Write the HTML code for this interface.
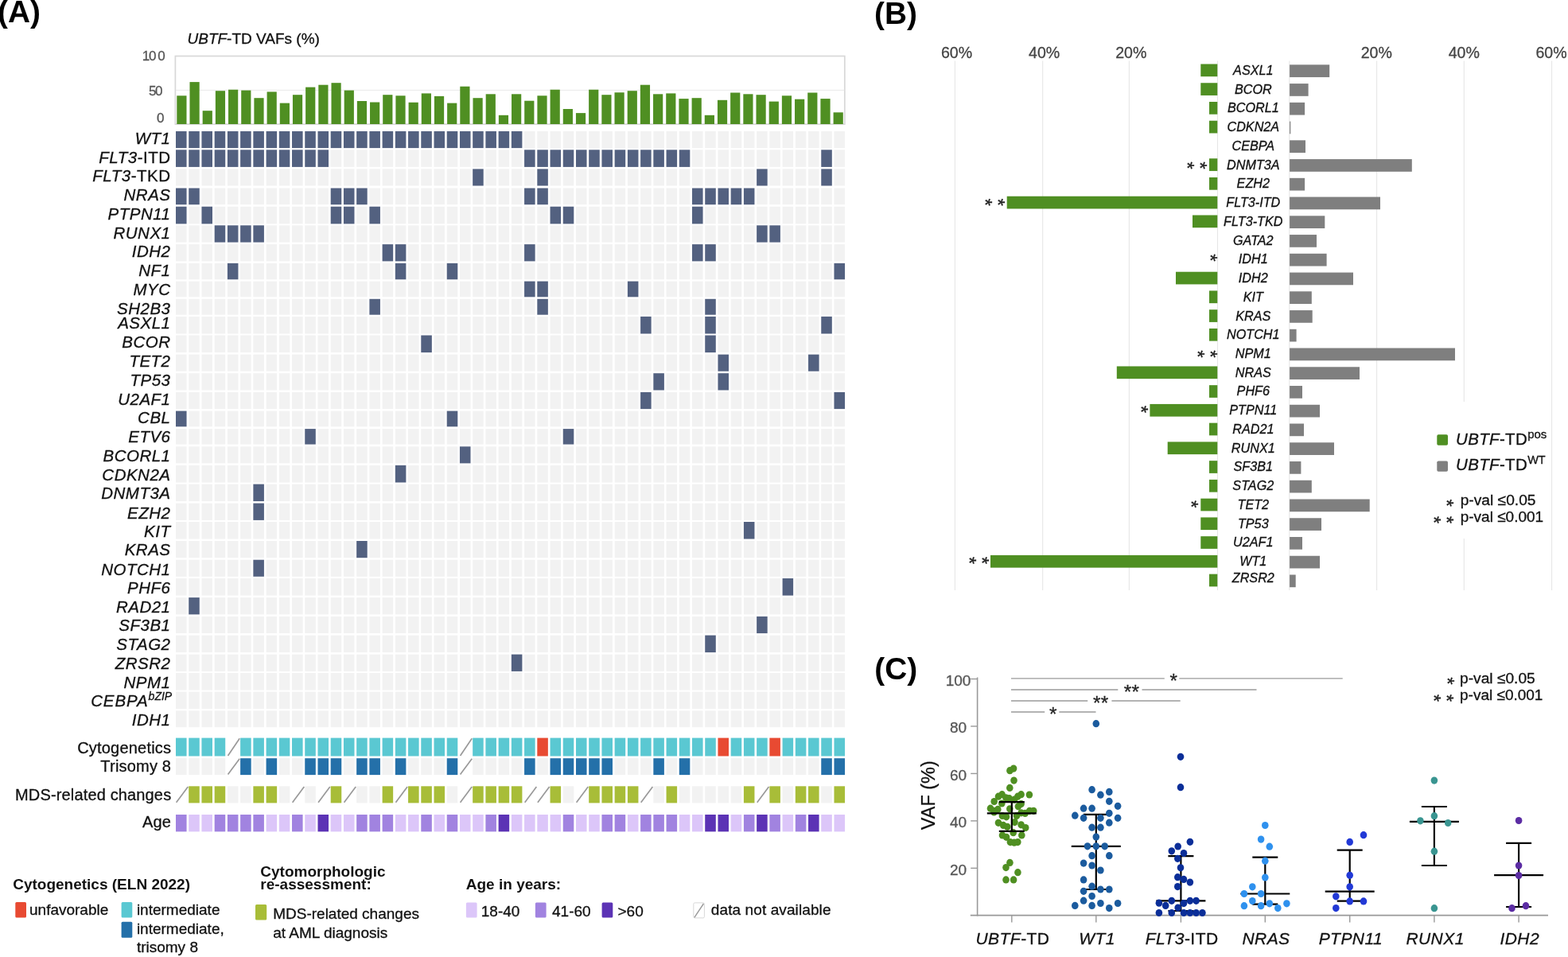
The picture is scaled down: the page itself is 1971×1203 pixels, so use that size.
<!DOCTYPE html>
<html><head><meta charset="utf-8"><title>UBTF-TD figure</title>
<style>
html,body{margin:0;padding:0;background:#fff;width:1971px;height:1203px;overflow:hidden;}
svg{display:block;}
text{font-family:"Liberation Sans", Arial, sans-serif;}
text{stroke-width:0.3px;}
</style></head><body>
<svg width="1971" height="1203" viewBox="0 0 1971 1203">
<text x="-2.9" y="27.8" font-size="38.8" font-weight="bold" fill="#000">(A)</text>
<text x="235.5" y="55" font-size="19" fill="#111111" stroke="#111111"><tspan font-style="italic">UBTF</tspan>-TD VAFs (%)</text>
<text x="178.8" y="76.4" font-size="17" fill="#555" letter-spacing="-1.2" stroke="#555">10</text>
<text x="198.2" y="76.4" font-size="17" fill="#555" stroke="#555">0</text>
<text x="187" y="119.6" font-size="17" fill="#555" letter-spacing="-1.5" stroke="#555">50</text>
<text x="197.1" y="153.6" font-size="17" fill="#555" stroke="#555">0</text>
<rect x="220.4" y="70.5" width="841.4" height="85.6" fill="none" stroke="#d8d8d8" stroke-width="1.7"/>
<line x1="221" y1="113.3" x2="1061.2" y2="113.3" stroke="#e8e8e8" stroke-width="1"/>
<rect x="222.3" y="120.3" width="12.2" height="35.7" fill="#4f8f22"/>
<rect x="238.48" y="103.1" width="12.2" height="52.9" fill="#4f8f22"/>
<rect x="254.66" y="139.2" width="12.2" height="16.8" fill="#4f8f22"/>
<rect x="270.85" y="114.2" width="12.2" height="41.8" fill="#4f8f22"/>
<rect x="287.03" y="112.7" width="12.2" height="43.3" fill="#4f8f22"/>
<rect x="303.21" y="113.6" width="12.2" height="42.4" fill="#4f8f22"/>
<rect x="319.39" y="123.2" width="12.2" height="32.8" fill="#4f8f22"/>
<rect x="335.57" y="115.4" width="12.2" height="40.6" fill="#4f8f22"/>
<rect x="351.76" y="129.6" width="12.2" height="26.4" fill="#4f8f22"/>
<rect x="367.94" y="119.2" width="12.2" height="36.8" fill="#4f8f22"/>
<rect x="384.12" y="109.6" width="12.2" height="46.4" fill="#4f8f22"/>
<rect x="400.3" y="106.7" width="12.2" height="49.3" fill="#4f8f22"/>
<rect x="416.48" y="104.2" width="12.2" height="51.8" fill="#4f8f22"/>
<rect x="432.67" y="113.6" width="12.2" height="42.4" fill="#4f8f22"/>
<rect x="448.85" y="127" width="12.2" height="29" fill="#4f8f22"/>
<rect x="465.03" y="128.5" width="12.2" height="27.5" fill="#4f8f22"/>
<rect x="481.21" y="119.2" width="12.2" height="36.8" fill="#4f8f22"/>
<rect x="497.39" y="120.3" width="12.2" height="35.7" fill="#4f8f22"/>
<rect x="513.58" y="128.75" width="12.2" height="27.25" fill="#4f8f22"/>
<rect x="529.76" y="117.4" width="12.2" height="38.6" fill="#4f8f22"/>
<rect x="545.94" y="120.9" width="12.2" height="35.1" fill="#4f8f22"/>
<rect x="562.12" y="129.6" width="12.2" height="26.4" fill="#4f8f22"/>
<rect x="578.3" y="108.7" width="12.2" height="47.3" fill="#4f8f22"/>
<rect x="594.49" y="123.2" width="12.2" height="32.8" fill="#4f8f22"/>
<rect x="610.67" y="118.3" width="12.2" height="37.7" fill="#4f8f22"/>
<rect x="626.85" y="144.8" width="12.2" height="11.2" fill="#4f8f22"/>
<rect x="643.03" y="118.3" width="12.2" height="37.7" fill="#4f8f22"/>
<rect x="659.21" y="126.7" width="12.2" height="29.3" fill="#4f8f22"/>
<rect x="675.4" y="120.3" width="12.2" height="35.7" fill="#4f8f22"/>
<rect x="691.58" y="112.7" width="12.2" height="43.3" fill="#4f8f22"/>
<rect x="707.76" y="137" width="12.2" height="19" fill="#4f8f22"/>
<rect x="723.94" y="142.1" width="12.2" height="13.9" fill="#4f8f22"/>
<rect x="740.12" y="112.7" width="12.2" height="43.3" fill="#4f8f22"/>
<rect x="756.31" y="119.2" width="12.2" height="36.8" fill="#4f8f22"/>
<rect x="772.49" y="116.25" width="12.2" height="39.75" fill="#4f8f22"/>
<rect x="788.67" y="114.2" width="12.2" height="41.8" fill="#4f8f22"/>
<rect x="804.85" y="106.7" width="12.2" height="49.3" fill="#4f8f22"/>
<rect x="821.03" y="118.3" width="12.2" height="37.7" fill="#4f8f22"/>
<rect x="837.22" y="117.4" width="12.2" height="38.6" fill="#4f8f22"/>
<rect x="853.4" y="124.1" width="12.2" height="31.9" fill="#4f8f22"/>
<rect x="869.58" y="123.2" width="12.2" height="32.8" fill="#4f8f22"/>
<rect x="885.76" y="144.8" width="12.2" height="11.2" fill="#4f8f22"/>
<rect x="901.94" y="125.8" width="12.2" height="30.2" fill="#4f8f22"/>
<rect x="918.13" y="116.5" width="12.2" height="39.5" fill="#4f8f22"/>
<rect x="934.31" y="118.3" width="12.2" height="37.7" fill="#4f8f22"/>
<rect x="950.49" y="119.2" width="12.2" height="36.8" fill="#4f8f22"/>
<rect x="966.67" y="127.6" width="12.2" height="28.4" fill="#4f8f22"/>
<rect x="982.85" y="120.3" width="12.2" height="35.7" fill="#4f8f22"/>
<rect x="999.04" y="124.7" width="12.2" height="31.3" fill="#4f8f22"/>
<rect x="1015.22" y="116.5" width="12.2" height="39.5" fill="#4f8f22"/>
<rect x="1031.4" y="124.1" width="12.2" height="31.9" fill="#4f8f22"/>
<rect x="1047.58" y="141.3" width="12.2" height="14.7" fill="#4f8f22"/>
<rect x="221" y="165" width="13.55" height="21.1" fill="#536180"/>
<rect x="237.22" y="165" width="13.55" height="21.1" fill="#536180"/>
<rect x="253.45" y="165" width="13.55" height="21.1" fill="#536180"/>
<rect x="269.68" y="165" width="13.55" height="21.1" fill="#536180"/>
<rect x="285.9" y="165" width="13.55" height="21.1" fill="#536180"/>
<rect x="302.12" y="165" width="13.55" height="21.1" fill="#536180"/>
<rect x="318.35" y="165" width="13.55" height="21.1" fill="#536180"/>
<rect x="334.58" y="165" width="13.55" height="21.1" fill="#536180"/>
<rect x="350.8" y="165" width="13.55" height="21.1" fill="#536180"/>
<rect x="367.02" y="165" width="13.55" height="21.1" fill="#536180"/>
<rect x="383.25" y="165" width="13.55" height="21.1" fill="#536180"/>
<rect x="399.48" y="165" width="13.55" height="21.1" fill="#536180"/>
<rect x="415.7" y="165" width="13.55" height="21.1" fill="#536180"/>
<rect x="431.93" y="165" width="13.55" height="21.1" fill="#536180"/>
<rect x="448.15" y="165" width="13.55" height="21.1" fill="#536180"/>
<rect x="464.38" y="165" width="13.55" height="21.1" fill="#536180"/>
<rect x="480.6" y="165" width="13.55" height="21.1" fill="#536180"/>
<rect x="496.83" y="165" width="13.55" height="21.1" fill="#536180"/>
<rect x="513.05" y="165" width="13.55" height="21.1" fill="#536180"/>
<rect x="529.28" y="165" width="13.55" height="21.1" fill="#536180"/>
<rect x="545.5" y="165" width="13.55" height="21.1" fill="#536180"/>
<rect x="561.73" y="165" width="13.55" height="21.1" fill="#536180"/>
<rect x="577.95" y="165" width="13.55" height="21.1" fill="#536180"/>
<rect x="594.17" y="165" width="13.55" height="21.1" fill="#536180"/>
<rect x="610.4" y="165" width="13.55" height="21.1" fill="#536180"/>
<rect x="626.62" y="165" width="13.55" height="21.1" fill="#536180"/>
<rect x="642.85" y="165" width="13.55" height="21.1" fill="#536180"/>
<rect x="659.08" y="165" width="13.55" height="21.1" fill="#f2f2f2"/>
<rect x="675.3" y="165" width="13.55" height="21.1" fill="#f2f2f2"/>
<rect x="691.53" y="165" width="13.55" height="21.1" fill="#f2f2f2"/>
<rect x="707.75" y="165" width="13.55" height="21.1" fill="#f2f2f2"/>
<rect x="723.98" y="165" width="13.55" height="21.1" fill="#f2f2f2"/>
<rect x="740.2" y="165" width="13.55" height="21.1" fill="#f2f2f2"/>
<rect x="756.43" y="165" width="13.55" height="21.1" fill="#f2f2f2"/>
<rect x="772.65" y="165" width="13.55" height="21.1" fill="#f2f2f2"/>
<rect x="788.88" y="165" width="13.55" height="21.1" fill="#f2f2f2"/>
<rect x="805.1" y="165" width="13.55" height="21.1" fill="#f2f2f2"/>
<rect x="821.33" y="165" width="13.55" height="21.1" fill="#f2f2f2"/>
<rect x="837.55" y="165" width="13.55" height="21.1" fill="#f2f2f2"/>
<rect x="853.78" y="165" width="13.55" height="21.1" fill="#f2f2f2"/>
<rect x="870" y="165" width="13.55" height="21.1" fill="#f2f2f2"/>
<rect x="886.23" y="165" width="13.55" height="21.1" fill="#f2f2f2"/>
<rect x="902.45" y="165" width="13.55" height="21.1" fill="#f2f2f2"/>
<rect x="918.68" y="165" width="13.55" height="21.1" fill="#f2f2f2"/>
<rect x="934.9" y="165" width="13.55" height="21.1" fill="#f2f2f2"/>
<rect x="951.13" y="165" width="13.55" height="21.1" fill="#f2f2f2"/>
<rect x="967.35" y="165" width="13.55" height="21.1" fill="#f2f2f2"/>
<rect x="983.58" y="165" width="13.55" height="21.1" fill="#f2f2f2"/>
<rect x="999.8" y="165" width="13.55" height="21.1" fill="#f2f2f2"/>
<rect x="1016.03" y="165" width="13.55" height="21.1" fill="#f2f2f2"/>
<rect x="1032.25" y="165" width="13.55" height="21.1" fill="#f2f2f2"/>
<rect x="1048.47" y="165" width="13.55" height="21.1" fill="#f2f2f2"/>
<rect x="221" y="188.3" width="13.55" height="21.6" fill="#536180"/>
<rect x="237.22" y="188.3" width="13.55" height="21.6" fill="#536180"/>
<rect x="253.45" y="188.3" width="13.55" height="21.6" fill="#536180"/>
<rect x="269.68" y="188.3" width="13.55" height="21.6" fill="#536180"/>
<rect x="285.9" y="188.3" width="13.55" height="21.6" fill="#536180"/>
<rect x="302.12" y="188.3" width="13.55" height="21.6" fill="#536180"/>
<rect x="318.35" y="188.3" width="13.55" height="21.6" fill="#536180"/>
<rect x="334.58" y="188.3" width="13.55" height="21.6" fill="#536180"/>
<rect x="350.8" y="188.3" width="13.55" height="21.6" fill="#536180"/>
<rect x="367.02" y="188.3" width="13.55" height="21.6" fill="#536180"/>
<rect x="383.25" y="188.3" width="13.55" height="21.6" fill="#536180"/>
<rect x="399.48" y="188.3" width="13.55" height="21.6" fill="#536180"/>
<rect x="415.7" y="188.3" width="13.55" height="21.6" fill="#f2f2f2"/>
<rect x="431.93" y="188.3" width="13.55" height="21.6" fill="#f2f2f2"/>
<rect x="448.15" y="188.3" width="13.55" height="21.6" fill="#f2f2f2"/>
<rect x="464.38" y="188.3" width="13.55" height="21.6" fill="#f2f2f2"/>
<rect x="480.6" y="188.3" width="13.55" height="21.6" fill="#f2f2f2"/>
<rect x="496.83" y="188.3" width="13.55" height="21.6" fill="#f2f2f2"/>
<rect x="513.05" y="188.3" width="13.55" height="21.6" fill="#f2f2f2"/>
<rect x="529.28" y="188.3" width="13.55" height="21.6" fill="#f2f2f2"/>
<rect x="545.5" y="188.3" width="13.55" height="21.6" fill="#f2f2f2"/>
<rect x="561.73" y="188.3" width="13.55" height="21.6" fill="#f2f2f2"/>
<rect x="577.95" y="188.3" width="13.55" height="21.6" fill="#f2f2f2"/>
<rect x="594.17" y="188.3" width="13.55" height="21.6" fill="#f2f2f2"/>
<rect x="610.4" y="188.3" width="13.55" height="21.6" fill="#f2f2f2"/>
<rect x="626.62" y="188.3" width="13.55" height="21.6" fill="#f2f2f2"/>
<rect x="642.85" y="188.3" width="13.55" height="21.6" fill="#f2f2f2"/>
<rect x="659.08" y="188.3" width="13.55" height="21.6" fill="#536180"/>
<rect x="675.3" y="188.3" width="13.55" height="21.6" fill="#536180"/>
<rect x="691.53" y="188.3" width="13.55" height="21.6" fill="#536180"/>
<rect x="707.75" y="188.3" width="13.55" height="21.6" fill="#536180"/>
<rect x="723.98" y="188.3" width="13.55" height="21.6" fill="#536180"/>
<rect x="740.2" y="188.3" width="13.55" height="21.6" fill="#536180"/>
<rect x="756.43" y="188.3" width="13.55" height="21.6" fill="#536180"/>
<rect x="772.65" y="188.3" width="13.55" height="21.6" fill="#536180"/>
<rect x="788.88" y="188.3" width="13.55" height="21.6" fill="#536180"/>
<rect x="805.1" y="188.3" width="13.55" height="21.6" fill="#536180"/>
<rect x="821.33" y="188.3" width="13.55" height="21.6" fill="#536180"/>
<rect x="837.55" y="188.3" width="13.55" height="21.6" fill="#536180"/>
<rect x="853.78" y="188.3" width="13.55" height="21.6" fill="#536180"/>
<rect x="870" y="188.3" width="13.55" height="21.6" fill="#f2f2f2"/>
<rect x="886.23" y="188.3" width="13.55" height="21.6" fill="#f2f2f2"/>
<rect x="902.45" y="188.3" width="13.55" height="21.6" fill="#f2f2f2"/>
<rect x="918.68" y="188.3" width="13.55" height="21.6" fill="#f2f2f2"/>
<rect x="934.9" y="188.3" width="13.55" height="21.6" fill="#f2f2f2"/>
<rect x="951.13" y="188.3" width="13.55" height="21.6" fill="#f2f2f2"/>
<rect x="967.35" y="188.3" width="13.55" height="21.6" fill="#f2f2f2"/>
<rect x="983.58" y="188.3" width="13.55" height="21.6" fill="#f2f2f2"/>
<rect x="999.8" y="188.3" width="13.55" height="21.6" fill="#f2f2f2"/>
<rect x="1016.03" y="188.3" width="13.55" height="21.6" fill="#f2f2f2"/>
<rect x="1032.25" y="188.3" width="13.55" height="21.6" fill="#536180"/>
<rect x="1048.47" y="188.3" width="13.55" height="21.6" fill="#f2f2f2"/>
<rect x="221" y="212.4" width="13.55" height="21.1" fill="#f2f2f2"/>
<rect x="237.22" y="212.4" width="13.55" height="21.1" fill="#f2f2f2"/>
<rect x="253.45" y="212.4" width="13.55" height="21.1" fill="#f2f2f2"/>
<rect x="269.68" y="212.4" width="13.55" height="21.1" fill="#f2f2f2"/>
<rect x="285.9" y="212.4" width="13.55" height="21.1" fill="#f2f2f2"/>
<rect x="302.12" y="212.4" width="13.55" height="21.1" fill="#f2f2f2"/>
<rect x="318.35" y="212.4" width="13.55" height="21.1" fill="#f2f2f2"/>
<rect x="334.58" y="212.4" width="13.55" height="21.1" fill="#f2f2f2"/>
<rect x="350.8" y="212.4" width="13.55" height="21.1" fill="#f2f2f2"/>
<rect x="367.02" y="212.4" width="13.55" height="21.1" fill="#f2f2f2"/>
<rect x="383.25" y="212.4" width="13.55" height="21.1" fill="#f2f2f2"/>
<rect x="399.48" y="212.4" width="13.55" height="21.1" fill="#f2f2f2"/>
<rect x="415.7" y="212.4" width="13.55" height="21.1" fill="#f2f2f2"/>
<rect x="431.93" y="212.4" width="13.55" height="21.1" fill="#f2f2f2"/>
<rect x="448.15" y="212.4" width="13.55" height="21.1" fill="#f2f2f2"/>
<rect x="464.38" y="212.4" width="13.55" height="21.1" fill="#f2f2f2"/>
<rect x="480.6" y="212.4" width="13.55" height="21.1" fill="#f2f2f2"/>
<rect x="496.83" y="212.4" width="13.55" height="21.1" fill="#f2f2f2"/>
<rect x="513.05" y="212.4" width="13.55" height="21.1" fill="#f2f2f2"/>
<rect x="529.28" y="212.4" width="13.55" height="21.1" fill="#f2f2f2"/>
<rect x="545.5" y="212.4" width="13.55" height="21.1" fill="#f2f2f2"/>
<rect x="561.73" y="212.4" width="13.55" height="21.1" fill="#f2f2f2"/>
<rect x="577.95" y="212.4" width="13.55" height="21.1" fill="#f2f2f2"/>
<rect x="594.17" y="212.4" width="13.55" height="21.1" fill="#536180"/>
<rect x="610.4" y="212.4" width="13.55" height="21.1" fill="#f2f2f2"/>
<rect x="626.62" y="212.4" width="13.55" height="21.1" fill="#f2f2f2"/>
<rect x="642.85" y="212.4" width="13.55" height="21.1" fill="#f2f2f2"/>
<rect x="659.08" y="212.4" width="13.55" height="21.1" fill="#f2f2f2"/>
<rect x="675.3" y="212.4" width="13.55" height="21.1" fill="#536180"/>
<rect x="691.53" y="212.4" width="13.55" height="21.1" fill="#f2f2f2"/>
<rect x="707.75" y="212.4" width="13.55" height="21.1" fill="#f2f2f2"/>
<rect x="723.98" y="212.4" width="13.55" height="21.1" fill="#f2f2f2"/>
<rect x="740.2" y="212.4" width="13.55" height="21.1" fill="#f2f2f2"/>
<rect x="756.43" y="212.4" width="13.55" height="21.1" fill="#f2f2f2"/>
<rect x="772.65" y="212.4" width="13.55" height="21.1" fill="#f2f2f2"/>
<rect x="788.88" y="212.4" width="13.55" height="21.1" fill="#f2f2f2"/>
<rect x="805.1" y="212.4" width="13.55" height="21.1" fill="#f2f2f2"/>
<rect x="821.33" y="212.4" width="13.55" height="21.1" fill="#f2f2f2"/>
<rect x="837.55" y="212.4" width="13.55" height="21.1" fill="#f2f2f2"/>
<rect x="853.78" y="212.4" width="13.55" height="21.1" fill="#f2f2f2"/>
<rect x="870" y="212.4" width="13.55" height="21.1" fill="#f2f2f2"/>
<rect x="886.23" y="212.4" width="13.55" height="21.1" fill="#f2f2f2"/>
<rect x="902.45" y="212.4" width="13.55" height="21.1" fill="#f2f2f2"/>
<rect x="918.68" y="212.4" width="13.55" height="21.1" fill="#f2f2f2"/>
<rect x="934.9" y="212.4" width="13.55" height="21.1" fill="#f2f2f2"/>
<rect x="951.13" y="212.4" width="13.55" height="21.1" fill="#536180"/>
<rect x="967.35" y="212.4" width="13.55" height="21.1" fill="#f2f2f2"/>
<rect x="983.58" y="212.4" width="13.55" height="21.1" fill="#f2f2f2"/>
<rect x="999.8" y="212.4" width="13.55" height="21.1" fill="#f2f2f2"/>
<rect x="1016.03" y="212.4" width="13.55" height="21.1" fill="#f2f2f2"/>
<rect x="1032.25" y="212.4" width="13.55" height="21.1" fill="#536180"/>
<rect x="1048.47" y="212.4" width="13.55" height="21.1" fill="#f2f2f2"/>
<rect x="221" y="236.5" width="13.55" height="20.7" fill="#536180"/>
<rect x="237.22" y="236.5" width="13.55" height="20.7" fill="#536180"/>
<rect x="253.45" y="236.5" width="13.55" height="20.7" fill="#f2f2f2"/>
<rect x="269.68" y="236.5" width="13.55" height="20.7" fill="#f2f2f2"/>
<rect x="285.9" y="236.5" width="13.55" height="20.7" fill="#f2f2f2"/>
<rect x="302.12" y="236.5" width="13.55" height="20.7" fill="#f2f2f2"/>
<rect x="318.35" y="236.5" width="13.55" height="20.7" fill="#f2f2f2"/>
<rect x="334.58" y="236.5" width="13.55" height="20.7" fill="#f2f2f2"/>
<rect x="350.8" y="236.5" width="13.55" height="20.7" fill="#f2f2f2"/>
<rect x="367.02" y="236.5" width="13.55" height="20.7" fill="#f2f2f2"/>
<rect x="383.25" y="236.5" width="13.55" height="20.7" fill="#f2f2f2"/>
<rect x="399.48" y="236.5" width="13.55" height="20.7" fill="#f2f2f2"/>
<rect x="415.7" y="236.5" width="13.55" height="20.7" fill="#536180"/>
<rect x="431.93" y="236.5" width="13.55" height="20.7" fill="#536180"/>
<rect x="448.15" y="236.5" width="13.55" height="20.7" fill="#536180"/>
<rect x="464.38" y="236.5" width="13.55" height="20.7" fill="#f2f2f2"/>
<rect x="480.6" y="236.5" width="13.55" height="20.7" fill="#f2f2f2"/>
<rect x="496.83" y="236.5" width="13.55" height="20.7" fill="#f2f2f2"/>
<rect x="513.05" y="236.5" width="13.55" height="20.7" fill="#f2f2f2"/>
<rect x="529.28" y="236.5" width="13.55" height="20.7" fill="#f2f2f2"/>
<rect x="545.5" y="236.5" width="13.55" height="20.7" fill="#f2f2f2"/>
<rect x="561.73" y="236.5" width="13.55" height="20.7" fill="#f2f2f2"/>
<rect x="577.95" y="236.5" width="13.55" height="20.7" fill="#f2f2f2"/>
<rect x="594.17" y="236.5" width="13.55" height="20.7" fill="#f2f2f2"/>
<rect x="610.4" y="236.5" width="13.55" height="20.7" fill="#f2f2f2"/>
<rect x="626.62" y="236.5" width="13.55" height="20.7" fill="#f2f2f2"/>
<rect x="642.85" y="236.5" width="13.55" height="20.7" fill="#f2f2f2"/>
<rect x="659.08" y="236.5" width="13.55" height="20.7" fill="#536180"/>
<rect x="675.3" y="236.5" width="13.55" height="20.7" fill="#536180"/>
<rect x="691.53" y="236.5" width="13.55" height="20.7" fill="#f2f2f2"/>
<rect x="707.75" y="236.5" width="13.55" height="20.7" fill="#f2f2f2"/>
<rect x="723.98" y="236.5" width="13.55" height="20.7" fill="#f2f2f2"/>
<rect x="740.2" y="236.5" width="13.55" height="20.7" fill="#f2f2f2"/>
<rect x="756.43" y="236.5" width="13.55" height="20.7" fill="#f2f2f2"/>
<rect x="772.65" y="236.5" width="13.55" height="20.7" fill="#f2f2f2"/>
<rect x="788.88" y="236.5" width="13.55" height="20.7" fill="#f2f2f2"/>
<rect x="805.1" y="236.5" width="13.55" height="20.7" fill="#f2f2f2"/>
<rect x="821.33" y="236.5" width="13.55" height="20.7" fill="#f2f2f2"/>
<rect x="837.55" y="236.5" width="13.55" height="20.7" fill="#f2f2f2"/>
<rect x="853.78" y="236.5" width="13.55" height="20.7" fill="#f2f2f2"/>
<rect x="870" y="236.5" width="13.55" height="20.7" fill="#536180"/>
<rect x="886.23" y="236.5" width="13.55" height="20.7" fill="#536180"/>
<rect x="902.45" y="236.5" width="13.55" height="20.7" fill="#536180"/>
<rect x="918.68" y="236.5" width="13.55" height="20.7" fill="#536180"/>
<rect x="934.9" y="236.5" width="13.55" height="20.7" fill="#536180"/>
<rect x="951.13" y="236.5" width="13.55" height="20.7" fill="#f2f2f2"/>
<rect x="967.35" y="236.5" width="13.55" height="20.7" fill="#f2f2f2"/>
<rect x="983.58" y="236.5" width="13.55" height="20.7" fill="#f2f2f2"/>
<rect x="999.8" y="236.5" width="13.55" height="20.7" fill="#f2f2f2"/>
<rect x="1016.03" y="236.5" width="13.55" height="20.7" fill="#f2f2f2"/>
<rect x="1032.25" y="236.5" width="13.55" height="20.7" fill="#f2f2f2"/>
<rect x="1048.47" y="236.5" width="13.55" height="20.7" fill="#f2f2f2"/>
<rect x="221" y="259.7" width="13.55" height="21.7" fill="#536180"/>
<rect x="237.22" y="259.7" width="13.55" height="21.7" fill="#f2f2f2"/>
<rect x="253.45" y="259.7" width="13.55" height="21.7" fill="#536180"/>
<rect x="269.68" y="259.7" width="13.55" height="21.7" fill="#f2f2f2"/>
<rect x="285.9" y="259.7" width="13.55" height="21.7" fill="#f2f2f2"/>
<rect x="302.12" y="259.7" width="13.55" height="21.7" fill="#f2f2f2"/>
<rect x="318.35" y="259.7" width="13.55" height="21.7" fill="#f2f2f2"/>
<rect x="334.58" y="259.7" width="13.55" height="21.7" fill="#f2f2f2"/>
<rect x="350.8" y="259.7" width="13.55" height="21.7" fill="#f2f2f2"/>
<rect x="367.02" y="259.7" width="13.55" height="21.7" fill="#f2f2f2"/>
<rect x="383.25" y="259.7" width="13.55" height="21.7" fill="#f2f2f2"/>
<rect x="399.48" y="259.7" width="13.55" height="21.7" fill="#f2f2f2"/>
<rect x="415.7" y="259.7" width="13.55" height="21.7" fill="#536180"/>
<rect x="431.93" y="259.7" width="13.55" height="21.7" fill="#536180"/>
<rect x="448.15" y="259.7" width="13.55" height="21.7" fill="#f2f2f2"/>
<rect x="464.38" y="259.7" width="13.55" height="21.7" fill="#536180"/>
<rect x="480.6" y="259.7" width="13.55" height="21.7" fill="#f2f2f2"/>
<rect x="496.83" y="259.7" width="13.55" height="21.7" fill="#f2f2f2"/>
<rect x="513.05" y="259.7" width="13.55" height="21.7" fill="#f2f2f2"/>
<rect x="529.28" y="259.7" width="13.55" height="21.7" fill="#f2f2f2"/>
<rect x="545.5" y="259.7" width="13.55" height="21.7" fill="#f2f2f2"/>
<rect x="561.73" y="259.7" width="13.55" height="21.7" fill="#f2f2f2"/>
<rect x="577.95" y="259.7" width="13.55" height="21.7" fill="#f2f2f2"/>
<rect x="594.17" y="259.7" width="13.55" height="21.7" fill="#f2f2f2"/>
<rect x="610.4" y="259.7" width="13.55" height="21.7" fill="#f2f2f2"/>
<rect x="626.62" y="259.7" width="13.55" height="21.7" fill="#f2f2f2"/>
<rect x="642.85" y="259.7" width="13.55" height="21.7" fill="#f2f2f2"/>
<rect x="659.08" y="259.7" width="13.55" height="21.7" fill="#f2f2f2"/>
<rect x="675.3" y="259.7" width="13.55" height="21.7" fill="#f2f2f2"/>
<rect x="691.53" y="259.7" width="13.55" height="21.7" fill="#536180"/>
<rect x="707.75" y="259.7" width="13.55" height="21.7" fill="#536180"/>
<rect x="723.98" y="259.7" width="13.55" height="21.7" fill="#f2f2f2"/>
<rect x="740.2" y="259.7" width="13.55" height="21.7" fill="#f2f2f2"/>
<rect x="756.43" y="259.7" width="13.55" height="21.7" fill="#f2f2f2"/>
<rect x="772.65" y="259.7" width="13.55" height="21.7" fill="#f2f2f2"/>
<rect x="788.88" y="259.7" width="13.55" height="21.7" fill="#f2f2f2"/>
<rect x="805.1" y="259.7" width="13.55" height="21.7" fill="#f2f2f2"/>
<rect x="821.33" y="259.7" width="13.55" height="21.7" fill="#f2f2f2"/>
<rect x="837.55" y="259.7" width="13.55" height="21.7" fill="#f2f2f2"/>
<rect x="853.78" y="259.7" width="13.55" height="21.7" fill="#f2f2f2"/>
<rect x="870" y="259.7" width="13.55" height="21.7" fill="#536180"/>
<rect x="886.23" y="259.7" width="13.55" height="21.7" fill="#f2f2f2"/>
<rect x="902.45" y="259.7" width="13.55" height="21.7" fill="#f2f2f2"/>
<rect x="918.68" y="259.7" width="13.55" height="21.7" fill="#f2f2f2"/>
<rect x="934.9" y="259.7" width="13.55" height="21.7" fill="#f2f2f2"/>
<rect x="951.13" y="259.7" width="13.55" height="21.7" fill="#f2f2f2"/>
<rect x="967.35" y="259.7" width="13.55" height="21.7" fill="#f2f2f2"/>
<rect x="983.58" y="259.7" width="13.55" height="21.7" fill="#f2f2f2"/>
<rect x="999.8" y="259.7" width="13.55" height="21.7" fill="#f2f2f2"/>
<rect x="1016.03" y="259.7" width="13.55" height="21.7" fill="#f2f2f2"/>
<rect x="1032.25" y="259.7" width="13.55" height="21.7" fill="#f2f2f2"/>
<rect x="1048.47" y="259.7" width="13.55" height="21.7" fill="#f2f2f2"/>
<rect x="221" y="283.3" width="13.55" height="21.3" fill="#f2f2f2"/>
<rect x="237.22" y="283.3" width="13.55" height="21.3" fill="#f2f2f2"/>
<rect x="253.45" y="283.3" width="13.55" height="21.3" fill="#f2f2f2"/>
<rect x="269.68" y="283.3" width="13.55" height="21.3" fill="#536180"/>
<rect x="285.9" y="283.3" width="13.55" height="21.3" fill="#536180"/>
<rect x="302.12" y="283.3" width="13.55" height="21.3" fill="#536180"/>
<rect x="318.35" y="283.3" width="13.55" height="21.3" fill="#536180"/>
<rect x="334.58" y="283.3" width="13.55" height="21.3" fill="#f2f2f2"/>
<rect x="350.8" y="283.3" width="13.55" height="21.3" fill="#f2f2f2"/>
<rect x="367.02" y="283.3" width="13.55" height="21.3" fill="#f2f2f2"/>
<rect x="383.25" y="283.3" width="13.55" height="21.3" fill="#f2f2f2"/>
<rect x="399.48" y="283.3" width="13.55" height="21.3" fill="#f2f2f2"/>
<rect x="415.7" y="283.3" width="13.55" height="21.3" fill="#f2f2f2"/>
<rect x="431.93" y="283.3" width="13.55" height="21.3" fill="#f2f2f2"/>
<rect x="448.15" y="283.3" width="13.55" height="21.3" fill="#f2f2f2"/>
<rect x="464.38" y="283.3" width="13.55" height="21.3" fill="#f2f2f2"/>
<rect x="480.6" y="283.3" width="13.55" height="21.3" fill="#f2f2f2"/>
<rect x="496.83" y="283.3" width="13.55" height="21.3" fill="#f2f2f2"/>
<rect x="513.05" y="283.3" width="13.55" height="21.3" fill="#f2f2f2"/>
<rect x="529.28" y="283.3" width="13.55" height="21.3" fill="#f2f2f2"/>
<rect x="545.5" y="283.3" width="13.55" height="21.3" fill="#f2f2f2"/>
<rect x="561.73" y="283.3" width="13.55" height="21.3" fill="#f2f2f2"/>
<rect x="577.95" y="283.3" width="13.55" height="21.3" fill="#f2f2f2"/>
<rect x="594.17" y="283.3" width="13.55" height="21.3" fill="#f2f2f2"/>
<rect x="610.4" y="283.3" width="13.55" height="21.3" fill="#f2f2f2"/>
<rect x="626.62" y="283.3" width="13.55" height="21.3" fill="#f2f2f2"/>
<rect x="642.85" y="283.3" width="13.55" height="21.3" fill="#f2f2f2"/>
<rect x="659.08" y="283.3" width="13.55" height="21.3" fill="#f2f2f2"/>
<rect x="675.3" y="283.3" width="13.55" height="21.3" fill="#f2f2f2"/>
<rect x="691.53" y="283.3" width="13.55" height="21.3" fill="#f2f2f2"/>
<rect x="707.75" y="283.3" width="13.55" height="21.3" fill="#f2f2f2"/>
<rect x="723.98" y="283.3" width="13.55" height="21.3" fill="#f2f2f2"/>
<rect x="740.2" y="283.3" width="13.55" height="21.3" fill="#f2f2f2"/>
<rect x="756.43" y="283.3" width="13.55" height="21.3" fill="#f2f2f2"/>
<rect x="772.65" y="283.3" width="13.55" height="21.3" fill="#f2f2f2"/>
<rect x="788.88" y="283.3" width="13.55" height="21.3" fill="#f2f2f2"/>
<rect x="805.1" y="283.3" width="13.55" height="21.3" fill="#f2f2f2"/>
<rect x="821.33" y="283.3" width="13.55" height="21.3" fill="#f2f2f2"/>
<rect x="837.55" y="283.3" width="13.55" height="21.3" fill="#f2f2f2"/>
<rect x="853.78" y="283.3" width="13.55" height="21.3" fill="#f2f2f2"/>
<rect x="870" y="283.3" width="13.55" height="21.3" fill="#f2f2f2"/>
<rect x="886.23" y="283.3" width="13.55" height="21.3" fill="#f2f2f2"/>
<rect x="902.45" y="283.3" width="13.55" height="21.3" fill="#f2f2f2"/>
<rect x="918.68" y="283.3" width="13.55" height="21.3" fill="#f2f2f2"/>
<rect x="934.9" y="283.3" width="13.55" height="21.3" fill="#f2f2f2"/>
<rect x="951.13" y="283.3" width="13.55" height="21.3" fill="#536180"/>
<rect x="967.35" y="283.3" width="13.55" height="21.3" fill="#536180"/>
<rect x="983.58" y="283.3" width="13.55" height="21.3" fill="#f2f2f2"/>
<rect x="999.8" y="283.3" width="13.55" height="21.3" fill="#f2f2f2"/>
<rect x="1016.03" y="283.3" width="13.55" height="21.3" fill="#f2f2f2"/>
<rect x="1032.25" y="283.3" width="13.55" height="21.3" fill="#f2f2f2"/>
<rect x="1048.47" y="283.3" width="13.55" height="21.3" fill="#f2f2f2"/>
<rect x="221" y="307.1" width="13.55" height="21.3" fill="#f2f2f2"/>
<rect x="237.22" y="307.1" width="13.55" height="21.3" fill="#f2f2f2"/>
<rect x="253.45" y="307.1" width="13.55" height="21.3" fill="#f2f2f2"/>
<rect x="269.68" y="307.1" width="13.55" height="21.3" fill="#f2f2f2"/>
<rect x="285.9" y="307.1" width="13.55" height="21.3" fill="#f2f2f2"/>
<rect x="302.12" y="307.1" width="13.55" height="21.3" fill="#f2f2f2"/>
<rect x="318.35" y="307.1" width="13.55" height="21.3" fill="#f2f2f2"/>
<rect x="334.58" y="307.1" width="13.55" height="21.3" fill="#f2f2f2"/>
<rect x="350.8" y="307.1" width="13.55" height="21.3" fill="#f2f2f2"/>
<rect x="367.02" y="307.1" width="13.55" height="21.3" fill="#f2f2f2"/>
<rect x="383.25" y="307.1" width="13.55" height="21.3" fill="#f2f2f2"/>
<rect x="399.48" y="307.1" width="13.55" height="21.3" fill="#f2f2f2"/>
<rect x="415.7" y="307.1" width="13.55" height="21.3" fill="#f2f2f2"/>
<rect x="431.93" y="307.1" width="13.55" height="21.3" fill="#f2f2f2"/>
<rect x="448.15" y="307.1" width="13.55" height="21.3" fill="#f2f2f2"/>
<rect x="464.38" y="307.1" width="13.55" height="21.3" fill="#f2f2f2"/>
<rect x="480.6" y="307.1" width="13.55" height="21.3" fill="#536180"/>
<rect x="496.83" y="307.1" width="13.55" height="21.3" fill="#536180"/>
<rect x="513.05" y="307.1" width="13.55" height="21.3" fill="#f2f2f2"/>
<rect x="529.28" y="307.1" width="13.55" height="21.3" fill="#f2f2f2"/>
<rect x="545.5" y="307.1" width="13.55" height="21.3" fill="#f2f2f2"/>
<rect x="561.73" y="307.1" width="13.55" height="21.3" fill="#f2f2f2"/>
<rect x="577.95" y="307.1" width="13.55" height="21.3" fill="#f2f2f2"/>
<rect x="594.17" y="307.1" width="13.55" height="21.3" fill="#f2f2f2"/>
<rect x="610.4" y="307.1" width="13.55" height="21.3" fill="#f2f2f2"/>
<rect x="626.62" y="307.1" width="13.55" height="21.3" fill="#f2f2f2"/>
<rect x="642.85" y="307.1" width="13.55" height="21.3" fill="#f2f2f2"/>
<rect x="659.08" y="307.1" width="13.55" height="21.3" fill="#536180"/>
<rect x="675.3" y="307.1" width="13.55" height="21.3" fill="#f2f2f2"/>
<rect x="691.53" y="307.1" width="13.55" height="21.3" fill="#f2f2f2"/>
<rect x="707.75" y="307.1" width="13.55" height="21.3" fill="#f2f2f2"/>
<rect x="723.98" y="307.1" width="13.55" height="21.3" fill="#f2f2f2"/>
<rect x="740.2" y="307.1" width="13.55" height="21.3" fill="#f2f2f2"/>
<rect x="756.43" y="307.1" width="13.55" height="21.3" fill="#f2f2f2"/>
<rect x="772.65" y="307.1" width="13.55" height="21.3" fill="#f2f2f2"/>
<rect x="788.88" y="307.1" width="13.55" height="21.3" fill="#f2f2f2"/>
<rect x="805.1" y="307.1" width="13.55" height="21.3" fill="#f2f2f2"/>
<rect x="821.33" y="307.1" width="13.55" height="21.3" fill="#f2f2f2"/>
<rect x="837.55" y="307.1" width="13.55" height="21.3" fill="#f2f2f2"/>
<rect x="853.78" y="307.1" width="13.55" height="21.3" fill="#f2f2f2"/>
<rect x="870" y="307.1" width="13.55" height="21.3" fill="#536180"/>
<rect x="886.23" y="307.1" width="13.55" height="21.3" fill="#536180"/>
<rect x="902.45" y="307.1" width="13.55" height="21.3" fill="#f2f2f2"/>
<rect x="918.68" y="307.1" width="13.55" height="21.3" fill="#f2f2f2"/>
<rect x="934.9" y="307.1" width="13.55" height="21.3" fill="#f2f2f2"/>
<rect x="951.13" y="307.1" width="13.55" height="21.3" fill="#f2f2f2"/>
<rect x="967.35" y="307.1" width="13.55" height="21.3" fill="#f2f2f2"/>
<rect x="983.58" y="307.1" width="13.55" height="21.3" fill="#f2f2f2"/>
<rect x="999.8" y="307.1" width="13.55" height="21.3" fill="#f2f2f2"/>
<rect x="1016.03" y="307.1" width="13.55" height="21.3" fill="#f2f2f2"/>
<rect x="1032.25" y="307.1" width="13.55" height="21.3" fill="#f2f2f2"/>
<rect x="1048.47" y="307.1" width="13.55" height="21.3" fill="#f2f2f2"/>
<rect x="221" y="330.9" width="13.55" height="20.4" fill="#f2f2f2"/>
<rect x="237.22" y="330.9" width="13.55" height="20.4" fill="#f2f2f2"/>
<rect x="253.45" y="330.9" width="13.55" height="20.4" fill="#f2f2f2"/>
<rect x="269.68" y="330.9" width="13.55" height="20.4" fill="#f2f2f2"/>
<rect x="285.9" y="330.9" width="13.55" height="20.4" fill="#536180"/>
<rect x="302.12" y="330.9" width="13.55" height="20.4" fill="#f2f2f2"/>
<rect x="318.35" y="330.9" width="13.55" height="20.4" fill="#f2f2f2"/>
<rect x="334.58" y="330.9" width="13.55" height="20.4" fill="#f2f2f2"/>
<rect x="350.8" y="330.9" width="13.55" height="20.4" fill="#f2f2f2"/>
<rect x="367.02" y="330.9" width="13.55" height="20.4" fill="#f2f2f2"/>
<rect x="383.25" y="330.9" width="13.55" height="20.4" fill="#f2f2f2"/>
<rect x="399.48" y="330.9" width="13.55" height="20.4" fill="#f2f2f2"/>
<rect x="415.7" y="330.9" width="13.55" height="20.4" fill="#f2f2f2"/>
<rect x="431.93" y="330.9" width="13.55" height="20.4" fill="#f2f2f2"/>
<rect x="448.15" y="330.9" width="13.55" height="20.4" fill="#f2f2f2"/>
<rect x="464.38" y="330.9" width="13.55" height="20.4" fill="#f2f2f2"/>
<rect x="480.6" y="330.9" width="13.55" height="20.4" fill="#f2f2f2"/>
<rect x="496.83" y="330.9" width="13.55" height="20.4" fill="#536180"/>
<rect x="513.05" y="330.9" width="13.55" height="20.4" fill="#f2f2f2"/>
<rect x="529.28" y="330.9" width="13.55" height="20.4" fill="#f2f2f2"/>
<rect x="545.5" y="330.9" width="13.55" height="20.4" fill="#f2f2f2"/>
<rect x="561.73" y="330.9" width="13.55" height="20.4" fill="#536180"/>
<rect x="577.95" y="330.9" width="13.55" height="20.4" fill="#f2f2f2"/>
<rect x="594.17" y="330.9" width="13.55" height="20.4" fill="#f2f2f2"/>
<rect x="610.4" y="330.9" width="13.55" height="20.4" fill="#f2f2f2"/>
<rect x="626.62" y="330.9" width="13.55" height="20.4" fill="#f2f2f2"/>
<rect x="642.85" y="330.9" width="13.55" height="20.4" fill="#f2f2f2"/>
<rect x="659.08" y="330.9" width="13.55" height="20.4" fill="#f2f2f2"/>
<rect x="675.3" y="330.9" width="13.55" height="20.4" fill="#f2f2f2"/>
<rect x="691.53" y="330.9" width="13.55" height="20.4" fill="#f2f2f2"/>
<rect x="707.75" y="330.9" width="13.55" height="20.4" fill="#f2f2f2"/>
<rect x="723.98" y="330.9" width="13.55" height="20.4" fill="#f2f2f2"/>
<rect x="740.2" y="330.9" width="13.55" height="20.4" fill="#f2f2f2"/>
<rect x="756.43" y="330.9" width="13.55" height="20.4" fill="#f2f2f2"/>
<rect x="772.65" y="330.9" width="13.55" height="20.4" fill="#f2f2f2"/>
<rect x="788.88" y="330.9" width="13.55" height="20.4" fill="#f2f2f2"/>
<rect x="805.1" y="330.9" width="13.55" height="20.4" fill="#f2f2f2"/>
<rect x="821.33" y="330.9" width="13.55" height="20.4" fill="#f2f2f2"/>
<rect x="837.55" y="330.9" width="13.55" height="20.4" fill="#f2f2f2"/>
<rect x="853.78" y="330.9" width="13.55" height="20.4" fill="#f2f2f2"/>
<rect x="870" y="330.9" width="13.55" height="20.4" fill="#f2f2f2"/>
<rect x="886.23" y="330.9" width="13.55" height="20.4" fill="#f2f2f2"/>
<rect x="902.45" y="330.9" width="13.55" height="20.4" fill="#f2f2f2"/>
<rect x="918.68" y="330.9" width="13.55" height="20.4" fill="#f2f2f2"/>
<rect x="934.9" y="330.9" width="13.55" height="20.4" fill="#f2f2f2"/>
<rect x="951.13" y="330.9" width="13.55" height="20.4" fill="#f2f2f2"/>
<rect x="967.35" y="330.9" width="13.55" height="20.4" fill="#f2f2f2"/>
<rect x="983.58" y="330.9" width="13.55" height="20.4" fill="#f2f2f2"/>
<rect x="999.8" y="330.9" width="13.55" height="20.4" fill="#f2f2f2"/>
<rect x="1016.03" y="330.9" width="13.55" height="20.4" fill="#f2f2f2"/>
<rect x="1032.25" y="330.9" width="13.55" height="20.4" fill="#f2f2f2"/>
<rect x="1048.47" y="330.9" width="13.55" height="20.4" fill="#536180"/>
<rect x="221" y="353.6" width="13.55" height="19.7" fill="#f2f2f2"/>
<rect x="237.22" y="353.6" width="13.55" height="19.7" fill="#f2f2f2"/>
<rect x="253.45" y="353.6" width="13.55" height="19.7" fill="#f2f2f2"/>
<rect x="269.68" y="353.6" width="13.55" height="19.7" fill="#f2f2f2"/>
<rect x="285.9" y="353.6" width="13.55" height="19.7" fill="#f2f2f2"/>
<rect x="302.12" y="353.6" width="13.55" height="19.7" fill="#f2f2f2"/>
<rect x="318.35" y="353.6" width="13.55" height="19.7" fill="#f2f2f2"/>
<rect x="334.58" y="353.6" width="13.55" height="19.7" fill="#f2f2f2"/>
<rect x="350.8" y="353.6" width="13.55" height="19.7" fill="#f2f2f2"/>
<rect x="367.02" y="353.6" width="13.55" height="19.7" fill="#f2f2f2"/>
<rect x="383.25" y="353.6" width="13.55" height="19.7" fill="#f2f2f2"/>
<rect x="399.48" y="353.6" width="13.55" height="19.7" fill="#f2f2f2"/>
<rect x="415.7" y="353.6" width="13.55" height="19.7" fill="#f2f2f2"/>
<rect x="431.93" y="353.6" width="13.55" height="19.7" fill="#f2f2f2"/>
<rect x="448.15" y="353.6" width="13.55" height="19.7" fill="#f2f2f2"/>
<rect x="464.38" y="353.6" width="13.55" height="19.7" fill="#f2f2f2"/>
<rect x="480.6" y="353.6" width="13.55" height="19.7" fill="#f2f2f2"/>
<rect x="496.83" y="353.6" width="13.55" height="19.7" fill="#f2f2f2"/>
<rect x="513.05" y="353.6" width="13.55" height="19.7" fill="#f2f2f2"/>
<rect x="529.28" y="353.6" width="13.55" height="19.7" fill="#f2f2f2"/>
<rect x="545.5" y="353.6" width="13.55" height="19.7" fill="#f2f2f2"/>
<rect x="561.73" y="353.6" width="13.55" height="19.7" fill="#f2f2f2"/>
<rect x="577.95" y="353.6" width="13.55" height="19.7" fill="#f2f2f2"/>
<rect x="594.17" y="353.6" width="13.55" height="19.7" fill="#f2f2f2"/>
<rect x="610.4" y="353.6" width="13.55" height="19.7" fill="#f2f2f2"/>
<rect x="626.62" y="353.6" width="13.55" height="19.7" fill="#f2f2f2"/>
<rect x="642.85" y="353.6" width="13.55" height="19.7" fill="#f2f2f2"/>
<rect x="659.08" y="353.6" width="13.55" height="19.7" fill="#536180"/>
<rect x="675.3" y="353.6" width="13.55" height="19.7" fill="#536180"/>
<rect x="691.53" y="353.6" width="13.55" height="19.7" fill="#f2f2f2"/>
<rect x="707.75" y="353.6" width="13.55" height="19.7" fill="#f2f2f2"/>
<rect x="723.98" y="353.6" width="13.55" height="19.7" fill="#f2f2f2"/>
<rect x="740.2" y="353.6" width="13.55" height="19.7" fill="#f2f2f2"/>
<rect x="756.43" y="353.6" width="13.55" height="19.7" fill="#f2f2f2"/>
<rect x="772.65" y="353.6" width="13.55" height="19.7" fill="#f2f2f2"/>
<rect x="788.88" y="353.6" width="13.55" height="19.7" fill="#536180"/>
<rect x="805.1" y="353.6" width="13.55" height="19.7" fill="#f2f2f2"/>
<rect x="821.33" y="353.6" width="13.55" height="19.7" fill="#f2f2f2"/>
<rect x="837.55" y="353.6" width="13.55" height="19.7" fill="#f2f2f2"/>
<rect x="853.78" y="353.6" width="13.55" height="19.7" fill="#f2f2f2"/>
<rect x="870" y="353.6" width="13.55" height="19.7" fill="#f2f2f2"/>
<rect x="886.23" y="353.6" width="13.55" height="19.7" fill="#f2f2f2"/>
<rect x="902.45" y="353.6" width="13.55" height="19.7" fill="#f2f2f2"/>
<rect x="918.68" y="353.6" width="13.55" height="19.7" fill="#f2f2f2"/>
<rect x="934.9" y="353.6" width="13.55" height="19.7" fill="#f2f2f2"/>
<rect x="951.13" y="353.6" width="13.55" height="19.7" fill="#f2f2f2"/>
<rect x="967.35" y="353.6" width="13.55" height="19.7" fill="#f2f2f2"/>
<rect x="983.58" y="353.6" width="13.55" height="19.7" fill="#f2f2f2"/>
<rect x="999.8" y="353.6" width="13.55" height="19.7" fill="#f2f2f2"/>
<rect x="1016.03" y="353.6" width="13.55" height="19.7" fill="#f2f2f2"/>
<rect x="1032.25" y="353.6" width="13.55" height="19.7" fill="#f2f2f2"/>
<rect x="1048.47" y="353.6" width="13.55" height="19.7" fill="#f2f2f2"/>
<rect x="221" y="375.8" width="13.55" height="19.9" fill="#f2f2f2"/>
<rect x="237.22" y="375.8" width="13.55" height="19.9" fill="#f2f2f2"/>
<rect x="253.45" y="375.8" width="13.55" height="19.9" fill="#f2f2f2"/>
<rect x="269.68" y="375.8" width="13.55" height="19.9" fill="#f2f2f2"/>
<rect x="285.9" y="375.8" width="13.55" height="19.9" fill="#f2f2f2"/>
<rect x="302.12" y="375.8" width="13.55" height="19.9" fill="#f2f2f2"/>
<rect x="318.35" y="375.8" width="13.55" height="19.9" fill="#f2f2f2"/>
<rect x="334.58" y="375.8" width="13.55" height="19.9" fill="#f2f2f2"/>
<rect x="350.8" y="375.8" width="13.55" height="19.9" fill="#f2f2f2"/>
<rect x="367.02" y="375.8" width="13.55" height="19.9" fill="#f2f2f2"/>
<rect x="383.25" y="375.8" width="13.55" height="19.9" fill="#f2f2f2"/>
<rect x="399.48" y="375.8" width="13.55" height="19.9" fill="#f2f2f2"/>
<rect x="415.7" y="375.8" width="13.55" height="19.9" fill="#f2f2f2"/>
<rect x="431.93" y="375.8" width="13.55" height="19.9" fill="#f2f2f2"/>
<rect x="448.15" y="375.8" width="13.55" height="19.9" fill="#f2f2f2"/>
<rect x="464.38" y="375.8" width="13.55" height="19.9" fill="#536180"/>
<rect x="480.6" y="375.8" width="13.55" height="19.9" fill="#f2f2f2"/>
<rect x="496.83" y="375.8" width="13.55" height="19.9" fill="#f2f2f2"/>
<rect x="513.05" y="375.8" width="13.55" height="19.9" fill="#f2f2f2"/>
<rect x="529.28" y="375.8" width="13.55" height="19.9" fill="#f2f2f2"/>
<rect x="545.5" y="375.8" width="13.55" height="19.9" fill="#f2f2f2"/>
<rect x="561.73" y="375.8" width="13.55" height="19.9" fill="#f2f2f2"/>
<rect x="577.95" y="375.8" width="13.55" height="19.9" fill="#f2f2f2"/>
<rect x="594.17" y="375.8" width="13.55" height="19.9" fill="#f2f2f2"/>
<rect x="610.4" y="375.8" width="13.55" height="19.9" fill="#f2f2f2"/>
<rect x="626.62" y="375.8" width="13.55" height="19.9" fill="#f2f2f2"/>
<rect x="642.85" y="375.8" width="13.55" height="19.9" fill="#f2f2f2"/>
<rect x="659.08" y="375.8" width="13.55" height="19.9" fill="#f2f2f2"/>
<rect x="675.3" y="375.8" width="13.55" height="19.9" fill="#536180"/>
<rect x="691.53" y="375.8" width="13.55" height="19.9" fill="#f2f2f2"/>
<rect x="707.75" y="375.8" width="13.55" height="19.9" fill="#f2f2f2"/>
<rect x="723.98" y="375.8" width="13.55" height="19.9" fill="#f2f2f2"/>
<rect x="740.2" y="375.8" width="13.55" height="19.9" fill="#f2f2f2"/>
<rect x="756.43" y="375.8" width="13.55" height="19.9" fill="#f2f2f2"/>
<rect x="772.65" y="375.8" width="13.55" height="19.9" fill="#f2f2f2"/>
<rect x="788.88" y="375.8" width="13.55" height="19.9" fill="#f2f2f2"/>
<rect x="805.1" y="375.8" width="13.55" height="19.9" fill="#f2f2f2"/>
<rect x="821.33" y="375.8" width="13.55" height="19.9" fill="#f2f2f2"/>
<rect x="837.55" y="375.8" width="13.55" height="19.9" fill="#f2f2f2"/>
<rect x="853.78" y="375.8" width="13.55" height="19.9" fill="#f2f2f2"/>
<rect x="870" y="375.8" width="13.55" height="19.9" fill="#f2f2f2"/>
<rect x="886.23" y="375.8" width="13.55" height="19.9" fill="#536180"/>
<rect x="902.45" y="375.8" width="13.55" height="19.9" fill="#f2f2f2"/>
<rect x="918.68" y="375.8" width="13.55" height="19.9" fill="#f2f2f2"/>
<rect x="934.9" y="375.8" width="13.55" height="19.9" fill="#f2f2f2"/>
<rect x="951.13" y="375.8" width="13.55" height="19.9" fill="#f2f2f2"/>
<rect x="967.35" y="375.8" width="13.55" height="19.9" fill="#f2f2f2"/>
<rect x="983.58" y="375.8" width="13.55" height="19.9" fill="#f2f2f2"/>
<rect x="999.8" y="375.8" width="13.55" height="19.9" fill="#f2f2f2"/>
<rect x="1016.03" y="375.8" width="13.55" height="19.9" fill="#f2f2f2"/>
<rect x="1032.25" y="375.8" width="13.55" height="19.9" fill="#f2f2f2"/>
<rect x="1048.47" y="375.8" width="13.55" height="19.9" fill="#f2f2f2"/>
<rect x="221" y="397.9" width="13.55" height="21.6" fill="#f2f2f2"/>
<rect x="237.22" y="397.9" width="13.55" height="21.6" fill="#f2f2f2"/>
<rect x="253.45" y="397.9" width="13.55" height="21.6" fill="#f2f2f2"/>
<rect x="269.68" y="397.9" width="13.55" height="21.6" fill="#f2f2f2"/>
<rect x="285.9" y="397.9" width="13.55" height="21.6" fill="#f2f2f2"/>
<rect x="302.12" y="397.9" width="13.55" height="21.6" fill="#f2f2f2"/>
<rect x="318.35" y="397.9" width="13.55" height="21.6" fill="#f2f2f2"/>
<rect x="334.58" y="397.9" width="13.55" height="21.6" fill="#f2f2f2"/>
<rect x="350.8" y="397.9" width="13.55" height="21.6" fill="#f2f2f2"/>
<rect x="367.02" y="397.9" width="13.55" height="21.6" fill="#f2f2f2"/>
<rect x="383.25" y="397.9" width="13.55" height="21.6" fill="#f2f2f2"/>
<rect x="399.48" y="397.9" width="13.55" height="21.6" fill="#f2f2f2"/>
<rect x="415.7" y="397.9" width="13.55" height="21.6" fill="#f2f2f2"/>
<rect x="431.93" y="397.9" width="13.55" height="21.6" fill="#f2f2f2"/>
<rect x="448.15" y="397.9" width="13.55" height="21.6" fill="#f2f2f2"/>
<rect x="464.38" y="397.9" width="13.55" height="21.6" fill="#f2f2f2"/>
<rect x="480.6" y="397.9" width="13.55" height="21.6" fill="#f2f2f2"/>
<rect x="496.83" y="397.9" width="13.55" height="21.6" fill="#f2f2f2"/>
<rect x="513.05" y="397.9" width="13.55" height="21.6" fill="#f2f2f2"/>
<rect x="529.28" y="397.9" width="13.55" height="21.6" fill="#f2f2f2"/>
<rect x="545.5" y="397.9" width="13.55" height="21.6" fill="#f2f2f2"/>
<rect x="561.73" y="397.9" width="13.55" height="21.6" fill="#f2f2f2"/>
<rect x="577.95" y="397.9" width="13.55" height="21.6" fill="#f2f2f2"/>
<rect x="594.17" y="397.9" width="13.55" height="21.6" fill="#f2f2f2"/>
<rect x="610.4" y="397.9" width="13.55" height="21.6" fill="#f2f2f2"/>
<rect x="626.62" y="397.9" width="13.55" height="21.6" fill="#f2f2f2"/>
<rect x="642.85" y="397.9" width="13.55" height="21.6" fill="#f2f2f2"/>
<rect x="659.08" y="397.9" width="13.55" height="21.6" fill="#f2f2f2"/>
<rect x="675.3" y="397.9" width="13.55" height="21.6" fill="#f2f2f2"/>
<rect x="691.53" y="397.9" width="13.55" height="21.6" fill="#f2f2f2"/>
<rect x="707.75" y="397.9" width="13.55" height="21.6" fill="#f2f2f2"/>
<rect x="723.98" y="397.9" width="13.55" height="21.6" fill="#f2f2f2"/>
<rect x="740.2" y="397.9" width="13.55" height="21.6" fill="#f2f2f2"/>
<rect x="756.43" y="397.9" width="13.55" height="21.6" fill="#f2f2f2"/>
<rect x="772.65" y="397.9" width="13.55" height="21.6" fill="#f2f2f2"/>
<rect x="788.88" y="397.9" width="13.55" height="21.6" fill="#f2f2f2"/>
<rect x="805.1" y="397.9" width="13.55" height="21.6" fill="#536180"/>
<rect x="821.33" y="397.9" width="13.55" height="21.6" fill="#f2f2f2"/>
<rect x="837.55" y="397.9" width="13.55" height="21.6" fill="#f2f2f2"/>
<rect x="853.78" y="397.9" width="13.55" height="21.6" fill="#f2f2f2"/>
<rect x="870" y="397.9" width="13.55" height="21.6" fill="#f2f2f2"/>
<rect x="886.23" y="397.9" width="13.55" height="21.6" fill="#536180"/>
<rect x="902.45" y="397.9" width="13.55" height="21.6" fill="#f2f2f2"/>
<rect x="918.68" y="397.9" width="13.55" height="21.6" fill="#f2f2f2"/>
<rect x="934.9" y="397.9" width="13.55" height="21.6" fill="#f2f2f2"/>
<rect x="951.13" y="397.9" width="13.55" height="21.6" fill="#f2f2f2"/>
<rect x="967.35" y="397.9" width="13.55" height="21.6" fill="#f2f2f2"/>
<rect x="983.58" y="397.9" width="13.55" height="21.6" fill="#f2f2f2"/>
<rect x="999.8" y="397.9" width="13.55" height="21.6" fill="#f2f2f2"/>
<rect x="1016.03" y="397.9" width="13.55" height="21.6" fill="#f2f2f2"/>
<rect x="1032.25" y="397.9" width="13.55" height="21.6" fill="#536180"/>
<rect x="1048.47" y="397.9" width="13.55" height="21.6" fill="#f2f2f2"/>
<rect x="221" y="421.5" width="13.55" height="21.6" fill="#f2f2f2"/>
<rect x="237.22" y="421.5" width="13.55" height="21.6" fill="#f2f2f2"/>
<rect x="253.45" y="421.5" width="13.55" height="21.6" fill="#f2f2f2"/>
<rect x="269.68" y="421.5" width="13.55" height="21.6" fill="#f2f2f2"/>
<rect x="285.9" y="421.5" width="13.55" height="21.6" fill="#f2f2f2"/>
<rect x="302.12" y="421.5" width="13.55" height="21.6" fill="#f2f2f2"/>
<rect x="318.35" y="421.5" width="13.55" height="21.6" fill="#f2f2f2"/>
<rect x="334.58" y="421.5" width="13.55" height="21.6" fill="#f2f2f2"/>
<rect x="350.8" y="421.5" width="13.55" height="21.6" fill="#f2f2f2"/>
<rect x="367.02" y="421.5" width="13.55" height="21.6" fill="#f2f2f2"/>
<rect x="383.25" y="421.5" width="13.55" height="21.6" fill="#f2f2f2"/>
<rect x="399.48" y="421.5" width="13.55" height="21.6" fill="#f2f2f2"/>
<rect x="415.7" y="421.5" width="13.55" height="21.6" fill="#f2f2f2"/>
<rect x="431.93" y="421.5" width="13.55" height="21.6" fill="#f2f2f2"/>
<rect x="448.15" y="421.5" width="13.55" height="21.6" fill="#f2f2f2"/>
<rect x="464.38" y="421.5" width="13.55" height="21.6" fill="#f2f2f2"/>
<rect x="480.6" y="421.5" width="13.55" height="21.6" fill="#f2f2f2"/>
<rect x="496.83" y="421.5" width="13.55" height="21.6" fill="#f2f2f2"/>
<rect x="513.05" y="421.5" width="13.55" height="21.6" fill="#f2f2f2"/>
<rect x="529.28" y="421.5" width="13.55" height="21.6" fill="#536180"/>
<rect x="545.5" y="421.5" width="13.55" height="21.6" fill="#f2f2f2"/>
<rect x="561.73" y="421.5" width="13.55" height="21.6" fill="#f2f2f2"/>
<rect x="577.95" y="421.5" width="13.55" height="21.6" fill="#f2f2f2"/>
<rect x="594.17" y="421.5" width="13.55" height="21.6" fill="#f2f2f2"/>
<rect x="610.4" y="421.5" width="13.55" height="21.6" fill="#f2f2f2"/>
<rect x="626.62" y="421.5" width="13.55" height="21.6" fill="#f2f2f2"/>
<rect x="642.85" y="421.5" width="13.55" height="21.6" fill="#f2f2f2"/>
<rect x="659.08" y="421.5" width="13.55" height="21.6" fill="#f2f2f2"/>
<rect x="675.3" y="421.5" width="13.55" height="21.6" fill="#f2f2f2"/>
<rect x="691.53" y="421.5" width="13.55" height="21.6" fill="#f2f2f2"/>
<rect x="707.75" y="421.5" width="13.55" height="21.6" fill="#f2f2f2"/>
<rect x="723.98" y="421.5" width="13.55" height="21.6" fill="#f2f2f2"/>
<rect x="740.2" y="421.5" width="13.55" height="21.6" fill="#f2f2f2"/>
<rect x="756.43" y="421.5" width="13.55" height="21.6" fill="#f2f2f2"/>
<rect x="772.65" y="421.5" width="13.55" height="21.6" fill="#f2f2f2"/>
<rect x="788.88" y="421.5" width="13.55" height="21.6" fill="#f2f2f2"/>
<rect x="805.1" y="421.5" width="13.55" height="21.6" fill="#f2f2f2"/>
<rect x="821.33" y="421.5" width="13.55" height="21.6" fill="#f2f2f2"/>
<rect x="837.55" y="421.5" width="13.55" height="21.6" fill="#f2f2f2"/>
<rect x="853.78" y="421.5" width="13.55" height="21.6" fill="#f2f2f2"/>
<rect x="870" y="421.5" width="13.55" height="21.6" fill="#f2f2f2"/>
<rect x="886.23" y="421.5" width="13.55" height="21.6" fill="#536180"/>
<rect x="902.45" y="421.5" width="13.55" height="21.6" fill="#f2f2f2"/>
<rect x="918.68" y="421.5" width="13.55" height="21.6" fill="#f2f2f2"/>
<rect x="934.9" y="421.5" width="13.55" height="21.6" fill="#f2f2f2"/>
<rect x="951.13" y="421.5" width="13.55" height="21.6" fill="#f2f2f2"/>
<rect x="967.35" y="421.5" width="13.55" height="21.6" fill="#f2f2f2"/>
<rect x="983.58" y="421.5" width="13.55" height="21.6" fill="#f2f2f2"/>
<rect x="999.8" y="421.5" width="13.55" height="21.6" fill="#f2f2f2"/>
<rect x="1016.03" y="421.5" width="13.55" height="21.6" fill="#f2f2f2"/>
<rect x="1032.25" y="421.5" width="13.55" height="21.6" fill="#f2f2f2"/>
<rect x="1048.47" y="421.5" width="13.55" height="21.6" fill="#f2f2f2"/>
<rect x="221" y="445.6" width="13.55" height="21.1" fill="#f2f2f2"/>
<rect x="237.22" y="445.6" width="13.55" height="21.1" fill="#f2f2f2"/>
<rect x="253.45" y="445.6" width="13.55" height="21.1" fill="#f2f2f2"/>
<rect x="269.68" y="445.6" width="13.55" height="21.1" fill="#f2f2f2"/>
<rect x="285.9" y="445.6" width="13.55" height="21.1" fill="#f2f2f2"/>
<rect x="302.12" y="445.6" width="13.55" height="21.1" fill="#f2f2f2"/>
<rect x="318.35" y="445.6" width="13.55" height="21.1" fill="#f2f2f2"/>
<rect x="334.58" y="445.6" width="13.55" height="21.1" fill="#f2f2f2"/>
<rect x="350.8" y="445.6" width="13.55" height="21.1" fill="#f2f2f2"/>
<rect x="367.02" y="445.6" width="13.55" height="21.1" fill="#f2f2f2"/>
<rect x="383.25" y="445.6" width="13.55" height="21.1" fill="#f2f2f2"/>
<rect x="399.48" y="445.6" width="13.55" height="21.1" fill="#f2f2f2"/>
<rect x="415.7" y="445.6" width="13.55" height="21.1" fill="#f2f2f2"/>
<rect x="431.93" y="445.6" width="13.55" height="21.1" fill="#f2f2f2"/>
<rect x="448.15" y="445.6" width="13.55" height="21.1" fill="#f2f2f2"/>
<rect x="464.38" y="445.6" width="13.55" height="21.1" fill="#f2f2f2"/>
<rect x="480.6" y="445.6" width="13.55" height="21.1" fill="#f2f2f2"/>
<rect x="496.83" y="445.6" width="13.55" height="21.1" fill="#f2f2f2"/>
<rect x="513.05" y="445.6" width="13.55" height="21.1" fill="#f2f2f2"/>
<rect x="529.28" y="445.6" width="13.55" height="21.1" fill="#f2f2f2"/>
<rect x="545.5" y="445.6" width="13.55" height="21.1" fill="#f2f2f2"/>
<rect x="561.73" y="445.6" width="13.55" height="21.1" fill="#f2f2f2"/>
<rect x="577.95" y="445.6" width="13.55" height="21.1" fill="#f2f2f2"/>
<rect x="594.17" y="445.6" width="13.55" height="21.1" fill="#f2f2f2"/>
<rect x="610.4" y="445.6" width="13.55" height="21.1" fill="#f2f2f2"/>
<rect x="626.62" y="445.6" width="13.55" height="21.1" fill="#f2f2f2"/>
<rect x="642.85" y="445.6" width="13.55" height="21.1" fill="#f2f2f2"/>
<rect x="659.08" y="445.6" width="13.55" height="21.1" fill="#f2f2f2"/>
<rect x="675.3" y="445.6" width="13.55" height="21.1" fill="#f2f2f2"/>
<rect x="691.53" y="445.6" width="13.55" height="21.1" fill="#f2f2f2"/>
<rect x="707.75" y="445.6" width="13.55" height="21.1" fill="#f2f2f2"/>
<rect x="723.98" y="445.6" width="13.55" height="21.1" fill="#f2f2f2"/>
<rect x="740.2" y="445.6" width="13.55" height="21.1" fill="#f2f2f2"/>
<rect x="756.43" y="445.6" width="13.55" height="21.1" fill="#f2f2f2"/>
<rect x="772.65" y="445.6" width="13.55" height="21.1" fill="#f2f2f2"/>
<rect x="788.88" y="445.6" width="13.55" height="21.1" fill="#f2f2f2"/>
<rect x="805.1" y="445.6" width="13.55" height="21.1" fill="#f2f2f2"/>
<rect x="821.33" y="445.6" width="13.55" height="21.1" fill="#f2f2f2"/>
<rect x="837.55" y="445.6" width="13.55" height="21.1" fill="#f2f2f2"/>
<rect x="853.78" y="445.6" width="13.55" height="21.1" fill="#f2f2f2"/>
<rect x="870" y="445.6" width="13.55" height="21.1" fill="#f2f2f2"/>
<rect x="886.23" y="445.6" width="13.55" height="21.1" fill="#f2f2f2"/>
<rect x="902.45" y="445.6" width="13.55" height="21.1" fill="#536180"/>
<rect x="918.68" y="445.6" width="13.55" height="21.1" fill="#f2f2f2"/>
<rect x="934.9" y="445.6" width="13.55" height="21.1" fill="#f2f2f2"/>
<rect x="951.13" y="445.6" width="13.55" height="21.1" fill="#f2f2f2"/>
<rect x="967.35" y="445.6" width="13.55" height="21.1" fill="#f2f2f2"/>
<rect x="983.58" y="445.6" width="13.55" height="21.1" fill="#f2f2f2"/>
<rect x="999.8" y="445.6" width="13.55" height="21.1" fill="#f2f2f2"/>
<rect x="1016.03" y="445.6" width="13.55" height="21.1" fill="#536180"/>
<rect x="1032.25" y="445.6" width="13.55" height="21.1" fill="#f2f2f2"/>
<rect x="1048.47" y="445.6" width="13.55" height="21.1" fill="#f2f2f2"/>
<rect x="221" y="469.2" width="13.55" height="21.3" fill="#f2f2f2"/>
<rect x="237.22" y="469.2" width="13.55" height="21.3" fill="#f2f2f2"/>
<rect x="253.45" y="469.2" width="13.55" height="21.3" fill="#f2f2f2"/>
<rect x="269.68" y="469.2" width="13.55" height="21.3" fill="#f2f2f2"/>
<rect x="285.9" y="469.2" width="13.55" height="21.3" fill="#f2f2f2"/>
<rect x="302.12" y="469.2" width="13.55" height="21.3" fill="#f2f2f2"/>
<rect x="318.35" y="469.2" width="13.55" height="21.3" fill="#f2f2f2"/>
<rect x="334.58" y="469.2" width="13.55" height="21.3" fill="#f2f2f2"/>
<rect x="350.8" y="469.2" width="13.55" height="21.3" fill="#f2f2f2"/>
<rect x="367.02" y="469.2" width="13.55" height="21.3" fill="#f2f2f2"/>
<rect x="383.25" y="469.2" width="13.55" height="21.3" fill="#f2f2f2"/>
<rect x="399.48" y="469.2" width="13.55" height="21.3" fill="#f2f2f2"/>
<rect x="415.7" y="469.2" width="13.55" height="21.3" fill="#f2f2f2"/>
<rect x="431.93" y="469.2" width="13.55" height="21.3" fill="#f2f2f2"/>
<rect x="448.15" y="469.2" width="13.55" height="21.3" fill="#f2f2f2"/>
<rect x="464.38" y="469.2" width="13.55" height="21.3" fill="#f2f2f2"/>
<rect x="480.6" y="469.2" width="13.55" height="21.3" fill="#f2f2f2"/>
<rect x="496.83" y="469.2" width="13.55" height="21.3" fill="#f2f2f2"/>
<rect x="513.05" y="469.2" width="13.55" height="21.3" fill="#f2f2f2"/>
<rect x="529.28" y="469.2" width="13.55" height="21.3" fill="#f2f2f2"/>
<rect x="545.5" y="469.2" width="13.55" height="21.3" fill="#f2f2f2"/>
<rect x="561.73" y="469.2" width="13.55" height="21.3" fill="#f2f2f2"/>
<rect x="577.95" y="469.2" width="13.55" height="21.3" fill="#f2f2f2"/>
<rect x="594.17" y="469.2" width="13.55" height="21.3" fill="#f2f2f2"/>
<rect x="610.4" y="469.2" width="13.55" height="21.3" fill="#f2f2f2"/>
<rect x="626.62" y="469.2" width="13.55" height="21.3" fill="#f2f2f2"/>
<rect x="642.85" y="469.2" width="13.55" height="21.3" fill="#f2f2f2"/>
<rect x="659.08" y="469.2" width="13.55" height="21.3" fill="#f2f2f2"/>
<rect x="675.3" y="469.2" width="13.55" height="21.3" fill="#f2f2f2"/>
<rect x="691.53" y="469.2" width="13.55" height="21.3" fill="#f2f2f2"/>
<rect x="707.75" y="469.2" width="13.55" height="21.3" fill="#f2f2f2"/>
<rect x="723.98" y="469.2" width="13.55" height="21.3" fill="#f2f2f2"/>
<rect x="740.2" y="469.2" width="13.55" height="21.3" fill="#f2f2f2"/>
<rect x="756.43" y="469.2" width="13.55" height="21.3" fill="#f2f2f2"/>
<rect x="772.65" y="469.2" width="13.55" height="21.3" fill="#f2f2f2"/>
<rect x="788.88" y="469.2" width="13.55" height="21.3" fill="#f2f2f2"/>
<rect x="805.1" y="469.2" width="13.55" height="21.3" fill="#f2f2f2"/>
<rect x="821.33" y="469.2" width="13.55" height="21.3" fill="#536180"/>
<rect x="837.55" y="469.2" width="13.55" height="21.3" fill="#f2f2f2"/>
<rect x="853.78" y="469.2" width="13.55" height="21.3" fill="#f2f2f2"/>
<rect x="870" y="469.2" width="13.55" height="21.3" fill="#f2f2f2"/>
<rect x="886.23" y="469.2" width="13.55" height="21.3" fill="#f2f2f2"/>
<rect x="902.45" y="469.2" width="13.55" height="21.3" fill="#536180"/>
<rect x="918.68" y="469.2" width="13.55" height="21.3" fill="#f2f2f2"/>
<rect x="934.9" y="469.2" width="13.55" height="21.3" fill="#f2f2f2"/>
<rect x="951.13" y="469.2" width="13.55" height="21.3" fill="#f2f2f2"/>
<rect x="967.35" y="469.2" width="13.55" height="21.3" fill="#f2f2f2"/>
<rect x="983.58" y="469.2" width="13.55" height="21.3" fill="#f2f2f2"/>
<rect x="999.8" y="469.2" width="13.55" height="21.3" fill="#f2f2f2"/>
<rect x="1016.03" y="469.2" width="13.55" height="21.3" fill="#f2f2f2"/>
<rect x="1032.25" y="469.2" width="13.55" height="21.3" fill="#f2f2f2"/>
<rect x="1048.47" y="469.2" width="13.55" height="21.3" fill="#f2f2f2"/>
<rect x="221" y="493" width="13.55" height="21.1" fill="#f2f2f2"/>
<rect x="237.22" y="493" width="13.55" height="21.1" fill="#f2f2f2"/>
<rect x="253.45" y="493" width="13.55" height="21.1" fill="#f2f2f2"/>
<rect x="269.68" y="493" width="13.55" height="21.1" fill="#f2f2f2"/>
<rect x="285.9" y="493" width="13.55" height="21.1" fill="#f2f2f2"/>
<rect x="302.12" y="493" width="13.55" height="21.1" fill="#f2f2f2"/>
<rect x="318.35" y="493" width="13.55" height="21.1" fill="#f2f2f2"/>
<rect x="334.58" y="493" width="13.55" height="21.1" fill="#f2f2f2"/>
<rect x="350.8" y="493" width="13.55" height="21.1" fill="#f2f2f2"/>
<rect x="367.02" y="493" width="13.55" height="21.1" fill="#f2f2f2"/>
<rect x="383.25" y="493" width="13.55" height="21.1" fill="#f2f2f2"/>
<rect x="399.48" y="493" width="13.55" height="21.1" fill="#f2f2f2"/>
<rect x="415.7" y="493" width="13.55" height="21.1" fill="#f2f2f2"/>
<rect x="431.93" y="493" width="13.55" height="21.1" fill="#f2f2f2"/>
<rect x="448.15" y="493" width="13.55" height="21.1" fill="#f2f2f2"/>
<rect x="464.38" y="493" width="13.55" height="21.1" fill="#f2f2f2"/>
<rect x="480.6" y="493" width="13.55" height="21.1" fill="#f2f2f2"/>
<rect x="496.83" y="493" width="13.55" height="21.1" fill="#f2f2f2"/>
<rect x="513.05" y="493" width="13.55" height="21.1" fill="#f2f2f2"/>
<rect x="529.28" y="493" width="13.55" height="21.1" fill="#f2f2f2"/>
<rect x="545.5" y="493" width="13.55" height="21.1" fill="#f2f2f2"/>
<rect x="561.73" y="493" width="13.55" height="21.1" fill="#f2f2f2"/>
<rect x="577.95" y="493" width="13.55" height="21.1" fill="#f2f2f2"/>
<rect x="594.17" y="493" width="13.55" height="21.1" fill="#f2f2f2"/>
<rect x="610.4" y="493" width="13.55" height="21.1" fill="#f2f2f2"/>
<rect x="626.62" y="493" width="13.55" height="21.1" fill="#f2f2f2"/>
<rect x="642.85" y="493" width="13.55" height="21.1" fill="#f2f2f2"/>
<rect x="659.08" y="493" width="13.55" height="21.1" fill="#f2f2f2"/>
<rect x="675.3" y="493" width="13.55" height="21.1" fill="#f2f2f2"/>
<rect x="691.53" y="493" width="13.55" height="21.1" fill="#f2f2f2"/>
<rect x="707.75" y="493" width="13.55" height="21.1" fill="#f2f2f2"/>
<rect x="723.98" y="493" width="13.55" height="21.1" fill="#f2f2f2"/>
<rect x="740.2" y="493" width="13.55" height="21.1" fill="#f2f2f2"/>
<rect x="756.43" y="493" width="13.55" height="21.1" fill="#f2f2f2"/>
<rect x="772.65" y="493" width="13.55" height="21.1" fill="#f2f2f2"/>
<rect x="788.88" y="493" width="13.55" height="21.1" fill="#f2f2f2"/>
<rect x="805.1" y="493" width="13.55" height="21.1" fill="#536180"/>
<rect x="821.33" y="493" width="13.55" height="21.1" fill="#f2f2f2"/>
<rect x="837.55" y="493" width="13.55" height="21.1" fill="#f2f2f2"/>
<rect x="853.78" y="493" width="13.55" height="21.1" fill="#f2f2f2"/>
<rect x="870" y="493" width="13.55" height="21.1" fill="#f2f2f2"/>
<rect x="886.23" y="493" width="13.55" height="21.1" fill="#f2f2f2"/>
<rect x="902.45" y="493" width="13.55" height="21.1" fill="#f2f2f2"/>
<rect x="918.68" y="493" width="13.55" height="21.1" fill="#f2f2f2"/>
<rect x="934.9" y="493" width="13.55" height="21.1" fill="#f2f2f2"/>
<rect x="951.13" y="493" width="13.55" height="21.1" fill="#f2f2f2"/>
<rect x="967.35" y="493" width="13.55" height="21.1" fill="#f2f2f2"/>
<rect x="983.58" y="493" width="13.55" height="21.1" fill="#f2f2f2"/>
<rect x="999.8" y="493" width="13.55" height="21.1" fill="#f2f2f2"/>
<rect x="1016.03" y="493" width="13.55" height="21.1" fill="#f2f2f2"/>
<rect x="1032.25" y="493" width="13.55" height="21.1" fill="#f2f2f2"/>
<rect x="1048.47" y="493" width="13.55" height="21.1" fill="#536180"/>
<rect x="221" y="516.6" width="13.55" height="19.7" fill="#536180"/>
<rect x="237.22" y="516.6" width="13.55" height="19.7" fill="#f2f2f2"/>
<rect x="253.45" y="516.6" width="13.55" height="19.7" fill="#f2f2f2"/>
<rect x="269.68" y="516.6" width="13.55" height="19.7" fill="#f2f2f2"/>
<rect x="285.9" y="516.6" width="13.55" height="19.7" fill="#f2f2f2"/>
<rect x="302.12" y="516.6" width="13.55" height="19.7" fill="#f2f2f2"/>
<rect x="318.35" y="516.6" width="13.55" height="19.7" fill="#f2f2f2"/>
<rect x="334.58" y="516.6" width="13.55" height="19.7" fill="#f2f2f2"/>
<rect x="350.8" y="516.6" width="13.55" height="19.7" fill="#f2f2f2"/>
<rect x="367.02" y="516.6" width="13.55" height="19.7" fill="#f2f2f2"/>
<rect x="383.25" y="516.6" width="13.55" height="19.7" fill="#f2f2f2"/>
<rect x="399.48" y="516.6" width="13.55" height="19.7" fill="#f2f2f2"/>
<rect x="415.7" y="516.6" width="13.55" height="19.7" fill="#f2f2f2"/>
<rect x="431.93" y="516.6" width="13.55" height="19.7" fill="#f2f2f2"/>
<rect x="448.15" y="516.6" width="13.55" height="19.7" fill="#f2f2f2"/>
<rect x="464.38" y="516.6" width="13.55" height="19.7" fill="#f2f2f2"/>
<rect x="480.6" y="516.6" width="13.55" height="19.7" fill="#f2f2f2"/>
<rect x="496.83" y="516.6" width="13.55" height="19.7" fill="#f2f2f2"/>
<rect x="513.05" y="516.6" width="13.55" height="19.7" fill="#f2f2f2"/>
<rect x="529.28" y="516.6" width="13.55" height="19.7" fill="#f2f2f2"/>
<rect x="545.5" y="516.6" width="13.55" height="19.7" fill="#f2f2f2"/>
<rect x="561.73" y="516.6" width="13.55" height="19.7" fill="#536180"/>
<rect x="577.95" y="516.6" width="13.55" height="19.7" fill="#f2f2f2"/>
<rect x="594.17" y="516.6" width="13.55" height="19.7" fill="#f2f2f2"/>
<rect x="610.4" y="516.6" width="13.55" height="19.7" fill="#f2f2f2"/>
<rect x="626.62" y="516.6" width="13.55" height="19.7" fill="#f2f2f2"/>
<rect x="642.85" y="516.6" width="13.55" height="19.7" fill="#f2f2f2"/>
<rect x="659.08" y="516.6" width="13.55" height="19.7" fill="#f2f2f2"/>
<rect x="675.3" y="516.6" width="13.55" height="19.7" fill="#f2f2f2"/>
<rect x="691.53" y="516.6" width="13.55" height="19.7" fill="#f2f2f2"/>
<rect x="707.75" y="516.6" width="13.55" height="19.7" fill="#f2f2f2"/>
<rect x="723.98" y="516.6" width="13.55" height="19.7" fill="#f2f2f2"/>
<rect x="740.2" y="516.6" width="13.55" height="19.7" fill="#f2f2f2"/>
<rect x="756.43" y="516.6" width="13.55" height="19.7" fill="#f2f2f2"/>
<rect x="772.65" y="516.6" width="13.55" height="19.7" fill="#f2f2f2"/>
<rect x="788.88" y="516.6" width="13.55" height="19.7" fill="#f2f2f2"/>
<rect x="805.1" y="516.6" width="13.55" height="19.7" fill="#f2f2f2"/>
<rect x="821.33" y="516.6" width="13.55" height="19.7" fill="#f2f2f2"/>
<rect x="837.55" y="516.6" width="13.55" height="19.7" fill="#f2f2f2"/>
<rect x="853.78" y="516.6" width="13.55" height="19.7" fill="#f2f2f2"/>
<rect x="870" y="516.6" width="13.55" height="19.7" fill="#f2f2f2"/>
<rect x="886.23" y="516.6" width="13.55" height="19.7" fill="#f2f2f2"/>
<rect x="902.45" y="516.6" width="13.55" height="19.7" fill="#f2f2f2"/>
<rect x="918.68" y="516.6" width="13.55" height="19.7" fill="#f2f2f2"/>
<rect x="934.9" y="516.6" width="13.55" height="19.7" fill="#f2f2f2"/>
<rect x="951.13" y="516.6" width="13.55" height="19.7" fill="#f2f2f2"/>
<rect x="967.35" y="516.6" width="13.55" height="19.7" fill="#f2f2f2"/>
<rect x="983.58" y="516.6" width="13.55" height="19.7" fill="#f2f2f2"/>
<rect x="999.8" y="516.6" width="13.55" height="19.7" fill="#f2f2f2"/>
<rect x="1016.03" y="516.6" width="13.55" height="19.7" fill="#f2f2f2"/>
<rect x="1032.25" y="516.6" width="13.55" height="19.7" fill="#f2f2f2"/>
<rect x="1048.47" y="516.6" width="13.55" height="19.7" fill="#f2f2f2"/>
<rect x="221" y="539.1" width="13.55" height="19.5" fill="#f2f2f2"/>
<rect x="237.22" y="539.1" width="13.55" height="19.5" fill="#f2f2f2"/>
<rect x="253.45" y="539.1" width="13.55" height="19.5" fill="#f2f2f2"/>
<rect x="269.68" y="539.1" width="13.55" height="19.5" fill="#f2f2f2"/>
<rect x="285.9" y="539.1" width="13.55" height="19.5" fill="#f2f2f2"/>
<rect x="302.12" y="539.1" width="13.55" height="19.5" fill="#f2f2f2"/>
<rect x="318.35" y="539.1" width="13.55" height="19.5" fill="#f2f2f2"/>
<rect x="334.58" y="539.1" width="13.55" height="19.5" fill="#f2f2f2"/>
<rect x="350.8" y="539.1" width="13.55" height="19.5" fill="#f2f2f2"/>
<rect x="367.02" y="539.1" width="13.55" height="19.5" fill="#f2f2f2"/>
<rect x="383.25" y="539.1" width="13.55" height="19.5" fill="#536180"/>
<rect x="399.48" y="539.1" width="13.55" height="19.5" fill="#f2f2f2"/>
<rect x="415.7" y="539.1" width="13.55" height="19.5" fill="#f2f2f2"/>
<rect x="431.93" y="539.1" width="13.55" height="19.5" fill="#f2f2f2"/>
<rect x="448.15" y="539.1" width="13.55" height="19.5" fill="#f2f2f2"/>
<rect x="464.38" y="539.1" width="13.55" height="19.5" fill="#f2f2f2"/>
<rect x="480.6" y="539.1" width="13.55" height="19.5" fill="#f2f2f2"/>
<rect x="496.83" y="539.1" width="13.55" height="19.5" fill="#f2f2f2"/>
<rect x="513.05" y="539.1" width="13.55" height="19.5" fill="#f2f2f2"/>
<rect x="529.28" y="539.1" width="13.55" height="19.5" fill="#f2f2f2"/>
<rect x="545.5" y="539.1" width="13.55" height="19.5" fill="#f2f2f2"/>
<rect x="561.73" y="539.1" width="13.55" height="19.5" fill="#f2f2f2"/>
<rect x="577.95" y="539.1" width="13.55" height="19.5" fill="#f2f2f2"/>
<rect x="594.17" y="539.1" width="13.55" height="19.5" fill="#f2f2f2"/>
<rect x="610.4" y="539.1" width="13.55" height="19.5" fill="#f2f2f2"/>
<rect x="626.62" y="539.1" width="13.55" height="19.5" fill="#f2f2f2"/>
<rect x="642.85" y="539.1" width="13.55" height="19.5" fill="#f2f2f2"/>
<rect x="659.08" y="539.1" width="13.55" height="19.5" fill="#f2f2f2"/>
<rect x="675.3" y="539.1" width="13.55" height="19.5" fill="#f2f2f2"/>
<rect x="691.53" y="539.1" width="13.55" height="19.5" fill="#f2f2f2"/>
<rect x="707.75" y="539.1" width="13.55" height="19.5" fill="#536180"/>
<rect x="723.98" y="539.1" width="13.55" height="19.5" fill="#f2f2f2"/>
<rect x="740.2" y="539.1" width="13.55" height="19.5" fill="#f2f2f2"/>
<rect x="756.43" y="539.1" width="13.55" height="19.5" fill="#f2f2f2"/>
<rect x="772.65" y="539.1" width="13.55" height="19.5" fill="#f2f2f2"/>
<rect x="788.88" y="539.1" width="13.55" height="19.5" fill="#f2f2f2"/>
<rect x="805.1" y="539.1" width="13.55" height="19.5" fill="#f2f2f2"/>
<rect x="821.33" y="539.1" width="13.55" height="19.5" fill="#f2f2f2"/>
<rect x="837.55" y="539.1" width="13.55" height="19.5" fill="#f2f2f2"/>
<rect x="853.78" y="539.1" width="13.55" height="19.5" fill="#f2f2f2"/>
<rect x="870" y="539.1" width="13.55" height="19.5" fill="#f2f2f2"/>
<rect x="886.23" y="539.1" width="13.55" height="19.5" fill="#f2f2f2"/>
<rect x="902.45" y="539.1" width="13.55" height="19.5" fill="#f2f2f2"/>
<rect x="918.68" y="539.1" width="13.55" height="19.5" fill="#f2f2f2"/>
<rect x="934.9" y="539.1" width="13.55" height="19.5" fill="#f2f2f2"/>
<rect x="951.13" y="539.1" width="13.55" height="19.5" fill="#f2f2f2"/>
<rect x="967.35" y="539.1" width="13.55" height="19.5" fill="#f2f2f2"/>
<rect x="983.58" y="539.1" width="13.55" height="19.5" fill="#f2f2f2"/>
<rect x="999.8" y="539.1" width="13.55" height="19.5" fill="#f2f2f2"/>
<rect x="1016.03" y="539.1" width="13.55" height="19.5" fill="#f2f2f2"/>
<rect x="1032.25" y="539.1" width="13.55" height="19.5" fill="#f2f2f2"/>
<rect x="1048.47" y="539.1" width="13.55" height="19.5" fill="#f2f2f2"/>
<rect x="221" y="561.3" width="13.55" height="21.1" fill="#f2f2f2"/>
<rect x="237.22" y="561.3" width="13.55" height="21.1" fill="#f2f2f2"/>
<rect x="253.45" y="561.3" width="13.55" height="21.1" fill="#f2f2f2"/>
<rect x="269.68" y="561.3" width="13.55" height="21.1" fill="#f2f2f2"/>
<rect x="285.9" y="561.3" width="13.55" height="21.1" fill="#f2f2f2"/>
<rect x="302.12" y="561.3" width="13.55" height="21.1" fill="#f2f2f2"/>
<rect x="318.35" y="561.3" width="13.55" height="21.1" fill="#f2f2f2"/>
<rect x="334.58" y="561.3" width="13.55" height="21.1" fill="#f2f2f2"/>
<rect x="350.8" y="561.3" width="13.55" height="21.1" fill="#f2f2f2"/>
<rect x="367.02" y="561.3" width="13.55" height="21.1" fill="#f2f2f2"/>
<rect x="383.25" y="561.3" width="13.55" height="21.1" fill="#f2f2f2"/>
<rect x="399.48" y="561.3" width="13.55" height="21.1" fill="#f2f2f2"/>
<rect x="415.7" y="561.3" width="13.55" height="21.1" fill="#f2f2f2"/>
<rect x="431.93" y="561.3" width="13.55" height="21.1" fill="#f2f2f2"/>
<rect x="448.15" y="561.3" width="13.55" height="21.1" fill="#f2f2f2"/>
<rect x="464.38" y="561.3" width="13.55" height="21.1" fill="#f2f2f2"/>
<rect x="480.6" y="561.3" width="13.55" height="21.1" fill="#f2f2f2"/>
<rect x="496.83" y="561.3" width="13.55" height="21.1" fill="#f2f2f2"/>
<rect x="513.05" y="561.3" width="13.55" height="21.1" fill="#f2f2f2"/>
<rect x="529.28" y="561.3" width="13.55" height="21.1" fill="#f2f2f2"/>
<rect x="545.5" y="561.3" width="13.55" height="21.1" fill="#f2f2f2"/>
<rect x="561.73" y="561.3" width="13.55" height="21.1" fill="#f2f2f2"/>
<rect x="577.95" y="561.3" width="13.55" height="21.1" fill="#536180"/>
<rect x="594.17" y="561.3" width="13.55" height="21.1" fill="#f2f2f2"/>
<rect x="610.4" y="561.3" width="13.55" height="21.1" fill="#f2f2f2"/>
<rect x="626.62" y="561.3" width="13.55" height="21.1" fill="#f2f2f2"/>
<rect x="642.85" y="561.3" width="13.55" height="21.1" fill="#f2f2f2"/>
<rect x="659.08" y="561.3" width="13.55" height="21.1" fill="#f2f2f2"/>
<rect x="675.3" y="561.3" width="13.55" height="21.1" fill="#f2f2f2"/>
<rect x="691.53" y="561.3" width="13.55" height="21.1" fill="#f2f2f2"/>
<rect x="707.75" y="561.3" width="13.55" height="21.1" fill="#f2f2f2"/>
<rect x="723.98" y="561.3" width="13.55" height="21.1" fill="#f2f2f2"/>
<rect x="740.2" y="561.3" width="13.55" height="21.1" fill="#f2f2f2"/>
<rect x="756.43" y="561.3" width="13.55" height="21.1" fill="#f2f2f2"/>
<rect x="772.65" y="561.3" width="13.55" height="21.1" fill="#f2f2f2"/>
<rect x="788.88" y="561.3" width="13.55" height="21.1" fill="#f2f2f2"/>
<rect x="805.1" y="561.3" width="13.55" height="21.1" fill="#f2f2f2"/>
<rect x="821.33" y="561.3" width="13.55" height="21.1" fill="#f2f2f2"/>
<rect x="837.55" y="561.3" width="13.55" height="21.1" fill="#f2f2f2"/>
<rect x="853.78" y="561.3" width="13.55" height="21.1" fill="#f2f2f2"/>
<rect x="870" y="561.3" width="13.55" height="21.1" fill="#f2f2f2"/>
<rect x="886.23" y="561.3" width="13.55" height="21.1" fill="#f2f2f2"/>
<rect x="902.45" y="561.3" width="13.55" height="21.1" fill="#f2f2f2"/>
<rect x="918.68" y="561.3" width="13.55" height="21.1" fill="#f2f2f2"/>
<rect x="934.9" y="561.3" width="13.55" height="21.1" fill="#f2f2f2"/>
<rect x="951.13" y="561.3" width="13.55" height="21.1" fill="#f2f2f2"/>
<rect x="967.35" y="561.3" width="13.55" height="21.1" fill="#f2f2f2"/>
<rect x="983.58" y="561.3" width="13.55" height="21.1" fill="#f2f2f2"/>
<rect x="999.8" y="561.3" width="13.55" height="21.1" fill="#f2f2f2"/>
<rect x="1016.03" y="561.3" width="13.55" height="21.1" fill="#f2f2f2"/>
<rect x="1032.25" y="561.3" width="13.55" height="21.1" fill="#f2f2f2"/>
<rect x="1048.47" y="561.3" width="13.55" height="21.1" fill="#f2f2f2"/>
<rect x="221" y="584.9" width="13.55" height="21.6" fill="#f2f2f2"/>
<rect x="237.22" y="584.9" width="13.55" height="21.6" fill="#f2f2f2"/>
<rect x="253.45" y="584.9" width="13.55" height="21.6" fill="#f2f2f2"/>
<rect x="269.68" y="584.9" width="13.55" height="21.6" fill="#f2f2f2"/>
<rect x="285.9" y="584.9" width="13.55" height="21.6" fill="#f2f2f2"/>
<rect x="302.12" y="584.9" width="13.55" height="21.6" fill="#f2f2f2"/>
<rect x="318.35" y="584.9" width="13.55" height="21.6" fill="#f2f2f2"/>
<rect x="334.58" y="584.9" width="13.55" height="21.6" fill="#f2f2f2"/>
<rect x="350.8" y="584.9" width="13.55" height="21.6" fill="#f2f2f2"/>
<rect x="367.02" y="584.9" width="13.55" height="21.6" fill="#f2f2f2"/>
<rect x="383.25" y="584.9" width="13.55" height="21.6" fill="#f2f2f2"/>
<rect x="399.48" y="584.9" width="13.55" height="21.6" fill="#f2f2f2"/>
<rect x="415.7" y="584.9" width="13.55" height="21.6" fill="#f2f2f2"/>
<rect x="431.93" y="584.9" width="13.55" height="21.6" fill="#f2f2f2"/>
<rect x="448.15" y="584.9" width="13.55" height="21.6" fill="#f2f2f2"/>
<rect x="464.38" y="584.9" width="13.55" height="21.6" fill="#f2f2f2"/>
<rect x="480.6" y="584.9" width="13.55" height="21.6" fill="#f2f2f2"/>
<rect x="496.83" y="584.9" width="13.55" height="21.6" fill="#536180"/>
<rect x="513.05" y="584.9" width="13.55" height="21.6" fill="#f2f2f2"/>
<rect x="529.28" y="584.9" width="13.55" height="21.6" fill="#f2f2f2"/>
<rect x="545.5" y="584.9" width="13.55" height="21.6" fill="#f2f2f2"/>
<rect x="561.73" y="584.9" width="13.55" height="21.6" fill="#f2f2f2"/>
<rect x="577.95" y="584.9" width="13.55" height="21.6" fill="#f2f2f2"/>
<rect x="594.17" y="584.9" width="13.55" height="21.6" fill="#f2f2f2"/>
<rect x="610.4" y="584.9" width="13.55" height="21.6" fill="#f2f2f2"/>
<rect x="626.62" y="584.9" width="13.55" height="21.6" fill="#f2f2f2"/>
<rect x="642.85" y="584.9" width="13.55" height="21.6" fill="#f2f2f2"/>
<rect x="659.08" y="584.9" width="13.55" height="21.6" fill="#f2f2f2"/>
<rect x="675.3" y="584.9" width="13.55" height="21.6" fill="#f2f2f2"/>
<rect x="691.53" y="584.9" width="13.55" height="21.6" fill="#f2f2f2"/>
<rect x="707.75" y="584.9" width="13.55" height="21.6" fill="#f2f2f2"/>
<rect x="723.98" y="584.9" width="13.55" height="21.6" fill="#f2f2f2"/>
<rect x="740.2" y="584.9" width="13.55" height="21.6" fill="#f2f2f2"/>
<rect x="756.43" y="584.9" width="13.55" height="21.6" fill="#f2f2f2"/>
<rect x="772.65" y="584.9" width="13.55" height="21.6" fill="#f2f2f2"/>
<rect x="788.88" y="584.9" width="13.55" height="21.6" fill="#f2f2f2"/>
<rect x="805.1" y="584.9" width="13.55" height="21.6" fill="#f2f2f2"/>
<rect x="821.33" y="584.9" width="13.55" height="21.6" fill="#f2f2f2"/>
<rect x="837.55" y="584.9" width="13.55" height="21.6" fill="#f2f2f2"/>
<rect x="853.78" y="584.9" width="13.55" height="21.6" fill="#f2f2f2"/>
<rect x="870" y="584.9" width="13.55" height="21.6" fill="#f2f2f2"/>
<rect x="886.23" y="584.9" width="13.55" height="21.6" fill="#f2f2f2"/>
<rect x="902.45" y="584.9" width="13.55" height="21.6" fill="#f2f2f2"/>
<rect x="918.68" y="584.9" width="13.55" height="21.6" fill="#f2f2f2"/>
<rect x="934.9" y="584.9" width="13.55" height="21.6" fill="#f2f2f2"/>
<rect x="951.13" y="584.9" width="13.55" height="21.6" fill="#f2f2f2"/>
<rect x="967.35" y="584.9" width="13.55" height="21.6" fill="#f2f2f2"/>
<rect x="983.58" y="584.9" width="13.55" height="21.6" fill="#f2f2f2"/>
<rect x="999.8" y="584.9" width="13.55" height="21.6" fill="#f2f2f2"/>
<rect x="1016.03" y="584.9" width="13.55" height="21.6" fill="#f2f2f2"/>
<rect x="1032.25" y="584.9" width="13.55" height="21.6" fill="#f2f2f2"/>
<rect x="1048.47" y="584.9" width="13.55" height="21.6" fill="#f2f2f2"/>
<rect x="221" y="608.6" width="13.55" height="21.5" fill="#f2f2f2"/>
<rect x="237.22" y="608.6" width="13.55" height="21.5" fill="#f2f2f2"/>
<rect x="253.45" y="608.6" width="13.55" height="21.5" fill="#f2f2f2"/>
<rect x="269.68" y="608.6" width="13.55" height="21.5" fill="#f2f2f2"/>
<rect x="285.9" y="608.6" width="13.55" height="21.5" fill="#f2f2f2"/>
<rect x="302.12" y="608.6" width="13.55" height="21.5" fill="#f2f2f2"/>
<rect x="318.35" y="608.6" width="13.55" height="21.5" fill="#536180"/>
<rect x="334.58" y="608.6" width="13.55" height="21.5" fill="#f2f2f2"/>
<rect x="350.8" y="608.6" width="13.55" height="21.5" fill="#f2f2f2"/>
<rect x="367.02" y="608.6" width="13.55" height="21.5" fill="#f2f2f2"/>
<rect x="383.25" y="608.6" width="13.55" height="21.5" fill="#f2f2f2"/>
<rect x="399.48" y="608.6" width="13.55" height="21.5" fill="#f2f2f2"/>
<rect x="415.7" y="608.6" width="13.55" height="21.5" fill="#f2f2f2"/>
<rect x="431.93" y="608.6" width="13.55" height="21.5" fill="#f2f2f2"/>
<rect x="448.15" y="608.6" width="13.55" height="21.5" fill="#f2f2f2"/>
<rect x="464.38" y="608.6" width="13.55" height="21.5" fill="#f2f2f2"/>
<rect x="480.6" y="608.6" width="13.55" height="21.5" fill="#f2f2f2"/>
<rect x="496.83" y="608.6" width="13.55" height="21.5" fill="#f2f2f2"/>
<rect x="513.05" y="608.6" width="13.55" height="21.5" fill="#f2f2f2"/>
<rect x="529.28" y="608.6" width="13.55" height="21.5" fill="#f2f2f2"/>
<rect x="545.5" y="608.6" width="13.55" height="21.5" fill="#f2f2f2"/>
<rect x="561.73" y="608.6" width="13.55" height="21.5" fill="#f2f2f2"/>
<rect x="577.95" y="608.6" width="13.55" height="21.5" fill="#f2f2f2"/>
<rect x="594.17" y="608.6" width="13.55" height="21.5" fill="#f2f2f2"/>
<rect x="610.4" y="608.6" width="13.55" height="21.5" fill="#f2f2f2"/>
<rect x="626.62" y="608.6" width="13.55" height="21.5" fill="#f2f2f2"/>
<rect x="642.85" y="608.6" width="13.55" height="21.5" fill="#f2f2f2"/>
<rect x="659.08" y="608.6" width="13.55" height="21.5" fill="#f2f2f2"/>
<rect x="675.3" y="608.6" width="13.55" height="21.5" fill="#f2f2f2"/>
<rect x="691.53" y="608.6" width="13.55" height="21.5" fill="#f2f2f2"/>
<rect x="707.75" y="608.6" width="13.55" height="21.5" fill="#f2f2f2"/>
<rect x="723.98" y="608.6" width="13.55" height="21.5" fill="#f2f2f2"/>
<rect x="740.2" y="608.6" width="13.55" height="21.5" fill="#f2f2f2"/>
<rect x="756.43" y="608.6" width="13.55" height="21.5" fill="#f2f2f2"/>
<rect x="772.65" y="608.6" width="13.55" height="21.5" fill="#f2f2f2"/>
<rect x="788.88" y="608.6" width="13.55" height="21.5" fill="#f2f2f2"/>
<rect x="805.1" y="608.6" width="13.55" height="21.5" fill="#f2f2f2"/>
<rect x="821.33" y="608.6" width="13.55" height="21.5" fill="#f2f2f2"/>
<rect x="837.55" y="608.6" width="13.55" height="21.5" fill="#f2f2f2"/>
<rect x="853.78" y="608.6" width="13.55" height="21.5" fill="#f2f2f2"/>
<rect x="870" y="608.6" width="13.55" height="21.5" fill="#f2f2f2"/>
<rect x="886.23" y="608.6" width="13.55" height="21.5" fill="#f2f2f2"/>
<rect x="902.45" y="608.6" width="13.55" height="21.5" fill="#f2f2f2"/>
<rect x="918.68" y="608.6" width="13.55" height="21.5" fill="#f2f2f2"/>
<rect x="934.9" y="608.6" width="13.55" height="21.5" fill="#f2f2f2"/>
<rect x="951.13" y="608.6" width="13.55" height="21.5" fill="#f2f2f2"/>
<rect x="967.35" y="608.6" width="13.55" height="21.5" fill="#f2f2f2"/>
<rect x="983.58" y="608.6" width="13.55" height="21.5" fill="#f2f2f2"/>
<rect x="999.8" y="608.6" width="13.55" height="21.5" fill="#f2f2f2"/>
<rect x="1016.03" y="608.6" width="13.55" height="21.5" fill="#f2f2f2"/>
<rect x="1032.25" y="608.6" width="13.55" height="21.5" fill="#f2f2f2"/>
<rect x="1048.47" y="608.6" width="13.55" height="21.5" fill="#f2f2f2"/>
<rect x="221" y="632.6" width="13.55" height="21.3" fill="#f2f2f2"/>
<rect x="237.22" y="632.6" width="13.55" height="21.3" fill="#f2f2f2"/>
<rect x="253.45" y="632.6" width="13.55" height="21.3" fill="#f2f2f2"/>
<rect x="269.68" y="632.6" width="13.55" height="21.3" fill="#f2f2f2"/>
<rect x="285.9" y="632.6" width="13.55" height="21.3" fill="#f2f2f2"/>
<rect x="302.12" y="632.6" width="13.55" height="21.3" fill="#f2f2f2"/>
<rect x="318.35" y="632.6" width="13.55" height="21.3" fill="#536180"/>
<rect x="334.58" y="632.6" width="13.55" height="21.3" fill="#f2f2f2"/>
<rect x="350.8" y="632.6" width="13.55" height="21.3" fill="#f2f2f2"/>
<rect x="367.02" y="632.6" width="13.55" height="21.3" fill="#f2f2f2"/>
<rect x="383.25" y="632.6" width="13.55" height="21.3" fill="#f2f2f2"/>
<rect x="399.48" y="632.6" width="13.55" height="21.3" fill="#f2f2f2"/>
<rect x="415.7" y="632.6" width="13.55" height="21.3" fill="#f2f2f2"/>
<rect x="431.93" y="632.6" width="13.55" height="21.3" fill="#f2f2f2"/>
<rect x="448.15" y="632.6" width="13.55" height="21.3" fill="#f2f2f2"/>
<rect x="464.38" y="632.6" width="13.55" height="21.3" fill="#f2f2f2"/>
<rect x="480.6" y="632.6" width="13.55" height="21.3" fill="#f2f2f2"/>
<rect x="496.83" y="632.6" width="13.55" height="21.3" fill="#f2f2f2"/>
<rect x="513.05" y="632.6" width="13.55" height="21.3" fill="#f2f2f2"/>
<rect x="529.28" y="632.6" width="13.55" height="21.3" fill="#f2f2f2"/>
<rect x="545.5" y="632.6" width="13.55" height="21.3" fill="#f2f2f2"/>
<rect x="561.73" y="632.6" width="13.55" height="21.3" fill="#f2f2f2"/>
<rect x="577.95" y="632.6" width="13.55" height="21.3" fill="#f2f2f2"/>
<rect x="594.17" y="632.6" width="13.55" height="21.3" fill="#f2f2f2"/>
<rect x="610.4" y="632.6" width="13.55" height="21.3" fill="#f2f2f2"/>
<rect x="626.62" y="632.6" width="13.55" height="21.3" fill="#f2f2f2"/>
<rect x="642.85" y="632.6" width="13.55" height="21.3" fill="#f2f2f2"/>
<rect x="659.08" y="632.6" width="13.55" height="21.3" fill="#f2f2f2"/>
<rect x="675.3" y="632.6" width="13.55" height="21.3" fill="#f2f2f2"/>
<rect x="691.53" y="632.6" width="13.55" height="21.3" fill="#f2f2f2"/>
<rect x="707.75" y="632.6" width="13.55" height="21.3" fill="#f2f2f2"/>
<rect x="723.98" y="632.6" width="13.55" height="21.3" fill="#f2f2f2"/>
<rect x="740.2" y="632.6" width="13.55" height="21.3" fill="#f2f2f2"/>
<rect x="756.43" y="632.6" width="13.55" height="21.3" fill="#f2f2f2"/>
<rect x="772.65" y="632.6" width="13.55" height="21.3" fill="#f2f2f2"/>
<rect x="788.88" y="632.6" width="13.55" height="21.3" fill="#f2f2f2"/>
<rect x="805.1" y="632.6" width="13.55" height="21.3" fill="#f2f2f2"/>
<rect x="821.33" y="632.6" width="13.55" height="21.3" fill="#f2f2f2"/>
<rect x="837.55" y="632.6" width="13.55" height="21.3" fill="#f2f2f2"/>
<rect x="853.78" y="632.6" width="13.55" height="21.3" fill="#f2f2f2"/>
<rect x="870" y="632.6" width="13.55" height="21.3" fill="#f2f2f2"/>
<rect x="886.23" y="632.6" width="13.55" height="21.3" fill="#f2f2f2"/>
<rect x="902.45" y="632.6" width="13.55" height="21.3" fill="#f2f2f2"/>
<rect x="918.68" y="632.6" width="13.55" height="21.3" fill="#f2f2f2"/>
<rect x="934.9" y="632.6" width="13.55" height="21.3" fill="#f2f2f2"/>
<rect x="951.13" y="632.6" width="13.55" height="21.3" fill="#f2f2f2"/>
<rect x="967.35" y="632.6" width="13.55" height="21.3" fill="#f2f2f2"/>
<rect x="983.58" y="632.6" width="13.55" height="21.3" fill="#f2f2f2"/>
<rect x="999.8" y="632.6" width="13.55" height="21.3" fill="#f2f2f2"/>
<rect x="1016.03" y="632.6" width="13.55" height="21.3" fill="#f2f2f2"/>
<rect x="1032.25" y="632.6" width="13.55" height="21.3" fill="#f2f2f2"/>
<rect x="1048.47" y="632.6" width="13.55" height="21.3" fill="#f2f2f2"/>
<rect x="221" y="656" width="13.55" height="21.5" fill="#f2f2f2"/>
<rect x="237.22" y="656" width="13.55" height="21.5" fill="#f2f2f2"/>
<rect x="253.45" y="656" width="13.55" height="21.5" fill="#f2f2f2"/>
<rect x="269.68" y="656" width="13.55" height="21.5" fill="#f2f2f2"/>
<rect x="285.9" y="656" width="13.55" height="21.5" fill="#f2f2f2"/>
<rect x="302.12" y="656" width="13.55" height="21.5" fill="#f2f2f2"/>
<rect x="318.35" y="656" width="13.55" height="21.5" fill="#f2f2f2"/>
<rect x="334.58" y="656" width="13.55" height="21.5" fill="#f2f2f2"/>
<rect x="350.8" y="656" width="13.55" height="21.5" fill="#f2f2f2"/>
<rect x="367.02" y="656" width="13.55" height="21.5" fill="#f2f2f2"/>
<rect x="383.25" y="656" width="13.55" height="21.5" fill="#f2f2f2"/>
<rect x="399.48" y="656" width="13.55" height="21.5" fill="#f2f2f2"/>
<rect x="415.7" y="656" width="13.55" height="21.5" fill="#f2f2f2"/>
<rect x="431.93" y="656" width="13.55" height="21.5" fill="#f2f2f2"/>
<rect x="448.15" y="656" width="13.55" height="21.5" fill="#f2f2f2"/>
<rect x="464.38" y="656" width="13.55" height="21.5" fill="#f2f2f2"/>
<rect x="480.6" y="656" width="13.55" height="21.5" fill="#f2f2f2"/>
<rect x="496.83" y="656" width="13.55" height="21.5" fill="#f2f2f2"/>
<rect x="513.05" y="656" width="13.55" height="21.5" fill="#f2f2f2"/>
<rect x="529.28" y="656" width="13.55" height="21.5" fill="#f2f2f2"/>
<rect x="545.5" y="656" width="13.55" height="21.5" fill="#f2f2f2"/>
<rect x="561.73" y="656" width="13.55" height="21.5" fill="#f2f2f2"/>
<rect x="577.95" y="656" width="13.55" height="21.5" fill="#f2f2f2"/>
<rect x="594.17" y="656" width="13.55" height="21.5" fill="#f2f2f2"/>
<rect x="610.4" y="656" width="13.55" height="21.5" fill="#f2f2f2"/>
<rect x="626.62" y="656" width="13.55" height="21.5" fill="#f2f2f2"/>
<rect x="642.85" y="656" width="13.55" height="21.5" fill="#f2f2f2"/>
<rect x="659.08" y="656" width="13.55" height="21.5" fill="#f2f2f2"/>
<rect x="675.3" y="656" width="13.55" height="21.5" fill="#f2f2f2"/>
<rect x="691.53" y="656" width="13.55" height="21.5" fill="#f2f2f2"/>
<rect x="707.75" y="656" width="13.55" height="21.5" fill="#f2f2f2"/>
<rect x="723.98" y="656" width="13.55" height="21.5" fill="#f2f2f2"/>
<rect x="740.2" y="656" width="13.55" height="21.5" fill="#f2f2f2"/>
<rect x="756.43" y="656" width="13.55" height="21.5" fill="#f2f2f2"/>
<rect x="772.65" y="656" width="13.55" height="21.5" fill="#f2f2f2"/>
<rect x="788.88" y="656" width="13.55" height="21.5" fill="#f2f2f2"/>
<rect x="805.1" y="656" width="13.55" height="21.5" fill="#f2f2f2"/>
<rect x="821.33" y="656" width="13.55" height="21.5" fill="#f2f2f2"/>
<rect x="837.55" y="656" width="13.55" height="21.5" fill="#f2f2f2"/>
<rect x="853.78" y="656" width="13.55" height="21.5" fill="#f2f2f2"/>
<rect x="870" y="656" width="13.55" height="21.5" fill="#f2f2f2"/>
<rect x="886.23" y="656" width="13.55" height="21.5" fill="#f2f2f2"/>
<rect x="902.45" y="656" width="13.55" height="21.5" fill="#f2f2f2"/>
<rect x="918.68" y="656" width="13.55" height="21.5" fill="#f2f2f2"/>
<rect x="934.9" y="656" width="13.55" height="21.5" fill="#536180"/>
<rect x="951.13" y="656" width="13.55" height="21.5" fill="#f2f2f2"/>
<rect x="967.35" y="656" width="13.55" height="21.5" fill="#f2f2f2"/>
<rect x="983.58" y="656" width="13.55" height="21.5" fill="#f2f2f2"/>
<rect x="999.8" y="656" width="13.55" height="21.5" fill="#f2f2f2"/>
<rect x="1016.03" y="656" width="13.55" height="21.5" fill="#f2f2f2"/>
<rect x="1032.25" y="656" width="13.55" height="21.5" fill="#f2f2f2"/>
<rect x="1048.47" y="656" width="13.55" height="21.5" fill="#f2f2f2"/>
<rect x="221" y="680" width="13.55" height="21.2" fill="#f2f2f2"/>
<rect x="237.22" y="680" width="13.55" height="21.2" fill="#f2f2f2"/>
<rect x="253.45" y="680" width="13.55" height="21.2" fill="#f2f2f2"/>
<rect x="269.68" y="680" width="13.55" height="21.2" fill="#f2f2f2"/>
<rect x="285.9" y="680" width="13.55" height="21.2" fill="#f2f2f2"/>
<rect x="302.12" y="680" width="13.55" height="21.2" fill="#f2f2f2"/>
<rect x="318.35" y="680" width="13.55" height="21.2" fill="#f2f2f2"/>
<rect x="334.58" y="680" width="13.55" height="21.2" fill="#f2f2f2"/>
<rect x="350.8" y="680" width="13.55" height="21.2" fill="#f2f2f2"/>
<rect x="367.02" y="680" width="13.55" height="21.2" fill="#f2f2f2"/>
<rect x="383.25" y="680" width="13.55" height="21.2" fill="#f2f2f2"/>
<rect x="399.48" y="680" width="13.55" height="21.2" fill="#f2f2f2"/>
<rect x="415.7" y="680" width="13.55" height="21.2" fill="#f2f2f2"/>
<rect x="431.93" y="680" width="13.55" height="21.2" fill="#f2f2f2"/>
<rect x="448.15" y="680" width="13.55" height="21.2" fill="#536180"/>
<rect x="464.38" y="680" width="13.55" height="21.2" fill="#f2f2f2"/>
<rect x="480.6" y="680" width="13.55" height="21.2" fill="#f2f2f2"/>
<rect x="496.83" y="680" width="13.55" height="21.2" fill="#f2f2f2"/>
<rect x="513.05" y="680" width="13.55" height="21.2" fill="#f2f2f2"/>
<rect x="529.28" y="680" width="13.55" height="21.2" fill="#f2f2f2"/>
<rect x="545.5" y="680" width="13.55" height="21.2" fill="#f2f2f2"/>
<rect x="561.73" y="680" width="13.55" height="21.2" fill="#f2f2f2"/>
<rect x="577.95" y="680" width="13.55" height="21.2" fill="#f2f2f2"/>
<rect x="594.17" y="680" width="13.55" height="21.2" fill="#f2f2f2"/>
<rect x="610.4" y="680" width="13.55" height="21.2" fill="#f2f2f2"/>
<rect x="626.62" y="680" width="13.55" height="21.2" fill="#f2f2f2"/>
<rect x="642.85" y="680" width="13.55" height="21.2" fill="#f2f2f2"/>
<rect x="659.08" y="680" width="13.55" height="21.2" fill="#f2f2f2"/>
<rect x="675.3" y="680" width="13.55" height="21.2" fill="#f2f2f2"/>
<rect x="691.53" y="680" width="13.55" height="21.2" fill="#f2f2f2"/>
<rect x="707.75" y="680" width="13.55" height="21.2" fill="#f2f2f2"/>
<rect x="723.98" y="680" width="13.55" height="21.2" fill="#f2f2f2"/>
<rect x="740.2" y="680" width="13.55" height="21.2" fill="#f2f2f2"/>
<rect x="756.43" y="680" width="13.55" height="21.2" fill="#f2f2f2"/>
<rect x="772.65" y="680" width="13.55" height="21.2" fill="#f2f2f2"/>
<rect x="788.88" y="680" width="13.55" height="21.2" fill="#f2f2f2"/>
<rect x="805.1" y="680" width="13.55" height="21.2" fill="#f2f2f2"/>
<rect x="821.33" y="680" width="13.55" height="21.2" fill="#f2f2f2"/>
<rect x="837.55" y="680" width="13.55" height="21.2" fill="#f2f2f2"/>
<rect x="853.78" y="680" width="13.55" height="21.2" fill="#f2f2f2"/>
<rect x="870" y="680" width="13.55" height="21.2" fill="#f2f2f2"/>
<rect x="886.23" y="680" width="13.55" height="21.2" fill="#f2f2f2"/>
<rect x="902.45" y="680" width="13.55" height="21.2" fill="#f2f2f2"/>
<rect x="918.68" y="680" width="13.55" height="21.2" fill="#f2f2f2"/>
<rect x="934.9" y="680" width="13.55" height="21.2" fill="#f2f2f2"/>
<rect x="951.13" y="680" width="13.55" height="21.2" fill="#f2f2f2"/>
<rect x="967.35" y="680" width="13.55" height="21.2" fill="#f2f2f2"/>
<rect x="983.58" y="680" width="13.55" height="21.2" fill="#f2f2f2"/>
<rect x="999.8" y="680" width="13.55" height="21.2" fill="#f2f2f2"/>
<rect x="1016.03" y="680" width="13.55" height="21.2" fill="#f2f2f2"/>
<rect x="1032.25" y="680" width="13.55" height="21.2" fill="#f2f2f2"/>
<rect x="1048.47" y="680" width="13.55" height="21.2" fill="#f2f2f2"/>
<rect x="221" y="703.7" width="13.55" height="21.1" fill="#f2f2f2"/>
<rect x="237.22" y="703.7" width="13.55" height="21.1" fill="#f2f2f2"/>
<rect x="253.45" y="703.7" width="13.55" height="21.1" fill="#f2f2f2"/>
<rect x="269.68" y="703.7" width="13.55" height="21.1" fill="#f2f2f2"/>
<rect x="285.9" y="703.7" width="13.55" height="21.1" fill="#f2f2f2"/>
<rect x="302.12" y="703.7" width="13.55" height="21.1" fill="#f2f2f2"/>
<rect x="318.35" y="703.7" width="13.55" height="21.1" fill="#536180"/>
<rect x="334.58" y="703.7" width="13.55" height="21.1" fill="#f2f2f2"/>
<rect x="350.8" y="703.7" width="13.55" height="21.1" fill="#f2f2f2"/>
<rect x="367.02" y="703.7" width="13.55" height="21.1" fill="#f2f2f2"/>
<rect x="383.25" y="703.7" width="13.55" height="21.1" fill="#f2f2f2"/>
<rect x="399.48" y="703.7" width="13.55" height="21.1" fill="#f2f2f2"/>
<rect x="415.7" y="703.7" width="13.55" height="21.1" fill="#f2f2f2"/>
<rect x="431.93" y="703.7" width="13.55" height="21.1" fill="#f2f2f2"/>
<rect x="448.15" y="703.7" width="13.55" height="21.1" fill="#f2f2f2"/>
<rect x="464.38" y="703.7" width="13.55" height="21.1" fill="#f2f2f2"/>
<rect x="480.6" y="703.7" width="13.55" height="21.1" fill="#f2f2f2"/>
<rect x="496.83" y="703.7" width="13.55" height="21.1" fill="#f2f2f2"/>
<rect x="513.05" y="703.7" width="13.55" height="21.1" fill="#f2f2f2"/>
<rect x="529.28" y="703.7" width="13.55" height="21.1" fill="#f2f2f2"/>
<rect x="545.5" y="703.7" width="13.55" height="21.1" fill="#f2f2f2"/>
<rect x="561.73" y="703.7" width="13.55" height="21.1" fill="#f2f2f2"/>
<rect x="577.95" y="703.7" width="13.55" height="21.1" fill="#f2f2f2"/>
<rect x="594.17" y="703.7" width="13.55" height="21.1" fill="#f2f2f2"/>
<rect x="610.4" y="703.7" width="13.55" height="21.1" fill="#f2f2f2"/>
<rect x="626.62" y="703.7" width="13.55" height="21.1" fill="#f2f2f2"/>
<rect x="642.85" y="703.7" width="13.55" height="21.1" fill="#f2f2f2"/>
<rect x="659.08" y="703.7" width="13.55" height="21.1" fill="#f2f2f2"/>
<rect x="675.3" y="703.7" width="13.55" height="21.1" fill="#f2f2f2"/>
<rect x="691.53" y="703.7" width="13.55" height="21.1" fill="#f2f2f2"/>
<rect x="707.75" y="703.7" width="13.55" height="21.1" fill="#f2f2f2"/>
<rect x="723.98" y="703.7" width="13.55" height="21.1" fill="#f2f2f2"/>
<rect x="740.2" y="703.7" width="13.55" height="21.1" fill="#f2f2f2"/>
<rect x="756.43" y="703.7" width="13.55" height="21.1" fill="#f2f2f2"/>
<rect x="772.65" y="703.7" width="13.55" height="21.1" fill="#f2f2f2"/>
<rect x="788.88" y="703.7" width="13.55" height="21.1" fill="#f2f2f2"/>
<rect x="805.1" y="703.7" width="13.55" height="21.1" fill="#f2f2f2"/>
<rect x="821.33" y="703.7" width="13.55" height="21.1" fill="#f2f2f2"/>
<rect x="837.55" y="703.7" width="13.55" height="21.1" fill="#f2f2f2"/>
<rect x="853.78" y="703.7" width="13.55" height="21.1" fill="#f2f2f2"/>
<rect x="870" y="703.7" width="13.55" height="21.1" fill="#f2f2f2"/>
<rect x="886.23" y="703.7" width="13.55" height="21.1" fill="#f2f2f2"/>
<rect x="902.45" y="703.7" width="13.55" height="21.1" fill="#f2f2f2"/>
<rect x="918.68" y="703.7" width="13.55" height="21.1" fill="#f2f2f2"/>
<rect x="934.9" y="703.7" width="13.55" height="21.1" fill="#f2f2f2"/>
<rect x="951.13" y="703.7" width="13.55" height="21.1" fill="#f2f2f2"/>
<rect x="967.35" y="703.7" width="13.55" height="21.1" fill="#f2f2f2"/>
<rect x="983.58" y="703.7" width="13.55" height="21.1" fill="#f2f2f2"/>
<rect x="999.8" y="703.7" width="13.55" height="21.1" fill="#f2f2f2"/>
<rect x="1016.03" y="703.7" width="13.55" height="21.1" fill="#f2f2f2"/>
<rect x="1032.25" y="703.7" width="13.55" height="21.1" fill="#f2f2f2"/>
<rect x="1048.47" y="703.7" width="13.55" height="21.1" fill="#f2f2f2"/>
<rect x="221" y="727" width="13.55" height="21.6" fill="#f2f2f2"/>
<rect x="237.22" y="727" width="13.55" height="21.6" fill="#f2f2f2"/>
<rect x="253.45" y="727" width="13.55" height="21.6" fill="#f2f2f2"/>
<rect x="269.68" y="727" width="13.55" height="21.6" fill="#f2f2f2"/>
<rect x="285.9" y="727" width="13.55" height="21.6" fill="#f2f2f2"/>
<rect x="302.12" y="727" width="13.55" height="21.6" fill="#f2f2f2"/>
<rect x="318.35" y="727" width="13.55" height="21.6" fill="#f2f2f2"/>
<rect x="334.58" y="727" width="13.55" height="21.6" fill="#f2f2f2"/>
<rect x="350.8" y="727" width="13.55" height="21.6" fill="#f2f2f2"/>
<rect x="367.02" y="727" width="13.55" height="21.6" fill="#f2f2f2"/>
<rect x="383.25" y="727" width="13.55" height="21.6" fill="#f2f2f2"/>
<rect x="399.48" y="727" width="13.55" height="21.6" fill="#f2f2f2"/>
<rect x="415.7" y="727" width="13.55" height="21.6" fill="#f2f2f2"/>
<rect x="431.93" y="727" width="13.55" height="21.6" fill="#f2f2f2"/>
<rect x="448.15" y="727" width="13.55" height="21.6" fill="#f2f2f2"/>
<rect x="464.38" y="727" width="13.55" height="21.6" fill="#f2f2f2"/>
<rect x="480.6" y="727" width="13.55" height="21.6" fill="#f2f2f2"/>
<rect x="496.83" y="727" width="13.55" height="21.6" fill="#f2f2f2"/>
<rect x="513.05" y="727" width="13.55" height="21.6" fill="#f2f2f2"/>
<rect x="529.28" y="727" width="13.55" height="21.6" fill="#f2f2f2"/>
<rect x="545.5" y="727" width="13.55" height="21.6" fill="#f2f2f2"/>
<rect x="561.73" y="727" width="13.55" height="21.6" fill="#f2f2f2"/>
<rect x="577.95" y="727" width="13.55" height="21.6" fill="#f2f2f2"/>
<rect x="594.17" y="727" width="13.55" height="21.6" fill="#f2f2f2"/>
<rect x="610.4" y="727" width="13.55" height="21.6" fill="#f2f2f2"/>
<rect x="626.62" y="727" width="13.55" height="21.6" fill="#f2f2f2"/>
<rect x="642.85" y="727" width="13.55" height="21.6" fill="#f2f2f2"/>
<rect x="659.08" y="727" width="13.55" height="21.6" fill="#f2f2f2"/>
<rect x="675.3" y="727" width="13.55" height="21.6" fill="#f2f2f2"/>
<rect x="691.53" y="727" width="13.55" height="21.6" fill="#f2f2f2"/>
<rect x="707.75" y="727" width="13.55" height="21.6" fill="#f2f2f2"/>
<rect x="723.98" y="727" width="13.55" height="21.6" fill="#f2f2f2"/>
<rect x="740.2" y="727" width="13.55" height="21.6" fill="#f2f2f2"/>
<rect x="756.43" y="727" width="13.55" height="21.6" fill="#f2f2f2"/>
<rect x="772.65" y="727" width="13.55" height="21.6" fill="#f2f2f2"/>
<rect x="788.88" y="727" width="13.55" height="21.6" fill="#f2f2f2"/>
<rect x="805.1" y="727" width="13.55" height="21.6" fill="#f2f2f2"/>
<rect x="821.33" y="727" width="13.55" height="21.6" fill="#f2f2f2"/>
<rect x="837.55" y="727" width="13.55" height="21.6" fill="#f2f2f2"/>
<rect x="853.78" y="727" width="13.55" height="21.6" fill="#f2f2f2"/>
<rect x="870" y="727" width="13.55" height="21.6" fill="#f2f2f2"/>
<rect x="886.23" y="727" width="13.55" height="21.6" fill="#f2f2f2"/>
<rect x="902.45" y="727" width="13.55" height="21.6" fill="#f2f2f2"/>
<rect x="918.68" y="727" width="13.55" height="21.6" fill="#f2f2f2"/>
<rect x="934.9" y="727" width="13.55" height="21.6" fill="#f2f2f2"/>
<rect x="951.13" y="727" width="13.55" height="21.6" fill="#f2f2f2"/>
<rect x="967.35" y="727" width="13.55" height="21.6" fill="#f2f2f2"/>
<rect x="983.58" y="727" width="13.55" height="21.6" fill="#536180"/>
<rect x="999.8" y="727" width="13.55" height="21.6" fill="#f2f2f2"/>
<rect x="1016.03" y="727" width="13.55" height="21.6" fill="#f2f2f2"/>
<rect x="1032.25" y="727" width="13.55" height="21.6" fill="#f2f2f2"/>
<rect x="1048.47" y="727" width="13.55" height="21.6" fill="#f2f2f2"/>
<rect x="221" y="751.1" width="13.55" height="21.3" fill="#f2f2f2"/>
<rect x="237.22" y="751.1" width="13.55" height="21.3" fill="#536180"/>
<rect x="253.45" y="751.1" width="13.55" height="21.3" fill="#f2f2f2"/>
<rect x="269.68" y="751.1" width="13.55" height="21.3" fill="#f2f2f2"/>
<rect x="285.9" y="751.1" width="13.55" height="21.3" fill="#f2f2f2"/>
<rect x="302.12" y="751.1" width="13.55" height="21.3" fill="#f2f2f2"/>
<rect x="318.35" y="751.1" width="13.55" height="21.3" fill="#f2f2f2"/>
<rect x="334.58" y="751.1" width="13.55" height="21.3" fill="#f2f2f2"/>
<rect x="350.8" y="751.1" width="13.55" height="21.3" fill="#f2f2f2"/>
<rect x="367.02" y="751.1" width="13.55" height="21.3" fill="#f2f2f2"/>
<rect x="383.25" y="751.1" width="13.55" height="21.3" fill="#f2f2f2"/>
<rect x="399.48" y="751.1" width="13.55" height="21.3" fill="#f2f2f2"/>
<rect x="415.7" y="751.1" width="13.55" height="21.3" fill="#f2f2f2"/>
<rect x="431.93" y="751.1" width="13.55" height="21.3" fill="#f2f2f2"/>
<rect x="448.15" y="751.1" width="13.55" height="21.3" fill="#f2f2f2"/>
<rect x="464.38" y="751.1" width="13.55" height="21.3" fill="#f2f2f2"/>
<rect x="480.6" y="751.1" width="13.55" height="21.3" fill="#f2f2f2"/>
<rect x="496.83" y="751.1" width="13.55" height="21.3" fill="#f2f2f2"/>
<rect x="513.05" y="751.1" width="13.55" height="21.3" fill="#f2f2f2"/>
<rect x="529.28" y="751.1" width="13.55" height="21.3" fill="#f2f2f2"/>
<rect x="545.5" y="751.1" width="13.55" height="21.3" fill="#f2f2f2"/>
<rect x="561.73" y="751.1" width="13.55" height="21.3" fill="#f2f2f2"/>
<rect x="577.95" y="751.1" width="13.55" height="21.3" fill="#f2f2f2"/>
<rect x="594.17" y="751.1" width="13.55" height="21.3" fill="#f2f2f2"/>
<rect x="610.4" y="751.1" width="13.55" height="21.3" fill="#f2f2f2"/>
<rect x="626.62" y="751.1" width="13.55" height="21.3" fill="#f2f2f2"/>
<rect x="642.85" y="751.1" width="13.55" height="21.3" fill="#f2f2f2"/>
<rect x="659.08" y="751.1" width="13.55" height="21.3" fill="#f2f2f2"/>
<rect x="675.3" y="751.1" width="13.55" height="21.3" fill="#f2f2f2"/>
<rect x="691.53" y="751.1" width="13.55" height="21.3" fill="#f2f2f2"/>
<rect x="707.75" y="751.1" width="13.55" height="21.3" fill="#f2f2f2"/>
<rect x="723.98" y="751.1" width="13.55" height="21.3" fill="#f2f2f2"/>
<rect x="740.2" y="751.1" width="13.55" height="21.3" fill="#f2f2f2"/>
<rect x="756.43" y="751.1" width="13.55" height="21.3" fill="#f2f2f2"/>
<rect x="772.65" y="751.1" width="13.55" height="21.3" fill="#f2f2f2"/>
<rect x="788.88" y="751.1" width="13.55" height="21.3" fill="#f2f2f2"/>
<rect x="805.1" y="751.1" width="13.55" height="21.3" fill="#f2f2f2"/>
<rect x="821.33" y="751.1" width="13.55" height="21.3" fill="#f2f2f2"/>
<rect x="837.55" y="751.1" width="13.55" height="21.3" fill="#f2f2f2"/>
<rect x="853.78" y="751.1" width="13.55" height="21.3" fill="#f2f2f2"/>
<rect x="870" y="751.1" width="13.55" height="21.3" fill="#f2f2f2"/>
<rect x="886.23" y="751.1" width="13.55" height="21.3" fill="#f2f2f2"/>
<rect x="902.45" y="751.1" width="13.55" height="21.3" fill="#f2f2f2"/>
<rect x="918.68" y="751.1" width="13.55" height="21.3" fill="#f2f2f2"/>
<rect x="934.9" y="751.1" width="13.55" height="21.3" fill="#f2f2f2"/>
<rect x="951.13" y="751.1" width="13.55" height="21.3" fill="#f2f2f2"/>
<rect x="967.35" y="751.1" width="13.55" height="21.3" fill="#f2f2f2"/>
<rect x="983.58" y="751.1" width="13.55" height="21.3" fill="#f2f2f2"/>
<rect x="999.8" y="751.1" width="13.55" height="21.3" fill="#f2f2f2"/>
<rect x="1016.03" y="751.1" width="13.55" height="21.3" fill="#f2f2f2"/>
<rect x="1032.25" y="751.1" width="13.55" height="21.3" fill="#f2f2f2"/>
<rect x="1048.47" y="751.1" width="13.55" height="21.3" fill="#f2f2f2"/>
<rect x="221" y="774.9" width="13.55" height="21.2" fill="#f2f2f2"/>
<rect x="237.22" y="774.9" width="13.55" height="21.2" fill="#f2f2f2"/>
<rect x="253.45" y="774.9" width="13.55" height="21.2" fill="#f2f2f2"/>
<rect x="269.68" y="774.9" width="13.55" height="21.2" fill="#f2f2f2"/>
<rect x="285.9" y="774.9" width="13.55" height="21.2" fill="#f2f2f2"/>
<rect x="302.12" y="774.9" width="13.55" height="21.2" fill="#f2f2f2"/>
<rect x="318.35" y="774.9" width="13.55" height="21.2" fill="#f2f2f2"/>
<rect x="334.58" y="774.9" width="13.55" height="21.2" fill="#f2f2f2"/>
<rect x="350.8" y="774.9" width="13.55" height="21.2" fill="#f2f2f2"/>
<rect x="367.02" y="774.9" width="13.55" height="21.2" fill="#f2f2f2"/>
<rect x="383.25" y="774.9" width="13.55" height="21.2" fill="#f2f2f2"/>
<rect x="399.48" y="774.9" width="13.55" height="21.2" fill="#f2f2f2"/>
<rect x="415.7" y="774.9" width="13.55" height="21.2" fill="#f2f2f2"/>
<rect x="431.93" y="774.9" width="13.55" height="21.2" fill="#f2f2f2"/>
<rect x="448.15" y="774.9" width="13.55" height="21.2" fill="#f2f2f2"/>
<rect x="464.38" y="774.9" width="13.55" height="21.2" fill="#f2f2f2"/>
<rect x="480.6" y="774.9" width="13.55" height="21.2" fill="#f2f2f2"/>
<rect x="496.83" y="774.9" width="13.55" height="21.2" fill="#f2f2f2"/>
<rect x="513.05" y="774.9" width="13.55" height="21.2" fill="#f2f2f2"/>
<rect x="529.28" y="774.9" width="13.55" height="21.2" fill="#f2f2f2"/>
<rect x="545.5" y="774.9" width="13.55" height="21.2" fill="#f2f2f2"/>
<rect x="561.73" y="774.9" width="13.55" height="21.2" fill="#f2f2f2"/>
<rect x="577.95" y="774.9" width="13.55" height="21.2" fill="#f2f2f2"/>
<rect x="594.17" y="774.9" width="13.55" height="21.2" fill="#f2f2f2"/>
<rect x="610.4" y="774.9" width="13.55" height="21.2" fill="#f2f2f2"/>
<rect x="626.62" y="774.9" width="13.55" height="21.2" fill="#f2f2f2"/>
<rect x="642.85" y="774.9" width="13.55" height="21.2" fill="#f2f2f2"/>
<rect x="659.08" y="774.9" width="13.55" height="21.2" fill="#f2f2f2"/>
<rect x="675.3" y="774.9" width="13.55" height="21.2" fill="#f2f2f2"/>
<rect x="691.53" y="774.9" width="13.55" height="21.2" fill="#f2f2f2"/>
<rect x="707.75" y="774.9" width="13.55" height="21.2" fill="#f2f2f2"/>
<rect x="723.98" y="774.9" width="13.55" height="21.2" fill="#f2f2f2"/>
<rect x="740.2" y="774.9" width="13.55" height="21.2" fill="#f2f2f2"/>
<rect x="756.43" y="774.9" width="13.55" height="21.2" fill="#f2f2f2"/>
<rect x="772.65" y="774.9" width="13.55" height="21.2" fill="#f2f2f2"/>
<rect x="788.88" y="774.9" width="13.55" height="21.2" fill="#f2f2f2"/>
<rect x="805.1" y="774.9" width="13.55" height="21.2" fill="#f2f2f2"/>
<rect x="821.33" y="774.9" width="13.55" height="21.2" fill="#f2f2f2"/>
<rect x="837.55" y="774.9" width="13.55" height="21.2" fill="#f2f2f2"/>
<rect x="853.78" y="774.9" width="13.55" height="21.2" fill="#f2f2f2"/>
<rect x="870" y="774.9" width="13.55" height="21.2" fill="#f2f2f2"/>
<rect x="886.23" y="774.9" width="13.55" height="21.2" fill="#f2f2f2"/>
<rect x="902.45" y="774.9" width="13.55" height="21.2" fill="#f2f2f2"/>
<rect x="918.68" y="774.9" width="13.55" height="21.2" fill="#f2f2f2"/>
<rect x="934.9" y="774.9" width="13.55" height="21.2" fill="#f2f2f2"/>
<rect x="951.13" y="774.9" width="13.55" height="21.2" fill="#536180"/>
<rect x="967.35" y="774.9" width="13.55" height="21.2" fill="#f2f2f2"/>
<rect x="983.58" y="774.9" width="13.55" height="21.2" fill="#f2f2f2"/>
<rect x="999.8" y="774.9" width="13.55" height="21.2" fill="#f2f2f2"/>
<rect x="1016.03" y="774.9" width="13.55" height="21.2" fill="#f2f2f2"/>
<rect x="1032.25" y="774.9" width="13.55" height="21.2" fill="#f2f2f2"/>
<rect x="1048.47" y="774.9" width="13.55" height="21.2" fill="#f2f2f2"/>
<rect x="221" y="798.6" width="13.55" height="21.5" fill="#f2f2f2"/>
<rect x="237.22" y="798.6" width="13.55" height="21.5" fill="#f2f2f2"/>
<rect x="253.45" y="798.6" width="13.55" height="21.5" fill="#f2f2f2"/>
<rect x="269.68" y="798.6" width="13.55" height="21.5" fill="#f2f2f2"/>
<rect x="285.9" y="798.6" width="13.55" height="21.5" fill="#f2f2f2"/>
<rect x="302.12" y="798.6" width="13.55" height="21.5" fill="#f2f2f2"/>
<rect x="318.35" y="798.6" width="13.55" height="21.5" fill="#f2f2f2"/>
<rect x="334.58" y="798.6" width="13.55" height="21.5" fill="#f2f2f2"/>
<rect x="350.8" y="798.6" width="13.55" height="21.5" fill="#f2f2f2"/>
<rect x="367.02" y="798.6" width="13.55" height="21.5" fill="#f2f2f2"/>
<rect x="383.25" y="798.6" width="13.55" height="21.5" fill="#f2f2f2"/>
<rect x="399.48" y="798.6" width="13.55" height="21.5" fill="#f2f2f2"/>
<rect x="415.7" y="798.6" width="13.55" height="21.5" fill="#f2f2f2"/>
<rect x="431.93" y="798.6" width="13.55" height="21.5" fill="#f2f2f2"/>
<rect x="448.15" y="798.6" width="13.55" height="21.5" fill="#f2f2f2"/>
<rect x="464.38" y="798.6" width="13.55" height="21.5" fill="#f2f2f2"/>
<rect x="480.6" y="798.6" width="13.55" height="21.5" fill="#f2f2f2"/>
<rect x="496.83" y="798.6" width="13.55" height="21.5" fill="#f2f2f2"/>
<rect x="513.05" y="798.6" width="13.55" height="21.5" fill="#f2f2f2"/>
<rect x="529.28" y="798.6" width="13.55" height="21.5" fill="#f2f2f2"/>
<rect x="545.5" y="798.6" width="13.55" height="21.5" fill="#f2f2f2"/>
<rect x="561.73" y="798.6" width="13.55" height="21.5" fill="#f2f2f2"/>
<rect x="577.95" y="798.6" width="13.55" height="21.5" fill="#f2f2f2"/>
<rect x="594.17" y="798.6" width="13.55" height="21.5" fill="#f2f2f2"/>
<rect x="610.4" y="798.6" width="13.55" height="21.5" fill="#f2f2f2"/>
<rect x="626.62" y="798.6" width="13.55" height="21.5" fill="#f2f2f2"/>
<rect x="642.85" y="798.6" width="13.55" height="21.5" fill="#f2f2f2"/>
<rect x="659.08" y="798.6" width="13.55" height="21.5" fill="#f2f2f2"/>
<rect x="675.3" y="798.6" width="13.55" height="21.5" fill="#f2f2f2"/>
<rect x="691.53" y="798.6" width="13.55" height="21.5" fill="#f2f2f2"/>
<rect x="707.75" y="798.6" width="13.55" height="21.5" fill="#f2f2f2"/>
<rect x="723.98" y="798.6" width="13.55" height="21.5" fill="#f2f2f2"/>
<rect x="740.2" y="798.6" width="13.55" height="21.5" fill="#f2f2f2"/>
<rect x="756.43" y="798.6" width="13.55" height="21.5" fill="#f2f2f2"/>
<rect x="772.65" y="798.6" width="13.55" height="21.5" fill="#f2f2f2"/>
<rect x="788.88" y="798.6" width="13.55" height="21.5" fill="#f2f2f2"/>
<rect x="805.1" y="798.6" width="13.55" height="21.5" fill="#f2f2f2"/>
<rect x="821.33" y="798.6" width="13.55" height="21.5" fill="#f2f2f2"/>
<rect x="837.55" y="798.6" width="13.55" height="21.5" fill="#f2f2f2"/>
<rect x="853.78" y="798.6" width="13.55" height="21.5" fill="#f2f2f2"/>
<rect x="870" y="798.6" width="13.55" height="21.5" fill="#f2f2f2"/>
<rect x="886.23" y="798.6" width="13.55" height="21.5" fill="#536180"/>
<rect x="902.45" y="798.6" width="13.55" height="21.5" fill="#f2f2f2"/>
<rect x="918.68" y="798.6" width="13.55" height="21.5" fill="#f2f2f2"/>
<rect x="934.9" y="798.6" width="13.55" height="21.5" fill="#f2f2f2"/>
<rect x="951.13" y="798.6" width="13.55" height="21.5" fill="#f2f2f2"/>
<rect x="967.35" y="798.6" width="13.55" height="21.5" fill="#f2f2f2"/>
<rect x="983.58" y="798.6" width="13.55" height="21.5" fill="#f2f2f2"/>
<rect x="999.8" y="798.6" width="13.55" height="21.5" fill="#f2f2f2"/>
<rect x="1016.03" y="798.6" width="13.55" height="21.5" fill="#f2f2f2"/>
<rect x="1032.25" y="798.6" width="13.55" height="21.5" fill="#f2f2f2"/>
<rect x="1048.47" y="798.6" width="13.55" height="21.5" fill="#f2f2f2"/>
<rect x="221" y="822.6" width="13.55" height="21.3" fill="#f2f2f2"/>
<rect x="237.22" y="822.6" width="13.55" height="21.3" fill="#f2f2f2"/>
<rect x="253.45" y="822.6" width="13.55" height="21.3" fill="#f2f2f2"/>
<rect x="269.68" y="822.6" width="13.55" height="21.3" fill="#f2f2f2"/>
<rect x="285.9" y="822.6" width="13.55" height="21.3" fill="#f2f2f2"/>
<rect x="302.12" y="822.6" width="13.55" height="21.3" fill="#f2f2f2"/>
<rect x="318.35" y="822.6" width="13.55" height="21.3" fill="#f2f2f2"/>
<rect x="334.58" y="822.6" width="13.55" height="21.3" fill="#f2f2f2"/>
<rect x="350.8" y="822.6" width="13.55" height="21.3" fill="#f2f2f2"/>
<rect x="367.02" y="822.6" width="13.55" height="21.3" fill="#f2f2f2"/>
<rect x="383.25" y="822.6" width="13.55" height="21.3" fill="#f2f2f2"/>
<rect x="399.48" y="822.6" width="13.55" height="21.3" fill="#f2f2f2"/>
<rect x="415.7" y="822.6" width="13.55" height="21.3" fill="#f2f2f2"/>
<rect x="431.93" y="822.6" width="13.55" height="21.3" fill="#f2f2f2"/>
<rect x="448.15" y="822.6" width="13.55" height="21.3" fill="#f2f2f2"/>
<rect x="464.38" y="822.6" width="13.55" height="21.3" fill="#f2f2f2"/>
<rect x="480.6" y="822.6" width="13.55" height="21.3" fill="#f2f2f2"/>
<rect x="496.83" y="822.6" width="13.55" height="21.3" fill="#f2f2f2"/>
<rect x="513.05" y="822.6" width="13.55" height="21.3" fill="#f2f2f2"/>
<rect x="529.28" y="822.6" width="13.55" height="21.3" fill="#f2f2f2"/>
<rect x="545.5" y="822.6" width="13.55" height="21.3" fill="#f2f2f2"/>
<rect x="561.73" y="822.6" width="13.55" height="21.3" fill="#f2f2f2"/>
<rect x="577.95" y="822.6" width="13.55" height="21.3" fill="#f2f2f2"/>
<rect x="594.17" y="822.6" width="13.55" height="21.3" fill="#f2f2f2"/>
<rect x="610.4" y="822.6" width="13.55" height="21.3" fill="#f2f2f2"/>
<rect x="626.62" y="822.6" width="13.55" height="21.3" fill="#f2f2f2"/>
<rect x="642.85" y="822.6" width="13.55" height="21.3" fill="#536180"/>
<rect x="659.08" y="822.6" width="13.55" height="21.3" fill="#f2f2f2"/>
<rect x="675.3" y="822.6" width="13.55" height="21.3" fill="#f2f2f2"/>
<rect x="691.53" y="822.6" width="13.55" height="21.3" fill="#f2f2f2"/>
<rect x="707.75" y="822.6" width="13.55" height="21.3" fill="#f2f2f2"/>
<rect x="723.98" y="822.6" width="13.55" height="21.3" fill="#f2f2f2"/>
<rect x="740.2" y="822.6" width="13.55" height="21.3" fill="#f2f2f2"/>
<rect x="756.43" y="822.6" width="13.55" height="21.3" fill="#f2f2f2"/>
<rect x="772.65" y="822.6" width="13.55" height="21.3" fill="#f2f2f2"/>
<rect x="788.88" y="822.6" width="13.55" height="21.3" fill="#f2f2f2"/>
<rect x="805.1" y="822.6" width="13.55" height="21.3" fill="#f2f2f2"/>
<rect x="821.33" y="822.6" width="13.55" height="21.3" fill="#f2f2f2"/>
<rect x="837.55" y="822.6" width="13.55" height="21.3" fill="#f2f2f2"/>
<rect x="853.78" y="822.6" width="13.55" height="21.3" fill="#f2f2f2"/>
<rect x="870" y="822.6" width="13.55" height="21.3" fill="#f2f2f2"/>
<rect x="886.23" y="822.6" width="13.55" height="21.3" fill="#f2f2f2"/>
<rect x="902.45" y="822.6" width="13.55" height="21.3" fill="#f2f2f2"/>
<rect x="918.68" y="822.6" width="13.55" height="21.3" fill="#f2f2f2"/>
<rect x="934.9" y="822.6" width="13.55" height="21.3" fill="#f2f2f2"/>
<rect x="951.13" y="822.6" width="13.55" height="21.3" fill="#f2f2f2"/>
<rect x="967.35" y="822.6" width="13.55" height="21.3" fill="#f2f2f2"/>
<rect x="983.58" y="822.6" width="13.55" height="21.3" fill="#f2f2f2"/>
<rect x="999.8" y="822.6" width="13.55" height="21.3" fill="#f2f2f2"/>
<rect x="1016.03" y="822.6" width="13.55" height="21.3" fill="#f2f2f2"/>
<rect x="1032.25" y="822.6" width="13.55" height="21.3" fill="#f2f2f2"/>
<rect x="1048.47" y="822.6" width="13.55" height="21.3" fill="#f2f2f2"/>
<rect x="221" y="846" width="13.55" height="21.6" fill="#f2f2f2"/>
<rect x="237.22" y="846" width="13.55" height="21.6" fill="#f2f2f2"/>
<rect x="253.45" y="846" width="13.55" height="21.6" fill="#f2f2f2"/>
<rect x="269.68" y="846" width="13.55" height="21.6" fill="#f2f2f2"/>
<rect x="285.9" y="846" width="13.55" height="21.6" fill="#f2f2f2"/>
<rect x="302.12" y="846" width="13.55" height="21.6" fill="#f2f2f2"/>
<rect x="318.35" y="846" width="13.55" height="21.6" fill="#f2f2f2"/>
<rect x="334.58" y="846" width="13.55" height="21.6" fill="#f2f2f2"/>
<rect x="350.8" y="846" width="13.55" height="21.6" fill="#f2f2f2"/>
<rect x="367.02" y="846" width="13.55" height="21.6" fill="#f2f2f2"/>
<rect x="383.25" y="846" width="13.55" height="21.6" fill="#f2f2f2"/>
<rect x="399.48" y="846" width="13.55" height="21.6" fill="#f2f2f2"/>
<rect x="415.7" y="846" width="13.55" height="21.6" fill="#f2f2f2"/>
<rect x="431.93" y="846" width="13.55" height="21.6" fill="#f2f2f2"/>
<rect x="448.15" y="846" width="13.55" height="21.6" fill="#f2f2f2"/>
<rect x="464.38" y="846" width="13.55" height="21.6" fill="#f2f2f2"/>
<rect x="480.6" y="846" width="13.55" height="21.6" fill="#f2f2f2"/>
<rect x="496.83" y="846" width="13.55" height="21.6" fill="#f2f2f2"/>
<rect x="513.05" y="846" width="13.55" height="21.6" fill="#f2f2f2"/>
<rect x="529.28" y="846" width="13.55" height="21.6" fill="#f2f2f2"/>
<rect x="545.5" y="846" width="13.55" height="21.6" fill="#f2f2f2"/>
<rect x="561.73" y="846" width="13.55" height="21.6" fill="#f2f2f2"/>
<rect x="577.95" y="846" width="13.55" height="21.6" fill="#f2f2f2"/>
<rect x="594.17" y="846" width="13.55" height="21.6" fill="#f2f2f2"/>
<rect x="610.4" y="846" width="13.55" height="21.6" fill="#f2f2f2"/>
<rect x="626.62" y="846" width="13.55" height="21.6" fill="#f2f2f2"/>
<rect x="642.85" y="846" width="13.55" height="21.6" fill="#f2f2f2"/>
<rect x="659.08" y="846" width="13.55" height="21.6" fill="#f2f2f2"/>
<rect x="675.3" y="846" width="13.55" height="21.6" fill="#f2f2f2"/>
<rect x="691.53" y="846" width="13.55" height="21.6" fill="#f2f2f2"/>
<rect x="707.75" y="846" width="13.55" height="21.6" fill="#f2f2f2"/>
<rect x="723.98" y="846" width="13.55" height="21.6" fill="#f2f2f2"/>
<rect x="740.2" y="846" width="13.55" height="21.6" fill="#f2f2f2"/>
<rect x="756.43" y="846" width="13.55" height="21.6" fill="#f2f2f2"/>
<rect x="772.65" y="846" width="13.55" height="21.6" fill="#f2f2f2"/>
<rect x="788.88" y="846" width="13.55" height="21.6" fill="#f2f2f2"/>
<rect x="805.1" y="846" width="13.55" height="21.6" fill="#f2f2f2"/>
<rect x="821.33" y="846" width="13.55" height="21.6" fill="#f2f2f2"/>
<rect x="837.55" y="846" width="13.55" height="21.6" fill="#f2f2f2"/>
<rect x="853.78" y="846" width="13.55" height="21.6" fill="#f2f2f2"/>
<rect x="870" y="846" width="13.55" height="21.6" fill="#f2f2f2"/>
<rect x="886.23" y="846" width="13.55" height="21.6" fill="#f2f2f2"/>
<rect x="902.45" y="846" width="13.55" height="21.6" fill="#f2f2f2"/>
<rect x="918.68" y="846" width="13.55" height="21.6" fill="#f2f2f2"/>
<rect x="934.9" y="846" width="13.55" height="21.6" fill="#f2f2f2"/>
<rect x="951.13" y="846" width="13.55" height="21.6" fill="#f2f2f2"/>
<rect x="967.35" y="846" width="13.55" height="21.6" fill="#f2f2f2"/>
<rect x="983.58" y="846" width="13.55" height="21.6" fill="#f2f2f2"/>
<rect x="999.8" y="846" width="13.55" height="21.6" fill="#f2f2f2"/>
<rect x="1016.03" y="846" width="13.55" height="21.6" fill="#f2f2f2"/>
<rect x="1032.25" y="846" width="13.55" height="21.6" fill="#f2f2f2"/>
<rect x="1048.47" y="846" width="13.55" height="21.6" fill="#f2f2f2"/>
<rect x="221" y="869.6" width="13.55" height="21.6" fill="#f2f2f2"/>
<rect x="237.22" y="869.6" width="13.55" height="21.6" fill="#f2f2f2"/>
<rect x="253.45" y="869.6" width="13.55" height="21.6" fill="#f2f2f2"/>
<rect x="269.68" y="869.6" width="13.55" height="21.6" fill="#f2f2f2"/>
<rect x="285.9" y="869.6" width="13.55" height="21.6" fill="#f2f2f2"/>
<rect x="302.12" y="869.6" width="13.55" height="21.6" fill="#f2f2f2"/>
<rect x="318.35" y="869.6" width="13.55" height="21.6" fill="#f2f2f2"/>
<rect x="334.58" y="869.6" width="13.55" height="21.6" fill="#f2f2f2"/>
<rect x="350.8" y="869.6" width="13.55" height="21.6" fill="#f2f2f2"/>
<rect x="367.02" y="869.6" width="13.55" height="21.6" fill="#f2f2f2"/>
<rect x="383.25" y="869.6" width="13.55" height="21.6" fill="#f2f2f2"/>
<rect x="399.48" y="869.6" width="13.55" height="21.6" fill="#f2f2f2"/>
<rect x="415.7" y="869.6" width="13.55" height="21.6" fill="#f2f2f2"/>
<rect x="431.93" y="869.6" width="13.55" height="21.6" fill="#f2f2f2"/>
<rect x="448.15" y="869.6" width="13.55" height="21.6" fill="#f2f2f2"/>
<rect x="464.38" y="869.6" width="13.55" height="21.6" fill="#f2f2f2"/>
<rect x="480.6" y="869.6" width="13.55" height="21.6" fill="#f2f2f2"/>
<rect x="496.83" y="869.6" width="13.55" height="21.6" fill="#f2f2f2"/>
<rect x="513.05" y="869.6" width="13.55" height="21.6" fill="#f2f2f2"/>
<rect x="529.28" y="869.6" width="13.55" height="21.6" fill="#f2f2f2"/>
<rect x="545.5" y="869.6" width="13.55" height="21.6" fill="#f2f2f2"/>
<rect x="561.73" y="869.6" width="13.55" height="21.6" fill="#f2f2f2"/>
<rect x="577.95" y="869.6" width="13.55" height="21.6" fill="#f2f2f2"/>
<rect x="594.17" y="869.6" width="13.55" height="21.6" fill="#f2f2f2"/>
<rect x="610.4" y="869.6" width="13.55" height="21.6" fill="#f2f2f2"/>
<rect x="626.62" y="869.6" width="13.55" height="21.6" fill="#f2f2f2"/>
<rect x="642.85" y="869.6" width="13.55" height="21.6" fill="#f2f2f2"/>
<rect x="659.08" y="869.6" width="13.55" height="21.6" fill="#f2f2f2"/>
<rect x="675.3" y="869.6" width="13.55" height="21.6" fill="#f2f2f2"/>
<rect x="691.53" y="869.6" width="13.55" height="21.6" fill="#f2f2f2"/>
<rect x="707.75" y="869.6" width="13.55" height="21.6" fill="#f2f2f2"/>
<rect x="723.98" y="869.6" width="13.55" height="21.6" fill="#f2f2f2"/>
<rect x="740.2" y="869.6" width="13.55" height="21.6" fill="#f2f2f2"/>
<rect x="756.43" y="869.6" width="13.55" height="21.6" fill="#f2f2f2"/>
<rect x="772.65" y="869.6" width="13.55" height="21.6" fill="#f2f2f2"/>
<rect x="788.88" y="869.6" width="13.55" height="21.6" fill="#f2f2f2"/>
<rect x="805.1" y="869.6" width="13.55" height="21.6" fill="#f2f2f2"/>
<rect x="821.33" y="869.6" width="13.55" height="21.6" fill="#f2f2f2"/>
<rect x="837.55" y="869.6" width="13.55" height="21.6" fill="#f2f2f2"/>
<rect x="853.78" y="869.6" width="13.55" height="21.6" fill="#f2f2f2"/>
<rect x="870" y="869.6" width="13.55" height="21.6" fill="#f2f2f2"/>
<rect x="886.23" y="869.6" width="13.55" height="21.6" fill="#f2f2f2"/>
<rect x="902.45" y="869.6" width="13.55" height="21.6" fill="#f2f2f2"/>
<rect x="918.68" y="869.6" width="13.55" height="21.6" fill="#f2f2f2"/>
<rect x="934.9" y="869.6" width="13.55" height="21.6" fill="#f2f2f2"/>
<rect x="951.13" y="869.6" width="13.55" height="21.6" fill="#f2f2f2"/>
<rect x="967.35" y="869.6" width="13.55" height="21.6" fill="#f2f2f2"/>
<rect x="983.58" y="869.6" width="13.55" height="21.6" fill="#f2f2f2"/>
<rect x="999.8" y="869.6" width="13.55" height="21.6" fill="#f2f2f2"/>
<rect x="1016.03" y="869.6" width="13.55" height="21.6" fill="#f2f2f2"/>
<rect x="1032.25" y="869.6" width="13.55" height="21.6" fill="#f2f2f2"/>
<rect x="1048.47" y="869.6" width="13.55" height="21.6" fill="#f2f2f2"/>
<rect x="221" y="893.4" width="13.55" height="20.8" fill="#f2f2f2"/>
<rect x="237.22" y="893.4" width="13.55" height="20.8" fill="#f2f2f2"/>
<rect x="253.45" y="893.4" width="13.55" height="20.8" fill="#f2f2f2"/>
<rect x="269.68" y="893.4" width="13.55" height="20.8" fill="#f2f2f2"/>
<rect x="285.9" y="893.4" width="13.55" height="20.8" fill="#f2f2f2"/>
<rect x="302.12" y="893.4" width="13.55" height="20.8" fill="#f2f2f2"/>
<rect x="318.35" y="893.4" width="13.55" height="20.8" fill="#f2f2f2"/>
<rect x="334.58" y="893.4" width="13.55" height="20.8" fill="#f2f2f2"/>
<rect x="350.8" y="893.4" width="13.55" height="20.8" fill="#f2f2f2"/>
<rect x="367.02" y="893.4" width="13.55" height="20.8" fill="#f2f2f2"/>
<rect x="383.25" y="893.4" width="13.55" height="20.8" fill="#f2f2f2"/>
<rect x="399.48" y="893.4" width="13.55" height="20.8" fill="#f2f2f2"/>
<rect x="415.7" y="893.4" width="13.55" height="20.8" fill="#f2f2f2"/>
<rect x="431.93" y="893.4" width="13.55" height="20.8" fill="#f2f2f2"/>
<rect x="448.15" y="893.4" width="13.55" height="20.8" fill="#f2f2f2"/>
<rect x="464.38" y="893.4" width="13.55" height="20.8" fill="#f2f2f2"/>
<rect x="480.6" y="893.4" width="13.55" height="20.8" fill="#f2f2f2"/>
<rect x="496.83" y="893.4" width="13.55" height="20.8" fill="#f2f2f2"/>
<rect x="513.05" y="893.4" width="13.55" height="20.8" fill="#f2f2f2"/>
<rect x="529.28" y="893.4" width="13.55" height="20.8" fill="#f2f2f2"/>
<rect x="545.5" y="893.4" width="13.55" height="20.8" fill="#f2f2f2"/>
<rect x="561.73" y="893.4" width="13.55" height="20.8" fill="#f2f2f2"/>
<rect x="577.95" y="893.4" width="13.55" height="20.8" fill="#f2f2f2"/>
<rect x="594.17" y="893.4" width="13.55" height="20.8" fill="#f2f2f2"/>
<rect x="610.4" y="893.4" width="13.55" height="20.8" fill="#f2f2f2"/>
<rect x="626.62" y="893.4" width="13.55" height="20.8" fill="#f2f2f2"/>
<rect x="642.85" y="893.4" width="13.55" height="20.8" fill="#f2f2f2"/>
<rect x="659.08" y="893.4" width="13.55" height="20.8" fill="#f2f2f2"/>
<rect x="675.3" y="893.4" width="13.55" height="20.8" fill="#f2f2f2"/>
<rect x="691.53" y="893.4" width="13.55" height="20.8" fill="#f2f2f2"/>
<rect x="707.75" y="893.4" width="13.55" height="20.8" fill="#f2f2f2"/>
<rect x="723.98" y="893.4" width="13.55" height="20.8" fill="#f2f2f2"/>
<rect x="740.2" y="893.4" width="13.55" height="20.8" fill="#f2f2f2"/>
<rect x="756.43" y="893.4" width="13.55" height="20.8" fill="#f2f2f2"/>
<rect x="772.65" y="893.4" width="13.55" height="20.8" fill="#f2f2f2"/>
<rect x="788.88" y="893.4" width="13.55" height="20.8" fill="#f2f2f2"/>
<rect x="805.1" y="893.4" width="13.55" height="20.8" fill="#f2f2f2"/>
<rect x="821.33" y="893.4" width="13.55" height="20.8" fill="#f2f2f2"/>
<rect x="837.55" y="893.4" width="13.55" height="20.8" fill="#f2f2f2"/>
<rect x="853.78" y="893.4" width="13.55" height="20.8" fill="#f2f2f2"/>
<rect x="870" y="893.4" width="13.55" height="20.8" fill="#f2f2f2"/>
<rect x="886.23" y="893.4" width="13.55" height="20.8" fill="#f2f2f2"/>
<rect x="902.45" y="893.4" width="13.55" height="20.8" fill="#f2f2f2"/>
<rect x="918.68" y="893.4" width="13.55" height="20.8" fill="#f2f2f2"/>
<rect x="934.9" y="893.4" width="13.55" height="20.8" fill="#f2f2f2"/>
<rect x="951.13" y="893.4" width="13.55" height="20.8" fill="#f2f2f2"/>
<rect x="967.35" y="893.4" width="13.55" height="20.8" fill="#f2f2f2"/>
<rect x="983.58" y="893.4" width="13.55" height="20.8" fill="#f2f2f2"/>
<rect x="999.8" y="893.4" width="13.55" height="20.8" fill="#f2f2f2"/>
<rect x="1016.03" y="893.4" width="13.55" height="20.8" fill="#f2f2f2"/>
<rect x="1032.25" y="893.4" width="13.55" height="20.8" fill="#f2f2f2"/>
<rect x="1048.47" y="893.4" width="13.55" height="20.8" fill="#f2f2f2"/>
<text x="214.5" y="181.2" font-size="20.5" text-anchor="end" fill="#111111" class="gl" letter-spacing="0.5" font-style="italic" stroke="#111111">WT1</text>
<text x="214.5" y="204.5" font-size="20.5" text-anchor="end" fill="#111111" class="gl" letter-spacing="0.5" stroke="#111111"><tspan font-style="italic">FLT3</tspan>-ITD</text>
<text x="214.5" y="228.2" font-size="20.5" text-anchor="end" fill="#111111" class="gl" letter-spacing="0.5" stroke="#111111"><tspan font-style="italic">FLT3</tspan>-TKD</text>
<text x="214.5" y="252.3" font-size="20.5" text-anchor="end" fill="#111111" class="gl" letter-spacing="0.5" font-style="italic" stroke="#111111">NRAS</text>
<text x="214.5" y="275.8" font-size="20.5" text-anchor="end" fill="#111111" class="gl" letter-spacing="0.5" font-style="italic" stroke="#111111">PTPN11</text>
<text x="214.5" y="299.7" font-size="20.5" text-anchor="end" fill="#111111" class="gl" letter-spacing="0.5" font-style="italic" stroke="#111111">RUNX1</text>
<text x="214.5" y="323.3" font-size="20.5" text-anchor="end" fill="#111111" class="gl" letter-spacing="0.5" font-style="italic" stroke="#111111">IDH2</text>
<text x="214.5" y="347" font-size="20.5" text-anchor="end" fill="#111111" class="gl" letter-spacing="0.5" font-style="italic" stroke="#111111">NF1</text>
<text x="214.5" y="370.9" font-size="20.5" text-anchor="end" fill="#111111" class="gl" letter-spacing="0.5" font-style="italic" stroke="#111111">MYC</text>
<text x="214.5" y="394.8" font-size="20.5" text-anchor="end" fill="#111111" class="gl" letter-spacing="0.5" font-style="italic" stroke="#111111">SH2B3</text>
<text x="214.5" y="413.3" font-size="20.5" text-anchor="end" fill="#111111" class="gl" letter-spacing="0.5" font-style="italic" stroke="#111111">ASXL1</text>
<text x="214.5" y="437.2" font-size="20.5" text-anchor="end" fill="#111111" class="gl" letter-spacing="0.5" font-style="italic" stroke="#111111">BCOR</text>
<text x="214.5" y="461.1" font-size="20.5" text-anchor="end" fill="#111111" class="gl" letter-spacing="0.5" font-style="italic" stroke="#111111">TET2</text>
<text x="214.5" y="484.6" font-size="20.5" text-anchor="end" fill="#111111" class="gl" letter-spacing="0.5" font-style="italic" stroke="#111111">TP53</text>
<text x="214.5" y="508.6" font-size="20.5" text-anchor="end" fill="#111111" class="gl" letter-spacing="0.5" font-style="italic" stroke="#111111">U2AF1</text>
<text x="214.5" y="532.3" font-size="20.5" text-anchor="end" fill="#111111" class="gl" letter-spacing="0.5" font-style="italic" stroke="#111111">CBL</text>
<text x="214.5" y="555.9" font-size="20.5" text-anchor="end" fill="#111111" class="gl" letter-spacing="0.5" font-style="italic" stroke="#111111">ETV6</text>
<text x="214.5" y="579.9" font-size="20.5" text-anchor="end" fill="#111111" class="gl" letter-spacing="0.5" font-style="italic" stroke="#111111">BCORL1</text>
<text x="214.5" y="603.7" font-size="20.5" text-anchor="end" fill="#111111" class="gl" letter-spacing="0.5" font-style="italic" stroke="#111111">CDKN2A</text>
<text x="214.5" y="627.1" font-size="20.5" text-anchor="end" fill="#111111" class="gl" letter-spacing="0.5" font-style="italic" stroke="#111111">DNMT3A</text>
<text x="214.5" y="651.6" font-size="20.5" text-anchor="end" fill="#111111" class="gl" letter-spacing="0.5" font-style="italic" stroke="#111111">EZH2</text>
<text x="214.5" y="674.5" font-size="20.5" text-anchor="end" fill="#111111" class="gl" letter-spacing="0.5" font-style="italic" stroke="#111111">KIT</text>
<text x="214.5" y="698.4" font-size="20.5" text-anchor="end" fill="#111111" class="gl" letter-spacing="0.5" font-style="italic" stroke="#111111">KRAS</text>
<text x="214.5" y="722.6" font-size="20.5" text-anchor="end" fill="#111111" class="gl" letter-spacing="0.5" font-style="italic" stroke="#111111">NOTCH1</text>
<text x="214.5" y="745.8" font-size="20.5" text-anchor="end" fill="#111111" class="gl" letter-spacing="0.5" font-style="italic" stroke="#111111">PHF6</text>
<text x="214.5" y="769.7" font-size="20.5" text-anchor="end" fill="#111111" class="gl" letter-spacing="0.5" font-style="italic" stroke="#111111">RAD21</text>
<text x="214.5" y="793.4" font-size="20.5" text-anchor="end" fill="#111111" class="gl" letter-spacing="0.5" font-style="italic" stroke="#111111">SF3B1</text>
<text x="214.5" y="817.1" font-size="20.5" text-anchor="end" fill="#111111" class="gl" letter-spacing="0.5" font-style="italic" stroke="#111111">STAG2</text>
<text x="214.5" y="841" font-size="20.5" text-anchor="end" fill="#111111" class="gl" letter-spacing="0.5" font-style="italic" stroke="#111111">ZRSR2</text>
<text x="214.5" y="864.7" font-size="20.5" text-anchor="end" fill="#111111" class="gl" letter-spacing="0.5" font-style="italic" stroke="#111111">NPM1</text>
<text x="216.2" y="887.8" font-size="20.5" text-anchor="end" fill="#111111" class="gl" letter-spacing="0.9" font-style="italic" stroke="#111111">CEBPA<tspan font-size="14" dy="-8" letter-spacing="0">bZIP</tspan></text>
<text x="214.5" y="912.1" font-size="20.5" text-anchor="end" fill="#111111" class="gl" letter-spacing="0.5" font-style="italic" stroke="#111111">IDH1</text>
<rect x="221" y="927.6" width="13.55" height="22.9" fill="#5ac8d2"/>
<rect x="221" y="953.2" width="13.55" height="20.9" fill="#f2f2f2"/>
<line x1="221.6" y1="1008.8" x2="236.3" y2="988.9" stroke="#999999" stroke-width="1.7"/>
<rect x="221" y="1024" width="13.55" height="21.4" fill="#a183e0"/>
<rect x="237.22" y="927.6" width="13.55" height="22.9" fill="#5ac8d2"/>
<rect x="237.22" y="953.2" width="13.55" height="20.9" fill="#f2f2f2"/>
<rect x="237.22" y="988.3" width="13.55" height="21.1" fill="#a8bd38"/>
<rect x="237.22" y="1024" width="13.55" height="21.4" fill="#dcc6f9"/>
<rect x="253.45" y="927.6" width="13.55" height="22.9" fill="#5ac8d2"/>
<rect x="253.45" y="953.2" width="13.55" height="20.9" fill="#f2f2f2"/>
<rect x="253.45" y="988.3" width="13.55" height="21.1" fill="#a8bd38"/>
<rect x="253.45" y="1024" width="13.55" height="21.4" fill="#dcc6f9"/>
<rect x="269.68" y="927.6" width="13.55" height="22.9" fill="#5ac8d2"/>
<rect x="269.68" y="953.2" width="13.55" height="20.9" fill="#f2f2f2"/>
<rect x="269.68" y="988.3" width="13.55" height="21.1" fill="#a8bd38"/>
<rect x="269.68" y="1024" width="13.55" height="21.4" fill="#a183e0"/>
<line x1="286.5" y1="949.9" x2="301.2" y2="928.2" stroke="#999999" stroke-width="1.7"/>
<line x1="286.5" y1="973.5" x2="301.2" y2="953.8" stroke="#999999" stroke-width="1.7"/>
<rect x="285.9" y="988.3" width="13.55" height="21.1" fill="#f2f2f2"/>
<rect x="285.9" y="1024" width="13.55" height="21.4" fill="#a183e0"/>
<rect x="302.12" y="927.6" width="13.55" height="22.9" fill="#5ac8d2"/>
<rect x="302.12" y="953.2" width="13.55" height="20.9" fill="#2470a9"/>
<rect x="302.12" y="988.3" width="13.55" height="21.1" fill="#f2f2f2"/>
<rect x="302.12" y="1024" width="13.55" height="21.4" fill="#a183e0"/>
<rect x="318.35" y="927.6" width="13.55" height="22.9" fill="#5ac8d2"/>
<rect x="318.35" y="953.2" width="13.55" height="20.9" fill="#f2f2f2"/>
<rect x="318.35" y="988.3" width="13.55" height="21.1" fill="#a8bd38"/>
<rect x="318.35" y="1024" width="13.55" height="21.4" fill="#a183e0"/>
<rect x="334.58" y="927.6" width="13.55" height="22.9" fill="#5ac8d2"/>
<rect x="334.58" y="953.2" width="13.55" height="20.9" fill="#2470a9"/>
<rect x="334.58" y="988.3" width="13.55" height="21.1" fill="#a8bd38"/>
<rect x="334.58" y="1024" width="13.55" height="21.4" fill="#dcc6f9"/>
<rect x="350.8" y="927.6" width="13.55" height="22.9" fill="#5ac8d2"/>
<rect x="350.8" y="953.2" width="13.55" height="20.9" fill="#f2f2f2"/>
<rect x="350.8" y="988.3" width="13.55" height="21.1" fill="#f2f2f2"/>
<rect x="350.8" y="1024" width="13.55" height="21.4" fill="#dcc6f9"/>
<rect x="367.02" y="927.6" width="13.55" height="22.9" fill="#5ac8d2"/>
<rect x="367.02" y="953.2" width="13.55" height="20.9" fill="#f2f2f2"/>
<line x1="367.62" y1="1008.8" x2="382.32" y2="988.9" stroke="#999999" stroke-width="1.7"/>
<rect x="367.02" y="1024" width="13.55" height="21.4" fill="#a183e0"/>
<rect x="383.25" y="927.6" width="13.55" height="22.9" fill="#5ac8d2"/>
<rect x="383.25" y="953.2" width="13.55" height="20.9" fill="#2470a9"/>
<rect x="383.25" y="988.3" width="13.55" height="21.1" fill="#f2f2f2"/>
<rect x="383.25" y="1024" width="13.55" height="21.4" fill="#dcc6f9"/>
<rect x="399.48" y="927.6" width="13.55" height="22.9" fill="#5ac8d2"/>
<rect x="399.48" y="953.2" width="13.55" height="20.9" fill="#2470a9"/>
<line x1="400.08" y1="1008.8" x2="414.78" y2="988.9" stroke="#999999" stroke-width="1.7"/>
<rect x="399.48" y="1024" width="13.55" height="21.4" fill="#5c33b5"/>
<rect x="415.7" y="927.6" width="13.55" height="22.9" fill="#5ac8d2"/>
<rect x="415.7" y="953.2" width="13.55" height="20.9" fill="#2470a9"/>
<rect x="415.7" y="988.3" width="13.55" height="21.1" fill="#a8bd38"/>
<rect x="415.7" y="1024" width="13.55" height="21.4" fill="#dcc6f9"/>
<rect x="431.93" y="927.6" width="13.55" height="22.9" fill="#5ac8d2"/>
<rect x="431.93" y="953.2" width="13.55" height="20.9" fill="#f2f2f2"/>
<line x1="432.53" y1="1008.8" x2="447.23" y2="988.9" stroke="#999999" stroke-width="1.7"/>
<rect x="431.93" y="1024" width="13.55" height="21.4" fill="#dcc6f9"/>
<rect x="448.15" y="927.6" width="13.55" height="22.9" fill="#5ac8d2"/>
<rect x="448.15" y="953.2" width="13.55" height="20.9" fill="#2470a9"/>
<rect x="448.15" y="988.3" width="13.55" height="21.1" fill="#f2f2f2"/>
<rect x="448.15" y="1024" width="13.55" height="21.4" fill="#a183e0"/>
<rect x="464.38" y="927.6" width="13.55" height="22.9" fill="#5ac8d2"/>
<rect x="464.38" y="953.2" width="13.55" height="20.9" fill="#2470a9"/>
<rect x="464.38" y="988.3" width="13.55" height="21.1" fill="#f2f2f2"/>
<rect x="464.38" y="1024" width="13.55" height="21.4" fill="#a183e0"/>
<rect x="480.6" y="927.6" width="13.55" height="22.9" fill="#5ac8d2"/>
<rect x="480.6" y="953.2" width="13.55" height="20.9" fill="#f2f2f2"/>
<rect x="480.6" y="988.3" width="13.55" height="21.1" fill="#a8bd38"/>
<rect x="480.6" y="1024" width="13.55" height="21.4" fill="#a183e0"/>
<rect x="496.83" y="927.6" width="13.55" height="22.9" fill="#5ac8d2"/>
<rect x="496.83" y="953.2" width="13.55" height="20.9" fill="#2470a9"/>
<line x1="497.43" y1="1008.8" x2="512.12" y2="988.9" stroke="#999999" stroke-width="1.7"/>
<rect x="496.83" y="1024" width="13.55" height="21.4" fill="#dcc6f9"/>
<rect x="513.05" y="927.6" width="13.55" height="22.9" fill="#5ac8d2"/>
<rect x="513.05" y="953.2" width="13.55" height="20.9" fill="#f2f2f2"/>
<rect x="513.05" y="988.3" width="13.55" height="21.1" fill="#a8bd38"/>
<rect x="513.05" y="1024" width="13.55" height="21.4" fill="#dcc6f9"/>
<rect x="529.28" y="927.6" width="13.55" height="22.9" fill="#5ac8d2"/>
<rect x="529.28" y="953.2" width="13.55" height="20.9" fill="#f2f2f2"/>
<rect x="529.28" y="988.3" width="13.55" height="21.1" fill="#a8bd38"/>
<rect x="529.28" y="1024" width="13.55" height="21.4" fill="#a183e0"/>
<rect x="545.5" y="927.6" width="13.55" height="22.9" fill="#5ac8d2"/>
<rect x="545.5" y="953.2" width="13.55" height="20.9" fill="#f2f2f2"/>
<rect x="545.5" y="988.3" width="13.55" height="21.1" fill="#a8bd38"/>
<rect x="545.5" y="1024" width="13.55" height="21.4" fill="#dcc6f9"/>
<rect x="561.73" y="927.6" width="13.55" height="22.9" fill="#5ac8d2"/>
<rect x="561.73" y="953.2" width="13.55" height="20.9" fill="#2470a9"/>
<rect x="561.73" y="988.3" width="13.55" height="21.1" fill="#f2f2f2"/>
<rect x="561.73" y="1024" width="13.55" height="21.4" fill="#a183e0"/>
<line x1="578.55" y1="949.9" x2="593.25" y2="928.2" stroke="#999999" stroke-width="1.7"/>
<line x1="578.55" y1="973.5" x2="593.25" y2="953.8" stroke="#999999" stroke-width="1.7"/>
<line x1="578.55" y1="1008.8" x2="593.25" y2="988.9" stroke="#999999" stroke-width="1.7"/>
<rect x="577.95" y="1024" width="13.55" height="21.4" fill="#dcc6f9"/>
<rect x="594.17" y="927.6" width="13.55" height="22.9" fill="#5ac8d2"/>
<rect x="594.17" y="953.2" width="13.55" height="20.9" fill="#f2f2f2"/>
<rect x="594.17" y="988.3" width="13.55" height="21.1" fill="#a8bd38"/>
<rect x="594.17" y="1024" width="13.55" height="21.4" fill="#dcc6f9"/>
<rect x="610.4" y="927.6" width="13.55" height="22.9" fill="#5ac8d2"/>
<rect x="610.4" y="953.2" width="13.55" height="20.9" fill="#f2f2f2"/>
<rect x="610.4" y="988.3" width="13.55" height="21.1" fill="#a8bd38"/>
<rect x="610.4" y="1024" width="13.55" height="21.4" fill="#a183e0"/>
<rect x="626.62" y="927.6" width="13.55" height="22.9" fill="#5ac8d2"/>
<rect x="626.62" y="953.2" width="13.55" height="20.9" fill="#f2f2f2"/>
<rect x="626.62" y="988.3" width="13.55" height="21.1" fill="#a8bd38"/>
<rect x="626.62" y="1024" width="13.55" height="21.4" fill="#5c33b5"/>
<rect x="642.85" y="927.6" width="13.55" height="22.9" fill="#5ac8d2"/>
<rect x="642.85" y="953.2" width="13.55" height="20.9" fill="#f2f2f2"/>
<rect x="642.85" y="988.3" width="13.55" height="21.1" fill="#a8bd38"/>
<rect x="642.85" y="1024" width="13.55" height="21.4" fill="#dcc6f9"/>
<rect x="659.08" y="927.6" width="13.55" height="22.9" fill="#5ac8d2"/>
<rect x="659.08" y="953.2" width="13.55" height="20.9" fill="#2470a9"/>
<line x1="659.68" y1="1008.8" x2="674.38" y2="988.9" stroke="#999999" stroke-width="1.7"/>
<rect x="659.08" y="1024" width="13.55" height="21.4" fill="#dcc6f9"/>
<rect x="675.3" y="927.6" width="13.55" height="22.9" fill="#e84a32"/>
<rect x="675.3" y="953.2" width="13.55" height="20.9" fill="#f2f2f2"/>
<line x1="675.9" y1="1008.8" x2="690.6" y2="988.9" stroke="#999999" stroke-width="1.7"/>
<rect x="675.3" y="1024" width="13.55" height="21.4" fill="#dcc6f9"/>
<rect x="691.53" y="927.6" width="13.55" height="22.9" fill="#5ac8d2"/>
<rect x="691.53" y="953.2" width="13.55" height="20.9" fill="#2470a9"/>
<rect x="691.53" y="988.3" width="13.55" height="21.1" fill="#a8bd38"/>
<rect x="691.53" y="1024" width="13.55" height="21.4" fill="#dcc6f9"/>
<rect x="707.75" y="927.6" width="13.55" height="22.9" fill="#5ac8d2"/>
<rect x="707.75" y="953.2" width="13.55" height="20.9" fill="#2470a9"/>
<rect x="707.75" y="988.3" width="13.55" height="21.1" fill="#f2f2f2"/>
<rect x="707.75" y="1024" width="13.55" height="21.4" fill="#a183e0"/>
<rect x="723.98" y="927.6" width="13.55" height="22.9" fill="#5ac8d2"/>
<rect x="723.98" y="953.2" width="13.55" height="20.9" fill="#2470a9"/>
<line x1="724.58" y1="1008.8" x2="739.27" y2="988.9" stroke="#999999" stroke-width="1.7"/>
<rect x="723.98" y="1024" width="13.55" height="21.4" fill="#dcc6f9"/>
<rect x="740.2" y="927.6" width="13.55" height="22.9" fill="#5ac8d2"/>
<rect x="740.2" y="953.2" width="13.55" height="20.9" fill="#2470a9"/>
<rect x="740.2" y="988.3" width="13.55" height="21.1" fill="#a8bd38"/>
<rect x="740.2" y="1024" width="13.55" height="21.4" fill="#dcc6f9"/>
<rect x="756.43" y="927.6" width="13.55" height="22.9" fill="#5ac8d2"/>
<rect x="756.43" y="953.2" width="13.55" height="20.9" fill="#2470a9"/>
<rect x="756.43" y="988.3" width="13.55" height="21.1" fill="#a8bd38"/>
<rect x="756.43" y="1024" width="13.55" height="21.4" fill="#a183e0"/>
<rect x="772.65" y="927.6" width="13.55" height="22.9" fill="#5ac8d2"/>
<rect x="772.65" y="953.2" width="13.55" height="20.9" fill="#f2f2f2"/>
<rect x="772.65" y="988.3" width="13.55" height="21.1" fill="#a8bd38"/>
<rect x="772.65" y="1024" width="13.55" height="21.4" fill="#a183e0"/>
<rect x="788.88" y="927.6" width="13.55" height="22.9" fill="#5ac8d2"/>
<rect x="788.88" y="953.2" width="13.55" height="20.9" fill="#f2f2f2"/>
<rect x="788.88" y="988.3" width="13.55" height="21.1" fill="#a8bd38"/>
<rect x="788.88" y="1024" width="13.55" height="21.4" fill="#dcc6f9"/>
<rect x="805.1" y="927.6" width="13.55" height="22.9" fill="#5ac8d2"/>
<rect x="805.1" y="953.2" width="13.55" height="20.9" fill="#f2f2f2"/>
<line x1="805.7" y1="1008.8" x2="820.4" y2="988.9" stroke="#999999" stroke-width="1.7"/>
<rect x="805.1" y="1024" width="13.55" height="21.4" fill="#a183e0"/>
<rect x="821.33" y="927.6" width="13.55" height="22.9" fill="#5ac8d2"/>
<rect x="821.33" y="953.2" width="13.55" height="20.9" fill="#2470a9"/>
<rect x="821.33" y="988.3" width="13.55" height="21.1" fill="#f2f2f2"/>
<rect x="821.33" y="1024" width="13.55" height="21.4" fill="#a183e0"/>
<rect x="837.55" y="927.6" width="13.55" height="22.9" fill="#5ac8d2"/>
<rect x="837.55" y="953.2" width="13.55" height="20.9" fill="#f2f2f2"/>
<rect x="837.55" y="988.3" width="13.55" height="21.1" fill="#a8bd38"/>
<rect x="837.55" y="1024" width="13.55" height="21.4" fill="#a183e0"/>
<rect x="853.78" y="927.6" width="13.55" height="22.9" fill="#5ac8d2"/>
<rect x="853.78" y="953.2" width="13.55" height="20.9" fill="#2470a9"/>
<rect x="853.78" y="988.3" width="13.55" height="21.1" fill="#f2f2f2"/>
<rect x="853.78" y="1024" width="13.55" height="21.4" fill="#dcc6f9"/>
<rect x="870" y="927.6" width="13.55" height="22.9" fill="#5ac8d2"/>
<rect x="870" y="953.2" width="13.55" height="20.9" fill="#f2f2f2"/>
<rect x="870" y="988.3" width="13.55" height="21.1" fill="#f2f2f2"/>
<rect x="870" y="1024" width="13.55" height="21.4" fill="#dcc6f9"/>
<rect x="886.23" y="927.6" width="13.55" height="22.9" fill="#5ac8d2"/>
<rect x="886.23" y="953.2" width="13.55" height="20.9" fill="#f2f2f2"/>
<rect x="886.23" y="988.3" width="13.55" height="21.1" fill="#f2f2f2"/>
<rect x="886.23" y="1024" width="13.55" height="21.4" fill="#5c33b5"/>
<rect x="902.45" y="927.6" width="13.55" height="22.9" fill="#e84a32"/>
<rect x="902.45" y="953.2" width="13.55" height="20.9" fill="#f2f2f2"/>
<rect x="902.45" y="988.3" width="13.55" height="21.1" fill="#f2f2f2"/>
<rect x="902.45" y="1024" width="13.55" height="21.4" fill="#5c33b5"/>
<rect x="918.68" y="927.6" width="13.55" height="22.9" fill="#5ac8d2"/>
<rect x="918.68" y="953.2" width="13.55" height="20.9" fill="#f2f2f2"/>
<rect x="918.68" y="988.3" width="13.55" height="21.1" fill="#f2f2f2"/>
<rect x="918.68" y="1024" width="13.55" height="21.4" fill="#dcc6f9"/>
<rect x="934.9" y="927.6" width="13.55" height="22.9" fill="#5ac8d2"/>
<rect x="934.9" y="953.2" width="13.55" height="20.9" fill="#f2f2f2"/>
<rect x="934.9" y="988.3" width="13.55" height="21.1" fill="#a8bd38"/>
<rect x="934.9" y="1024" width="13.55" height="21.4" fill="#a183e0"/>
<rect x="951.13" y="927.6" width="13.55" height="22.9" fill="#5ac8d2"/>
<rect x="951.13" y="953.2" width="13.55" height="20.9" fill="#f2f2f2"/>
<line x1="951.73" y1="1008.8" x2="966.43" y2="988.9" stroke="#999999" stroke-width="1.7"/>
<rect x="951.13" y="1024" width="13.55" height="21.4" fill="#5c33b5"/>
<rect x="967.35" y="927.6" width="13.55" height="22.9" fill="#e84a32"/>
<rect x="967.35" y="953.2" width="13.55" height="20.9" fill="#f2f2f2"/>
<rect x="967.35" y="988.3" width="13.55" height="21.1" fill="#a8bd38"/>
<rect x="967.35" y="1024" width="13.55" height="21.4" fill="#a183e0"/>
<rect x="983.58" y="927.6" width="13.55" height="22.9" fill="#5ac8d2"/>
<rect x="983.58" y="953.2" width="13.55" height="20.9" fill="#f2f2f2"/>
<rect x="983.58" y="988.3" width="13.55" height="21.1" fill="#f2f2f2"/>
<rect x="983.58" y="1024" width="13.55" height="21.4" fill="#dcc6f9"/>
<rect x="999.8" y="927.6" width="13.55" height="22.9" fill="#5ac8d2"/>
<rect x="999.8" y="953.2" width="13.55" height="20.9" fill="#f2f2f2"/>
<rect x="999.8" y="988.3" width="13.55" height="21.1" fill="#a8bd38"/>
<rect x="999.8" y="1024" width="13.55" height="21.4" fill="#a183e0"/>
<rect x="1016.03" y="927.6" width="13.55" height="22.9" fill="#5ac8d2"/>
<rect x="1016.03" y="953.2" width="13.55" height="20.9" fill="#f2f2f2"/>
<rect x="1016.03" y="988.3" width="13.55" height="21.1" fill="#a8bd38"/>
<rect x="1016.03" y="1024" width="13.55" height="21.4" fill="#5c33b5"/>
<rect x="1032.25" y="927.6" width="13.55" height="22.9" fill="#5ac8d2"/>
<rect x="1032.25" y="953.2" width="13.55" height="20.9" fill="#2470a9"/>
<rect x="1032.25" y="988.3" width="13.55" height="21.1" fill="#f2f2f2"/>
<rect x="1032.25" y="1024" width="13.55" height="21.4" fill="#dcc6f9"/>
<rect x="1048.47" y="927.6" width="13.55" height="22.9" fill="#5ac8d2"/>
<rect x="1048.47" y="953.2" width="13.55" height="20.9" fill="#2470a9"/>
<rect x="1048.47" y="988.3" width="13.55" height="21.1" fill="#a8bd38"/>
<rect x="1048.47" y="1024" width="13.55" height="21.4" fill="#dcc6f9"/>
<text x="215.2" y="946.6" font-size="20" text-anchor="end" fill="#111111" letter-spacing="0.2" stroke="#111111">Cytogenetics</text>
<text x="215.2" y="970" font-size="20" text-anchor="end" fill="#111111" letter-spacing="0.2" stroke="#111111">Trisomy 8</text>
<text x="215.3" y="1006.3" font-size="20" text-anchor="end" fill="#111111" letter-spacing="0.15" stroke="#111111">MDS-related changes</text>
<text x="215.2" y="1040.2" font-size="20" text-anchor="end" fill="#111111" letter-spacing="0.2" stroke="#111111">Age</text>
<text x="16.2" y="1118.2" font-size="19" font-weight="bold" fill="#111111">Cytogenetics (ELN 2022)</text>
<rect x="19.3" y="1134" width="13.7" height="19.4" rx="1.5" fill="#e84a32"/>
<text x="37" y="1150.3" font-size="19" fill="#111111" stroke="#111111">unfavorable</text>
<rect x="152.6" y="1134" width="13.7" height="19.4" rx="1.5" fill="#5ac8d2"/>
<text x="171.9" y="1150.3" font-size="19" fill="#111111" stroke="#111111">intermediate</text>
<rect x="152.6" y="1158.8" width="13.7" height="19.9" rx="1.5" fill="#2470a9"/>
<text x="171.9" y="1174.4" font-size="19" fill="#111111" stroke="#111111">intermediate,</text>
<text x="171.9" y="1197.2" font-size="19" fill="#111111" stroke="#111111">trisomy 8</text>
<text x="327.3" y="1102" font-size="19" font-weight="bold" fill="#111111">Cytomorphologic</text>
<text x="327.3" y="1118.2" font-size="19" font-weight="bold" fill="#111111">re-assessment:</text>
<rect x="321" y="1137" width="14.2" height="19.5" rx="1.5" fill="#a8bd38"/>
<text x="343.2" y="1154.5" font-size="19" fill="#111111" stroke="#111111">MDS-related changes</text>
<text x="343.2" y="1178.7" font-size="19" fill="#111111" stroke="#111111">at AML diagnosis</text>
<text x="585.8" y="1117.7" font-size="19" font-weight="bold" fill="#111111">Age in years:</text>
<rect x="585.9" y="1134.4" width="13.7" height="19.2" rx="1.5" fill="#dcc6f9"/>
<text x="604.8" y="1151.5" font-size="19" fill="#111111" stroke="#111111">18-40</text>
<rect x="672.9" y="1134.4" width="13.7" height="19.2" rx="1.5" fill="#a183e0"/>
<text x="694" y="1151.5" font-size="19" fill="#111111" stroke="#111111">41-60</text>
<rect x="756.6" y="1134.4" width="13.7" height="19.2" rx="1.5" fill="#5c33b5"/>
<text x="776.5" y="1151.5" font-size="19" fill="#111111" stroke="#111111">&gt;60</text>
<rect x="871.8" y="1134.9" width="13.6" height="19" rx="1.5" fill="#ffffff" stroke="#d8d8d8" stroke-width="1"/>
<line x1="872.8" y1="1153.4" x2="884.4" y2="1136" stroke="#999999" stroke-width="1.4"/>
<text x="893.8" y="1150.2" font-size="19" fill="#111111" letter-spacing="0.1" stroke="#111111">data not available</text>
<text x="1099.1" y="29.7" font-size="38.8" font-weight="bold" fill="#000">(B)</text>
<line x1="1200.4" y1="76.5" x2="1200.4" y2="742" stroke="#e6e6e6" stroke-width="1.1"/>
<line x1="1310.7" y1="76.5" x2="1310.7" y2="742" stroke="#e6e6e6" stroke-width="1.1"/>
<line x1="1419.4" y1="76.5" x2="1419.4" y2="742" stroke="#e6e6e6" stroke-width="1.1"/>
<line x1="1530.5" y1="76.5" x2="1530.5" y2="742" stroke="#e6e6e6" stroke-width="1.1"/>
<line x1="1620.8" y1="76.5" x2="1620.8" y2="742" stroke="#e6e6e6" stroke-width="1.1"/>
<line x1="1730.6" y1="76.5" x2="1730.6" y2="742" stroke="#e6e6e6" stroke-width="1.1"/>
<line x1="1840.3" y1="76.5" x2="1840.3" y2="742" stroke="#e6e6e6" stroke-width="1.1"/>
<line x1="1950.6" y1="76.5" x2="1950.6" y2="742" stroke="#e6e6e6" stroke-width="1.1"/>
<text x="1202.5" y="73" font-size="19.6" text-anchor="middle" fill="#444" stroke="#444">60%</text>
<text x="1312.7" y="73" font-size="19.6" text-anchor="middle" fill="#444" stroke="#444">40%</text>
<text x="1421.8" y="73" font-size="19.6" text-anchor="middle" fill="#444" stroke="#444">20%</text>
<text x="1730.3" y="73" font-size="19.6" text-anchor="middle" fill="#444" stroke="#444">20%</text>
<text x="1840.3" y="73" font-size="19.6" text-anchor="middle" fill="#444" stroke="#444">40%</text>
<text x="1950" y="73" font-size="19.6" text-anchor="middle" fill="#444" stroke="#444">60%</text>
<rect x="1509.3" y="80.5" width="21" height="15.7" fill="#4f8f22"/>
<rect x="1621.1" y="81.35" width="50.1" height="15.7" fill="#7f7f7f"/>
<text x="1575.3" y="93.8" font-size="16.2" text-anchor="middle" fill="#111111" font-style="italic" class="bl" stroke="#111111">ASXL1</text>
<rect x="1509.3" y="104.25" width="21" height="15.7" fill="#4f8f22"/>
<rect x="1621.1" y="105.1" width="23.5" height="15.7" fill="#7f7f7f"/>
<text x="1575.3" y="117.55" font-size="16.2" text-anchor="middle" fill="#111111" font-style="italic" class="bl" stroke="#111111">BCOR</text>
<rect x="1520" y="127.99" width="10.3" height="15.7" fill="#4f8f22"/>
<rect x="1621.1" y="128.84" width="19" height="15.7" fill="#7f7f7f"/>
<text x="1575.3" y="141.29" font-size="16.2" text-anchor="middle" fill="#111111" font-style="italic" class="bl" stroke="#111111">BCORL1</text>
<rect x="1520" y="151.74" width="10.3" height="15.7" fill="#4f8f22"/>
<rect x="1621.1" y="152.59" width="1.2" height="15.7" fill="#7f7f7f"/>
<text x="1575.3" y="165.04" font-size="16.2" text-anchor="middle" fill="#111111" font-style="italic" class="bl" stroke="#111111">CDKN2A</text>
<rect x="1621.1" y="176.33" width="19.9" height="15.7" fill="#7f7f7f"/>
<text x="1575.3" y="188.78" font-size="16.2" text-anchor="middle" fill="#111111" font-style="italic" class="bl" stroke="#111111">CEBPA</text>
<rect x="1520" y="199.23" width="10.3" height="15.7" fill="#4f8f22"/>
<rect x="1621.1" y="200.08" width="153.7" height="15.7" fill="#7f7f7f"/>
<text x="1575.3" y="212.53" font-size="16.2" text-anchor="middle" fill="#111111" font-style="italic" class="bl" stroke="#111111">DNMT3A</text>
<text x="1507.85" y="220.53" font-size="24.4" fill="#222" transform="rotate(90 1512.6 208.03)" stroke="#222">*</text>
<text x="1492.05" y="220.53" font-size="24.4" fill="#222" transform="rotate(90 1496.8 208.03)" stroke="#222">*</text>
<rect x="1520" y="222.98" width="10.3" height="15.7" fill="#4f8f22"/>
<rect x="1621.1" y="223.83" width="19" height="15.7" fill="#7f7f7f"/>
<text x="1575.3" y="236.28" font-size="16.2" text-anchor="middle" fill="#111111" font-style="italic" class="bl" stroke="#111111">EZH2</text>
<rect x="1265.7" y="246.72" width="264.6" height="15.7" fill="#4f8f22"/>
<rect x="1621.1" y="247.57" width="113.9" height="15.7" fill="#7f7f7f"/>
<text x="1575.3" y="260.02" font-size="16.2" text-anchor="middle" fill="#111111" font-style="italic" class="bl" stroke="#111111">FLT3-ITD</text>
<text x="1253.35" y="266.73" font-size="24.4" fill="#222" transform="rotate(90 1258.1 254.22)" stroke="#222">*</text>
<text x="1237.55" y="266.73" font-size="24.4" fill="#222" transform="rotate(90 1242.3 254.22)" stroke="#222">*</text>
<rect x="1499" y="270.47" width="31.3" height="15.7" fill="#4f8f22"/>
<rect x="1621.1" y="271.32" width="44.2" height="15.7" fill="#7f7f7f"/>
<text x="1575.3" y="283.77" font-size="16.2" text-anchor="middle" fill="#111111" font-style="italic" class="bl" stroke="#111111">FLT3-TKD</text>
<rect x="1621.1" y="295.06" width="33.9" height="15.7" fill="#7f7f7f"/>
<text x="1575.3" y="307.51" font-size="16.2" text-anchor="middle" fill="#111111" font-style="italic" class="bl" stroke="#111111">GATA2</text>
<rect x="1621.1" y="318.81" width="46.5" height="15.7" fill="#7f7f7f"/>
<text x="1575.3" y="331.26" font-size="16.2" text-anchor="middle" fill="#111111" font-style="italic" class="bl" stroke="#111111">IDH1</text>
<text x="1520.35" y="336.46" font-size="24.4" fill="#222" transform="rotate(90 1525.1 323.96)" stroke="#222">*</text>
<rect x="1478" y="341.71" width="52.3" height="15.7" fill="#4f8f22"/>
<rect x="1621.1" y="342.56" width="79.9" height="15.7" fill="#7f7f7f"/>
<text x="1575.3" y="355.01" font-size="16.2" text-anchor="middle" fill="#111111" font-style="italic" class="bl" stroke="#111111">IDH2</text>
<rect x="1520" y="365.45" width="10.3" height="15.7" fill="#4f8f22"/>
<rect x="1621.1" y="366.3" width="27.7" height="15.7" fill="#7f7f7f"/>
<text x="1575.3" y="378.75" font-size="16.2" text-anchor="middle" fill="#111111" font-style="italic" class="bl" stroke="#111111">KIT</text>
<rect x="1520" y="389.2" width="10.3" height="15.7" fill="#4f8f22"/>
<rect x="1621.1" y="390.05" width="28.6" height="15.7" fill="#7f7f7f"/>
<text x="1575.3" y="402.5" font-size="16.2" text-anchor="middle" fill="#111111" font-style="italic" class="bl" stroke="#111111">KRAS</text>
<rect x="1520" y="412.94" width="10.3" height="15.7" fill="#4f8f22"/>
<rect x="1621.1" y="413.79" width="8.5" height="15.7" fill="#7f7f7f"/>
<text x="1575.3" y="426.24" font-size="16.2" text-anchor="middle" fill="#111111" font-style="italic" class="bl" stroke="#111111">NOTCH1</text>
<rect x="1621.1" y="437.54" width="207.9" height="15.7" fill="#7f7f7f"/>
<text x="1575.3" y="449.99" font-size="16.2" text-anchor="middle" fill="#111111" font-style="italic" class="bl" stroke="#111111">NPM1</text>
<text x="1520.85" y="457.5" font-size="24.4" fill="#222" transform="rotate(90 1525.6 444.99)" stroke="#222">*</text>
<text x="1505.05" y="457.5" font-size="24.4" fill="#222" transform="rotate(90 1509.8 444.99)" stroke="#222">*</text>
<rect x="1403.8" y="460.44" width="126.5" height="15.7" fill="#4f8f22"/>
<rect x="1621.1" y="461.29" width="87.9" height="15.7" fill="#7f7f7f"/>
<text x="1575.3" y="473.74" font-size="16.2" text-anchor="middle" fill="#111111" font-style="italic" class="bl" stroke="#111111">NRAS</text>
<rect x="1520" y="484.18" width="10.3" height="15.7" fill="#4f8f22"/>
<rect x="1621.1" y="485.03" width="15.9" height="15.7" fill="#7f7f7f"/>
<text x="1575.3" y="497.48" font-size="16.2" text-anchor="middle" fill="#111111" font-style="italic" class="bl" stroke="#111111">PHF6</text>
<rect x="1445.4" y="507.93" width="84.9" height="15.7" fill="#4f8f22"/>
<rect x="1621.1" y="508.78" width="37.9" height="15.7" fill="#7f7f7f"/>
<text x="1575.3" y="521.23" font-size="16.2" text-anchor="middle" fill="#111111" font-style="italic" class="bl" stroke="#111111">PTPN11</text>
<text x="1433.35" y="526.93" font-size="24.4" fill="#222" transform="rotate(90 1438.1 514.43)" stroke="#222">*</text>
<rect x="1520" y="531.67" width="10.3" height="15.7" fill="#4f8f22"/>
<rect x="1621.1" y="532.52" width="17.9" height="15.7" fill="#7f7f7f"/>
<text x="1575.3" y="544.97" font-size="16.2" text-anchor="middle" fill="#111111" font-style="italic" class="bl" stroke="#111111">RAD21</text>
<rect x="1467.7" y="555.42" width="62.6" height="15.7" fill="#4f8f22"/>
<rect x="1621.1" y="556.27" width="55.9" height="15.7" fill="#7f7f7f"/>
<text x="1575.3" y="568.72" font-size="16.2" text-anchor="middle" fill="#111111" font-style="italic" class="bl" stroke="#111111">RUNX1</text>
<rect x="1520" y="579.17" width="10.3" height="15.7" fill="#4f8f22"/>
<rect x="1621.1" y="580.02" width="14.3" height="15.7" fill="#7f7f7f"/>
<text x="1575.3" y="592.47" font-size="16.2" text-anchor="middle" fill="#111111" font-style="italic" class="bl" stroke="#111111">SF3B1</text>
<rect x="1520" y="602.91" width="10.3" height="15.7" fill="#4f8f22"/>
<rect x="1621.1" y="603.76" width="27.7" height="15.7" fill="#7f7f7f"/>
<text x="1575.3" y="616.21" font-size="16.2" text-anchor="middle" fill="#111111" font-style="italic" class="bl" stroke="#111111">STAG2</text>
<rect x="1509.3" y="626.66" width="21" height="15.7" fill="#4f8f22"/>
<rect x="1621.1" y="627.51" width="100.6" height="15.7" fill="#7f7f7f"/>
<text x="1575.3" y="639.96" font-size="16.2" text-anchor="middle" fill="#111111" font-style="italic" class="bl" stroke="#111111">TET2</text>
<text x="1496.85" y="646.16" font-size="24.4" fill="#222" transform="rotate(90 1501.6 633.66)" stroke="#222">*</text>
<rect x="1509.3" y="650.4" width="21" height="15.7" fill="#4f8f22"/>
<rect x="1621.1" y="651.25" width="39.9" height="15.7" fill="#7f7f7f"/>
<text x="1575.3" y="663.7" font-size="16.2" text-anchor="middle" fill="#111111" font-style="italic" class="bl" stroke="#111111">TP53</text>
<rect x="1509.3" y="674.15" width="21" height="15.7" fill="#4f8f22"/>
<rect x="1621.1" y="675" width="15.9" height="15.7" fill="#7f7f7f"/>
<text x="1575.3" y="687.45" font-size="16.2" text-anchor="middle" fill="#111111" font-style="italic" class="bl" stroke="#111111">U2AF1</text>
<rect x="1245" y="697.9" width="285.3" height="15.7" fill="#4f8f22"/>
<rect x="1621.1" y="698.75" width="37.9" height="15.7" fill="#7f7f7f"/>
<text x="1575.3" y="711.2" font-size="16.2" text-anchor="middle" fill="#111111" font-style="italic" class="bl" stroke="#111111">WT1</text>
<text x="1233.35" y="717.1" font-size="24.4" fill="#222" transform="rotate(90 1238.1 704.6)" stroke="#222">*</text>
<text x="1217.55" y="717.1" font-size="24.4" fill="#222" transform="rotate(90 1222.3 704.6)" stroke="#222">*</text>
<rect x="1520" y="721.64" width="10.3" height="15.7" fill="#4f8f22"/>
<rect x="1621.1" y="722.49" width="7.6" height="15.7" fill="#7f7f7f"/>
<text x="1575.3" y="731.74" font-size="16.2" text-anchor="middle" fill="#111111" font-style="italic" class="bl" stroke="#111111">ZRSR2</text>
<rect x="1798" y="505" width="148" height="172" fill="#fff"/>
<rect x="1806.3" y="546.3" width="13.7" height="13.4" rx="1.8" fill="#4f8f22"/>
<rect x="1806.3" y="579.5" width="13.7" height="13.3" rx="1.8" fill="#7f7f7f"/>
<text x="1830" y="558.5" font-size="20.5" letter-spacing="0.35" fill="#111111" stroke="#111111"><tspan font-style="italic">UBTF</tspan>-TD<tspan font-size="15" dy="-7.5" letter-spacing="0">pos</tspan></text>
<text x="1830" y="591.1" font-size="20.5" letter-spacing="0.35" fill="#111111" stroke="#111111"><tspan font-style="italic">UBTF</tspan>-TD<tspan font-size="14.5" dy="-8.5" letter-spacing="0">WT</tspan></text>
<text x="1818.25" y="644.71" font-size="24.4" fill="#222" transform="rotate(90 1823 632.2)" stroke="#222">*</text>
<text x="1802.25" y="666.11" font-size="24.4" fill="#222" transform="rotate(90 1807 653.6)" stroke="#222">*</text>
<text x="1818.15" y="666.11" font-size="24.4" fill="#222" transform="rotate(90 1822.9 653.6)" stroke="#222">*</text>
<text x="1835.7" y="635.3" font-size="19.2" fill="#111111" stroke="#111111">p-val ≤0.05</text>
<text x="1835.7" y="655.7" font-size="19" fill="#111111" stroke="#111111">p-val ≤0.001</text>
<text x="1099.3" y="853.8" font-size="38.8" font-weight="bold" fill="#000">(C)</text>
<line x1="1228.6" y1="851.5" x2="1228.6" y2="1151.5" stroke="#999" stroke-width="1.6"/>
<line x1="1219.8" y1="1150.6" x2="1946" y2="1150.6" stroke="#999" stroke-width="1.6"/>
<line x1="1220.2" y1="1091.34" x2="1228.6" y2="1091.34" stroke="#999" stroke-width="1.4"/>
<text x="1204.5" y="1099.64" font-size="19" text-anchor="middle" fill="#555" stroke="#555">20</text>
<line x1="1220.2" y1="1031.88" x2="1228.6" y2="1031.88" stroke="#999" stroke-width="1.4"/>
<text x="1204.5" y="1040.18" font-size="19" text-anchor="middle" fill="#555" stroke="#555">40</text>
<line x1="1220.2" y1="972.42" x2="1228.6" y2="972.42" stroke="#999" stroke-width="1.4"/>
<text x="1204.5" y="980.72" font-size="19" text-anchor="middle" fill="#555" stroke="#555">60</text>
<line x1="1220.2" y1="912.96" x2="1228.6" y2="912.96" stroke="#999" stroke-width="1.4"/>
<text x="1204.5" y="921.26" font-size="19" text-anchor="middle" fill="#555" stroke="#555">80</text>
<line x1="1220.2" y1="853.5" x2="1228.6" y2="853.5" stroke="#999" stroke-width="1.4"/>
<text x="1204.5" y="861.8" font-size="19" text-anchor="middle" fill="#555" stroke="#555">100</text>
<text transform="translate(1175.2 999.7) rotate(-90)" font-size="23.5" text-anchor="middle" fill="#111111" stroke="#111111">VAF (%)</text>
<line x1="1271.8" y1="1150.6" x2="1271.8" y2="1159.6" stroke="#999" stroke-width="1.4"/>
<text x="1273" y="1187.2" font-size="21" letter-spacing="0.45" text-anchor="middle" fill="#111111" class="cl" stroke="#111111"><tspan font-style="italic">UBTF</tspan>-TD</text>
<ellipse cx="1274.1" cy="966.1" rx="4.3" ry="4.6" fill="#4f8f22"/>
<ellipse cx="1269.4" cy="968.7" rx="4.3" ry="4.6" fill="#4f8f22"/>
<ellipse cx="1274.5" cy="981.1" rx="4.3" ry="4.6" fill="#4f8f22"/>
<ellipse cx="1269.3" cy="990.4" rx="4.3" ry="4.6" fill="#4f8f22"/>
<ellipse cx="1259.6" cy="998.7" rx="4.3" ry="4.6" fill="#4f8f22"/>
<ellipse cx="1255" cy="1001.2" rx="4.3" ry="4.6" fill="#4f8f22"/>
<ellipse cx="1249.7" cy="1007.5" rx="4.3" ry="4.6" fill="#4f8f22"/>
<ellipse cx="1268.7" cy="1003.7" rx="4.3" ry="4.6" fill="#4f8f22"/>
<ellipse cx="1283.6" cy="998.7" rx="4.3" ry="4.6" fill="#4f8f22"/>
<ellipse cx="1279.3" cy="1001.2" rx="4.3" ry="4.6" fill="#4f8f22"/>
<ellipse cx="1293.9" cy="999" rx="4.3" ry="4.6" fill="#4f8f22"/>
<ellipse cx="1259.3" cy="1010" rx="4.3" ry="4.6" fill="#4f8f22"/>
<ellipse cx="1245" cy="1016.2" rx="4.3" ry="4.6" fill="#4f8f22"/>
<ellipse cx="1254.3" cy="1017.4" rx="4.3" ry="4.6" fill="#4f8f22"/>
<ellipse cx="1249.3" cy="1019.3" rx="4.3" ry="4.6" fill="#4f8f22"/>
<ellipse cx="1269.3" cy="1016.8" rx="4.3" ry="4.6" fill="#4f8f22"/>
<ellipse cx="1283.6" cy="1010.6" rx="4.3" ry="4.6" fill="#4f8f22"/>
<ellipse cx="1279.9" cy="1013.7" rx="4.3" ry="4.6" fill="#4f8f22"/>
<ellipse cx="1294.2" cy="1019.3" rx="4.3" ry="4.6" fill="#4f8f22"/>
<ellipse cx="1299.2" cy="1019.3" rx="4.3" ry="4.6" fill="#4f8f22"/>
<ellipse cx="1288.6" cy="1022.4" rx="4.3" ry="4.6" fill="#4f8f22"/>
<ellipse cx="1283.6" cy="1021.8" rx="4.3" ry="4.6" fill="#4f8f22"/>
<ellipse cx="1259.9" cy="1025.5" rx="4.3" ry="4.6" fill="#4f8f22"/>
<ellipse cx="1278" cy="1025.5" rx="4.3" ry="4.6" fill="#4f8f22"/>
<ellipse cx="1265" cy="1026.8" rx="4.3" ry="4.6" fill="#4f8f22"/>
<ellipse cx="1255" cy="1034.3" rx="4.3" ry="4.6" fill="#4f8f22"/>
<ellipse cx="1261.2" cy="1037.4" rx="4.3" ry="4.6" fill="#4f8f22"/>
<ellipse cx="1266.2" cy="1039.3" rx="4.3" ry="4.6" fill="#4f8f22"/>
<ellipse cx="1275.5" cy="1033.6" rx="4.3" ry="4.6" fill="#4f8f22"/>
<ellipse cx="1283.6" cy="1036.8" rx="4.3" ry="4.6" fill="#4f8f22"/>
<ellipse cx="1289.2" cy="1040.5" rx="4.3" ry="4.6" fill="#4f8f22"/>
<ellipse cx="1273.7" cy="1046.7" rx="4.3" ry="4.6" fill="#4f8f22"/>
<ellipse cx="1284.3" cy="1049.9" rx="4.3" ry="4.6" fill="#4f8f22"/>
<ellipse cx="1260" cy="1049.9" rx="4.3" ry="4.6" fill="#4f8f22"/>
<ellipse cx="1265" cy="1052.3" rx="4.3" ry="4.6" fill="#4f8f22"/>
<ellipse cx="1269.9" cy="1058.6" rx="4.3" ry="4.6" fill="#4f8f22"/>
<ellipse cx="1274.9" cy="1059.2" rx="4.3" ry="4.6" fill="#4f8f22"/>
<ellipse cx="1279.3" cy="1058.6" rx="4.3" ry="4.6" fill="#4f8f22"/>
<ellipse cx="1269.4" cy="1084.4" rx="4.3" ry="4.6" fill="#4f8f22"/>
<ellipse cx="1264.5" cy="1090.6" rx="4.3" ry="4.6" fill="#4f8f22"/>
<ellipse cx="1279.4" cy="1096.7" rx="4.3" ry="4.6" fill="#4f8f22"/>
<ellipse cx="1264.5" cy="1105.9" rx="4.3" ry="4.6" fill="#4f8f22"/>
<ellipse cx="1274.1" cy="1105.9" rx="4.3" ry="4.6" fill="#4f8f22"/>
<ellipse cx="1264.4" cy="1002.8" rx="4.3" ry="4.6" fill="#4f8f22"/>
<ellipse cx="1275" cy="1005.2" rx="4.3" ry="4.6" fill="#4f8f22"/>
<ellipse cx="1249.5" cy="1021" rx="4.3" ry="4.6" fill="#4f8f22"/>
<line x1="1271.8" y1="1008.1" x2="1271.8" y2="1044.9" stroke="#000" stroke-width="2.2"/>
<line x1="1240.8" y1="1022.4" x2="1302.8" y2="1022.4" stroke="#000" stroke-width="2.2"/>
<line x1="1255.8" y1="1008.1" x2="1287.8" y2="1008.1" stroke="#000" stroke-width="2.2"/>
<line x1="1255.8" y1="1044.9" x2="1287.8" y2="1044.9" stroke="#000" stroke-width="2.2"/>
<line x1="1377.8" y1="1150.6" x2="1377.8" y2="1159.6" stroke="#999" stroke-width="1.4"/>
<text x="1379" y="1187.2" font-size="21" letter-spacing="0.45" text-anchor="middle" fill="#111111" font-style="italic" class="cl" stroke="#111111">WT1</text>
<line x1="1377.8" y1="1023.9" x2="1377.8" y2="1118" stroke="#000" stroke-width="2.2"/>
<line x1="1346.8" y1="1063.8" x2="1408.8" y2="1063.8" stroke="#000" stroke-width="2.2"/>
<line x1="1361.8" y1="1023.9" x2="1393.8" y2="1023.9" stroke="#000" stroke-width="2.2"/>
<line x1="1361.8" y1="1118" x2="1393.8" y2="1118" stroke="#000" stroke-width="2.2"/>
<ellipse cx="1377.8" cy="909.7" rx="4.3" ry="4.6" fill="#1b5b9e"/>
<ellipse cx="1372.6" cy="992.7" rx="4.3" ry="4.6" fill="#1b5b9e"/>
<ellipse cx="1383.4" cy="999.2" rx="4.3" ry="4.6" fill="#1b5b9e"/>
<ellipse cx="1394.3" cy="995.4" rx="4.3" ry="4.6" fill="#1b5b9e"/>
<ellipse cx="1394.3" cy="1007.3" rx="4.3" ry="4.6" fill="#1b5b9e"/>
<ellipse cx="1405.1" cy="1013.3" rx="4.3" ry="4.6" fill="#1b5b9e"/>
<ellipse cx="1362.1" cy="1016.2" rx="4.3" ry="4.6" fill="#1b5b9e"/>
<ellipse cx="1372.6" cy="1016.2" rx="4.3" ry="4.6" fill="#1b5b9e"/>
<ellipse cx="1351.3" cy="1025.2" rx="4.3" ry="4.6" fill="#1b5b9e"/>
<ellipse cx="1362.1" cy="1028.3" rx="4.3" ry="4.6" fill="#1b5b9e"/>
<ellipse cx="1383.4" cy="1028.3" rx="4.3" ry="4.6" fill="#1b5b9e"/>
<ellipse cx="1394.3" cy="1022.3" rx="4.3" ry="4.6" fill="#1b5b9e"/>
<ellipse cx="1405.1" cy="1028.3" rx="4.3" ry="4.6" fill="#1b5b9e"/>
<ellipse cx="1394.3" cy="1034.2" rx="4.3" ry="4.6" fill="#1b5b9e"/>
<ellipse cx="1372.6" cy="1040.2" rx="4.3" ry="4.6" fill="#1b5b9e"/>
<ellipse cx="1383.4" cy="1040.2" rx="4.3" ry="4.6" fill="#1b5b9e"/>
<ellipse cx="1377.8" cy="1052.1" rx="4.3" ry="4.6" fill="#1b5b9e"/>
<ellipse cx="1367" cy="1063.8" rx="4.3" ry="4.6" fill="#1b5b9e"/>
<ellipse cx="1377.8" cy="1063.8" rx="4.3" ry="4.6" fill="#1b5b9e"/>
<ellipse cx="1388.7" cy="1063.8" rx="4.3" ry="4.6" fill="#1b5b9e"/>
<ellipse cx="1372.6" cy="1075.7" rx="4.3" ry="4.6" fill="#1b5b9e"/>
<ellipse cx="1394.3" cy="1075.7" rx="4.3" ry="4.6" fill="#1b5b9e"/>
<ellipse cx="1362.1" cy="1085.1" rx="4.3" ry="4.6" fill="#1b5b9e"/>
<ellipse cx="1372.6" cy="1088" rx="4.3" ry="4.6" fill="#1b5b9e"/>
<ellipse cx="1383.4" cy="1094" rx="4.3" ry="4.6" fill="#1b5b9e"/>
<ellipse cx="1362.1" cy="1105.9" rx="4.3" ry="4.6" fill="#1b5b9e"/>
<ellipse cx="1372.6" cy="1114.2" rx="4.3" ry="4.6" fill="#1b5b9e"/>
<ellipse cx="1383.4" cy="1118" rx="4.3" ry="4.6" fill="#1b5b9e"/>
<ellipse cx="1394.3" cy="1118" rx="4.3" ry="4.6" fill="#1b5b9e"/>
<ellipse cx="1362.1" cy="1120.3" rx="4.3" ry="4.6" fill="#1b5b9e"/>
<ellipse cx="1372.6" cy="1126.5" rx="4.3" ry="4.6" fill="#1b5b9e"/>
<ellipse cx="1362.1" cy="1132.2" rx="4.3" ry="4.6" fill="#1b5b9e"/>
<ellipse cx="1351.3" cy="1138.4" rx="4.3" ry="4.6" fill="#1b5b9e"/>
<ellipse cx="1372.6" cy="1138.4" rx="4.3" ry="4.6" fill="#1b5b9e"/>
<ellipse cx="1383.4" cy="1135.5" rx="4.3" ry="4.6" fill="#1b5b9e"/>
<ellipse cx="1394.3" cy="1141.6" rx="4.3" ry="4.6" fill="#1b5b9e"/>
<ellipse cx="1405.1" cy="1135.5" rx="4.3" ry="4.6" fill="#1b5b9e"/>
<line x1="1484.4" y1="1150.6" x2="1484.4" y2="1159.6" stroke="#999" stroke-width="1.4"/>
<text x="1485.6" y="1187.2" font-size="21" letter-spacing="0.45" text-anchor="middle" fill="#111111" class="cl" stroke="#111111"><tspan font-style="italic">FLT3</tspan>-ITD</text>
<line x1="1484.4" y1="1076.2" x2="1484.4" y2="1145" stroke="#000" stroke-width="2.2"/>
<line x1="1453.4" y1="1132.3" x2="1515.4" y2="1132.3" stroke="#000" stroke-width="2.2"/>
<line x1="1468.4" y1="1076.2" x2="1500.4" y2="1076.2" stroke="#000" stroke-width="2.2"/>
<line x1="1468.4" y1="1145" x2="1500.4" y2="1145" stroke="#000" stroke-width="2.2"/>
<ellipse cx="1484" cy="951.3" rx="4.3" ry="4.6" fill="#0b2e98"/>
<ellipse cx="1484" cy="989.7" rx="4.3" ry="4.6" fill="#0b2e98"/>
<ellipse cx="1495.9" cy="1058.3" rx="4.3" ry="4.6" fill="#0b2e98"/>
<ellipse cx="1480.7" cy="1064" rx="4.3" ry="4.6" fill="#0b2e98"/>
<ellipse cx="1472.8" cy="1069.8" rx="4.3" ry="4.6" fill="#0b2e98"/>
<ellipse cx="1488" cy="1072.5" rx="4.3" ry="4.6" fill="#0b2e98"/>
<ellipse cx="1480.3" cy="1079.3" rx="4.3" ry="4.6" fill="#0b2e98"/>
<ellipse cx="1484" cy="1090.8" rx="4.3" ry="4.6" fill="#0b2e98"/>
<ellipse cx="1480.3" cy="1102.7" rx="4.3" ry="4.6" fill="#0b2e98"/>
<ellipse cx="1488" cy="1105.4" rx="4.3" ry="4.6" fill="#0b2e98"/>
<ellipse cx="1495.9" cy="1109.1" rx="4.3" ry="4.6" fill="#0b2e98"/>
<ellipse cx="1480.3" cy="1114.6" rx="4.3" ry="4.6" fill="#0b2e98"/>
<ellipse cx="1472.8" cy="1132.3" rx="4.3" ry="4.6" fill="#0b2e98"/>
<ellipse cx="1495.9" cy="1132.3" rx="4.3" ry="4.6" fill="#0b2e98"/>
<ellipse cx="1503.6" cy="1132.3" rx="4.3" ry="4.6" fill="#0b2e98"/>
<ellipse cx="1456.9" cy="1135.2" rx="4.3" ry="4.6" fill="#0b2e98"/>
<ellipse cx="1488" cy="1135.6" rx="4.3" ry="4.6" fill="#0b2e98"/>
<ellipse cx="1465.2" cy="1138.4" rx="4.3" ry="4.6" fill="#0b2e98"/>
<ellipse cx="1480.7" cy="1141.1" rx="4.3" ry="4.6" fill="#0b2e98"/>
<ellipse cx="1456.9" cy="1147.5" rx="4.3" ry="4.6" fill="#0b2e98"/>
<ellipse cx="1472.8" cy="1147.5" rx="4.3" ry="4.6" fill="#0b2e98"/>
<ellipse cx="1488" cy="1147.5" rx="4.3" ry="4.6" fill="#0b2e98"/>
<ellipse cx="1495.9" cy="1147.5" rx="4.3" ry="4.6" fill="#0b2e98"/>
<ellipse cx="1503.6" cy="1147.5" rx="4.3" ry="4.6" fill="#0b2e98"/>
<ellipse cx="1511.4" cy="1147.5" rx="4.3" ry="4.6" fill="#0b2e98"/>
<line x1="1590.3" y1="1150.6" x2="1590.3" y2="1159.6" stroke="#999" stroke-width="1.4"/>
<text x="1591.5" y="1187.2" font-size="21" letter-spacing="0.45" text-anchor="middle" fill="#111111" font-style="italic" class="cl" stroke="#111111">NRAS</text>
<line x1="1590.3" y1="1077.6" x2="1590.3" y2="1136.7" stroke="#000" stroke-width="2.2"/>
<line x1="1559.3" y1="1123.5" x2="1621.3" y2="1123.5" stroke="#000" stroke-width="2.2"/>
<line x1="1574.3" y1="1077.6" x2="1606.3" y2="1077.6" stroke="#000" stroke-width="2.2"/>
<line x1="1574.3" y1="1136.7" x2="1606.3" y2="1136.7" stroke="#000" stroke-width="2.2"/>
<ellipse cx="1590.3" cy="1037.5" rx="4.3" ry="4.6" fill="#2f91ee"/>
<ellipse cx="1585.1" cy="1055.1" rx="4.3" ry="4.6" fill="#2f91ee"/>
<ellipse cx="1595.8" cy="1064.2" rx="4.3" ry="4.6" fill="#2f91ee"/>
<ellipse cx="1590.3" cy="1082.2" rx="4.3" ry="4.6" fill="#2f91ee"/>
<ellipse cx="1590.3" cy="1103" rx="4.3" ry="4.6" fill="#2f91ee"/>
<ellipse cx="1574.3" cy="1114.8" rx="4.3" ry="4.6" fill="#2f91ee"/>
<ellipse cx="1563.9" cy="1123.5" rx="4.3" ry="4.6" fill="#2f91ee"/>
<ellipse cx="1585.1" cy="1123.5" rx="4.3" ry="4.6" fill="#2f91ee"/>
<ellipse cx="1574.3" cy="1132.6" rx="4.3" ry="4.6" fill="#2f91ee"/>
<ellipse cx="1563.9" cy="1138.7" rx="4.3" ry="4.6" fill="#2f91ee"/>
<ellipse cx="1585.1" cy="1138.7" rx="4.3" ry="4.6" fill="#2f91ee"/>
<ellipse cx="1595.8" cy="1135.8" rx="4.3" ry="4.6" fill="#2f91ee"/>
<ellipse cx="1606.3" cy="1141.6" rx="4.3" ry="4.6" fill="#2f91ee"/>
<ellipse cx="1617.4" cy="1135.8" rx="4.3" ry="4.6" fill="#2f91ee"/>
<line x1="1696.7" y1="1150.6" x2="1696.7" y2="1159.6" stroke="#999" stroke-width="1.4"/>
<text x="1697.9" y="1187.2" font-size="21" letter-spacing="0.45" text-anchor="middle" fill="#111111" font-style="italic" class="cl" stroke="#111111">PTPN11</text>
<line x1="1696.7" y1="1068.6" x2="1696.7" y2="1132.6" stroke="#000" stroke-width="2.2"/>
<line x1="1665.7" y1="1120.6" x2="1727.7" y2="1120.6" stroke="#000" stroke-width="2.2"/>
<line x1="1680.7" y1="1068.6" x2="1712.7" y2="1068.6" stroke="#000" stroke-width="2.2"/>
<line x1="1680.7" y1="1132.6" x2="1712.7" y2="1132.6" stroke="#000" stroke-width="2.2"/>
<ellipse cx="1714" cy="1049.7" rx="4.3" ry="4.6" fill="#2239d6"/>
<ellipse cx="1696.7" cy="1058.4" rx="4.3" ry="4.6" fill="#2239d6"/>
<ellipse cx="1696.7" cy="1100.3" rx="4.3" ry="4.6" fill="#2239d6"/>
<ellipse cx="1696.7" cy="1114.8" rx="4.3" ry="4.6" fill="#2239d6"/>
<ellipse cx="1679.3" cy="1126.8" rx="4.3" ry="4.6" fill="#2239d6"/>
<ellipse cx="1696.7" cy="1132.9" rx="4.3" ry="4.6" fill="#2239d6"/>
<ellipse cx="1714" cy="1132.9" rx="4.3" ry="4.6" fill="#2239d6"/>
<ellipse cx="1679.3" cy="1141.6" rx="4.3" ry="4.6" fill="#2239d6"/>
<line x1="1802.9" y1="1150.6" x2="1802.9" y2="1159.6" stroke="#999" stroke-width="1.4"/>
<text x="1804.1" y="1187.2" font-size="21" letter-spacing="0.45" text-anchor="middle" fill="#111111" font-style="italic" class="cl" stroke="#111111">RUNX1</text>
<line x1="1802.9" y1="1014" x2="1802.9" y2="1088" stroke="#000" stroke-width="2.2"/>
<line x1="1771.9" y1="1032.8" x2="1833.9" y2="1032.8" stroke="#000" stroke-width="2.2"/>
<line x1="1786.9" y1="1014" x2="1818.9" y2="1014" stroke="#000" stroke-width="2.2"/>
<line x1="1786.9" y1="1088" x2="1818.9" y2="1088" stroke="#000" stroke-width="2.2"/>
<ellipse cx="1802.9" cy="981.1" rx="4.3" ry="4.6" fill="#3a9591"/>
<ellipse cx="1802.9" cy="1025.7" rx="4.3" ry="4.6" fill="#3a9591"/>
<ellipse cx="1785.4" cy="1031.8" rx="4.3" ry="4.6" fill="#3a9591"/>
<ellipse cx="1820.2" cy="1034.5" rx="4.3" ry="4.6" fill="#3a9591"/>
<ellipse cx="1802.9" cy="1070.2" rx="4.3" ry="4.6" fill="#3a9591"/>
<ellipse cx="1802.9" cy="1141.7" rx="4.3" ry="4.6" fill="#3a9591"/>
<line x1="1909.1" y1="1150.6" x2="1909.1" y2="1159.6" stroke="#999" stroke-width="1.4"/>
<text x="1910.3" y="1187.2" font-size="21" letter-spacing="0.45" text-anchor="middle" fill="#111111" font-style="italic" class="cl" stroke="#111111">IDH2</text>
<line x1="1909.1" y1="1059.8" x2="1909.1" y2="1140" stroke="#000" stroke-width="2.2"/>
<line x1="1878.1" y1="1100.1" x2="1940.1" y2="1100.1" stroke="#000" stroke-width="2.2"/>
<line x1="1893.1" y1="1059.8" x2="1925.1" y2="1059.8" stroke="#000" stroke-width="2.2"/>
<line x1="1893.1" y1="1140" x2="1925.1" y2="1140" stroke="#000" stroke-width="2.2"/>
<ellipse cx="1909.1" cy="1031.5" rx="4.3" ry="4.6" fill="#5b2ca3"/>
<ellipse cx="1909.1" cy="1088" rx="4.3" ry="4.6" fill="#5b2ca3"/>
<ellipse cx="1909.1" cy="1100.5" rx="4.3" ry="4.6" fill="#5b2ca3"/>
<ellipse cx="1900.5" cy="1141.7" rx="4.3" ry="4.6" fill="#5b2ca3"/>
<ellipse cx="1918" cy="1138.7" rx="4.3" ry="4.6" fill="#5b2ca3"/>
<line x1="1271" y1="852.9" x2="1463.8" y2="852.9" stroke="#9a9a9a" stroke-width="1.3"/>
<line x1="1482.3" y1="852.9" x2="1687.7" y2="852.9" stroke="#9a9a9a" stroke-width="1.3"/>
<text x="1470.55" y="863.8" font-size="24.4" fill="#222" stroke="#222">*</text>
<line x1="1271" y1="867" x2="1405.3" y2="867" stroke="#9a9a9a" stroke-width="1.3"/>
<line x1="1435.5" y1="867" x2="1579.5" y2="867" stroke="#9a9a9a" stroke-width="1.3"/>
<text x="1412.7" y="877.9" font-size="24.4" fill="#222" stroke="#222">*</text>
<text x="1422.6" y="877.9" font-size="24.4" fill="#222" stroke="#222">*</text>
<line x1="1271" y1="881" x2="1367.2" y2="881" stroke="#9a9a9a" stroke-width="1.3"/>
<line x1="1397.4" y1="881" x2="1483.7" y2="881" stroke="#9a9a9a" stroke-width="1.3"/>
<text x="1373.9" y="891.9" font-size="24.4" fill="#222" stroke="#222">*</text>
<text x="1383.8" y="891.9" font-size="24.4" fill="#222" stroke="#222">*</text>
<line x1="1271" y1="895" x2="1313.2" y2="895" stroke="#9a9a9a" stroke-width="1.3"/>
<line x1="1331.3" y1="895" x2="1377.5" y2="895" stroke="#9a9a9a" stroke-width="1.3"/>
<text x="1319.05" y="905.9" font-size="24.4" fill="#222" stroke="#222">*</text>
<text x="1818.35" y="868.61" font-size="24.4" fill="#222" transform="rotate(90 1823.1 856.1)" stroke="#222">*</text>
<text x="1801.65" y="890" font-size="24.4" fill="#222" transform="rotate(90 1806.4 877.5)" stroke="#222">*</text>
<text x="1817.25" y="890" font-size="24.4" fill="#222" transform="rotate(90 1822 877.5)" stroke="#222">*</text>
<text x="1835" y="859.2" font-size="19.2" fill="#111111" stroke="#111111">p-val ≤0.05</text>
<text x="1835" y="879.7" font-size="19" fill="#111111" stroke="#111111">p-val ≤0.001</text>
</svg>
</body></html>
